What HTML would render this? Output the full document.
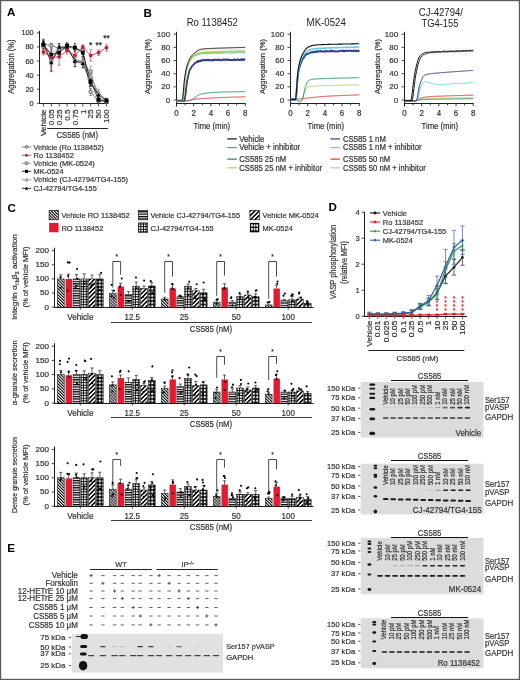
<!DOCTYPE html>
<html><head><meta charset="utf-8"><style>
html,body{margin:0;padding:0;background:#fff;}
svg{display:block;font-family:"Liberation Sans",sans-serif;will-change:transform;}
</style></head><body>
<svg width="520" height="680" viewBox="0 0 520 680">
<defs>
<pattern id="p0" patternUnits="userSpaceOnUse" width="2.1" height="2.1" patternTransform="rotate(-45)"><rect width="2.1" height="2.1" fill="#fff"/><rect width="1.05" height="2.1" fill="#000"/></pattern>
<pattern id="p2" patternUnits="userSpaceOnUse" width="2.4" height="2.4"><rect width="2.4" height="2.4" fill="#fff"/><rect width="2.4" height="1.25" fill="#000"/></pattern>
<pattern id="p3" patternUnits="userSpaceOnUse" width="2.6" height="2.6"><rect width="2.6" height="2.6" fill="#fff"/><rect x="0" width="0.9" height="2.6" fill="#000"/><rect y="0" width="2.6" height="0.9" fill="#000"/></pattern>
<pattern id="p4" patternUnits="userSpaceOnUse" width="3.1" height="3.1" patternTransform="rotate(45)"><rect width="3.1" height="3.1" fill="#fff"/><rect width="1.55" height="3.1" fill="#000"/></pattern>
<pattern id="p5" patternUnits="userSpaceOnUse" width="3.5" height="3.5"><rect width="3.5" height="3.5" fill="#000"/><rect x="0.7" y="0.7" width="2.1" height="2.1" fill="#fff"/></pattern>
</defs>
<rect x="0.6" y="0.6" width="518.8" height="678.8" fill="white" stroke="#5a5a5a" stroke-width="1.2"/>
<text x="7" y="16.3" font-size="11.6" font-weight="bold" fill="#000">A</text>
<line x1="39.5" y1="30.8" x2="39.5" y2="104" stroke="#231f20" stroke-width="1"/>
<line x1="39" y1="103.5" x2="108.5" y2="103.5" stroke="#231f20" stroke-width="1"/>
<line x1="36.9" y1="103.3" x2="39.5" y2="103.3" stroke="#231f20" stroke-width="0.8"/>
<text x="33.6" y="105.8" font-size="7.74" text-anchor="end" fill="#333" stroke="#333" stroke-width="0.2" textLength="4.06" lengthAdjust="spacingAndGlyphs">0</text>
<line x1="36.9" y1="89.22" x2="39.5" y2="89.22" stroke="#231f20" stroke-width="0.8"/>
<text x="33.6" y="91.72" font-size="7.74" text-anchor="end" fill="#333" stroke="#333" stroke-width="0.2" textLength="8.12" lengthAdjust="spacingAndGlyphs">20</text>
<line x1="36.9" y1="75.14" x2="39.5" y2="75.14" stroke="#231f20" stroke-width="0.8"/>
<text x="33.6" y="77.64" font-size="7.74" text-anchor="end" fill="#333" stroke="#333" stroke-width="0.2" textLength="8.12" lengthAdjust="spacingAndGlyphs">40</text>
<line x1="36.9" y1="61.06" x2="39.5" y2="61.06" stroke="#231f20" stroke-width="0.8"/>
<text x="33.6" y="63.56" font-size="7.74" text-anchor="end" fill="#333" stroke="#333" stroke-width="0.2" textLength="8.12" lengthAdjust="spacingAndGlyphs">60</text>
<line x1="36.9" y1="46.98" x2="39.5" y2="46.98" stroke="#231f20" stroke-width="0.8"/>
<text x="33.6" y="49.48" font-size="7.74" text-anchor="end" fill="#333" stroke="#333" stroke-width="0.2" textLength="8.12" lengthAdjust="spacingAndGlyphs">80</text>
<line x1="36.9" y1="32.9" x2="39.5" y2="32.9" stroke="#231f20" stroke-width="0.8"/>
<text x="33.6" y="35.4" font-size="7.74" text-anchor="end" fill="#333" stroke="#333" stroke-width="0.2" textLength="12.18" lengthAdjust="spacingAndGlyphs">100</text>
<text transform="translate(14.1 66.7) rotate(-90)" font-size="8.48" text-anchor="middle" fill="#333" stroke="#333" stroke-width="0.2" textLength="54.2" lengthAdjust="spacingAndGlyphs">Aggregation (%)</text>
<line x1="43.4" y1="103.6" x2="43.4" y2="106.5" stroke="#231f20" stroke-width="0.8"/>
<text transform="translate(46.1 109.4) rotate(-90)" font-size="8.06" text-anchor="end" fill="#333" stroke="#333" stroke-width="0.2" textLength="26.67" lengthAdjust="spacingAndGlyphs">Vehicle</text>
<line x1="51.28" y1="103.6" x2="51.28" y2="106.5" stroke="#231f20" stroke-width="0.8"/>
<text transform="translate(53.98 109.4) rotate(-90)" font-size="8.06" text-anchor="end" fill="#333" stroke="#333" stroke-width="0.2" textLength="15.83" lengthAdjust="spacingAndGlyphs">0.05</text>
<line x1="59.16" y1="103.6" x2="59.16" y2="106.5" stroke="#231f20" stroke-width="0.8"/>
<text transform="translate(61.86 109.4) rotate(-90)" font-size="8.06" text-anchor="end" fill="#333" stroke="#333" stroke-width="0.2" textLength="15.83" lengthAdjust="spacingAndGlyphs">0.25</text>
<line x1="67.04" y1="103.6" x2="67.04" y2="106.5" stroke="#231f20" stroke-width="0.8"/>
<text transform="translate(69.74 109.4) rotate(-90)" font-size="8.06" text-anchor="end" fill="#333" stroke="#333" stroke-width="0.2" textLength="11.3" lengthAdjust="spacingAndGlyphs">0.5</text>
<line x1="74.92" y1="103.6" x2="74.92" y2="106.5" stroke="#231f20" stroke-width="0.8"/>
<text transform="translate(77.62 109.4) rotate(-90)" font-size="8.06" text-anchor="end" fill="#333" stroke="#333" stroke-width="0.2" textLength="15.83" lengthAdjust="spacingAndGlyphs">0.75</text>
<line x1="82.8" y1="103.6" x2="82.8" y2="106.5" stroke="#231f20" stroke-width="0.8"/>
<text transform="translate(85.5 109.4) rotate(-90)" font-size="8.06" text-anchor="end" fill="#333" stroke="#333" stroke-width="0.2" textLength="4.52" lengthAdjust="spacingAndGlyphs">1</text>
<line x1="90.68" y1="103.6" x2="90.68" y2="106.5" stroke="#231f20" stroke-width="0.8"/>
<text transform="translate(93.38 109.4) rotate(-90)" font-size="8.06" text-anchor="end" fill="#333" stroke="#333" stroke-width="0.2" textLength="9.05" lengthAdjust="spacingAndGlyphs">25</text>
<line x1="98.56" y1="103.6" x2="98.56" y2="106.5" stroke="#231f20" stroke-width="0.8"/>
<text transform="translate(101.26 109.4) rotate(-90)" font-size="8.06" text-anchor="end" fill="#333" stroke="#333" stroke-width="0.2" textLength="9.05" lengthAdjust="spacingAndGlyphs">50</text>
<line x1="106.44" y1="103.6" x2="106.44" y2="106.5" stroke="#231f20" stroke-width="0.8"/>
<text transform="translate(109.14 109.4) rotate(-90)" font-size="8.06" text-anchor="end" fill="#333" stroke="#333" stroke-width="0.2" textLength="13.57" lengthAdjust="spacingAndGlyphs">100</text>
<line x1="47.3" y1="128.5" x2="107.8" y2="128.5" stroke="#231f20" stroke-width="1"/>
<text x="77.3" y="137.6" font-size="8.69" text-anchor="middle" fill="#333" stroke="#333" stroke-width="0.2" textLength="41.5" lengthAdjust="spacingAndGlyphs">CS585 (nM)</text>
<polyline points="43.4,44.16 51.28,45.57 59.16,48.39 67.04,46.98 74.92,48.39 82.8,50.5 90.68,92.04 98.56,101.19 106.44,101.19" fill="none" stroke="#58595b" stroke-width="0.8"/>
<line x1="43.4" y1="47.68" x2="43.4" y2="40.64" stroke="#58595b" stroke-width="0.6"/>
<line x1="42.1" y1="40.64" x2="44.7" y2="40.64" stroke="#58595b" stroke-width="0.6"/>
<line x1="42.1" y1="47.68" x2="44.7" y2="47.68" stroke="#58595b" stroke-width="0.6"/>
<line x1="51.28" y1="47.68" x2="51.28" y2="43.46" stroke="#58595b" stroke-width="0.6"/>
<line x1="49.98" y1="43.46" x2="52.58" y2="43.46" stroke="#58595b" stroke-width="0.6"/>
<line x1="49.98" y1="47.68" x2="52.58" y2="47.68" stroke="#58595b" stroke-width="0.6"/>
<line x1="59.16" y1="51.2" x2="59.16" y2="45.57" stroke="#58595b" stroke-width="0.6"/>
<line x1="57.86" y1="45.57" x2="60.46" y2="45.57" stroke="#58595b" stroke-width="0.6"/>
<line x1="57.86" y1="51.2" x2="60.46" y2="51.2" stroke="#58595b" stroke-width="0.6"/>
<line x1="67.04" y1="49.09" x2="67.04" y2="44.87" stroke="#58595b" stroke-width="0.6"/>
<line x1="65.74" y1="44.87" x2="68.34" y2="44.87" stroke="#58595b" stroke-width="0.6"/>
<line x1="65.74" y1="49.09" x2="68.34" y2="49.09" stroke="#58595b" stroke-width="0.6"/>
<line x1="74.92" y1="51.2" x2="74.92" y2="45.57" stroke="#58595b" stroke-width="0.6"/>
<line x1="73.62" y1="45.57" x2="76.22" y2="45.57" stroke="#58595b" stroke-width="0.6"/>
<line x1="73.62" y1="51.2" x2="76.22" y2="51.2" stroke="#58595b" stroke-width="0.6"/>
<line x1="82.8" y1="54.02" x2="82.8" y2="46.98" stroke="#58595b" stroke-width="0.6"/>
<line x1="81.5" y1="46.98" x2="84.1" y2="46.98" stroke="#58595b" stroke-width="0.6"/>
<line x1="81.5" y1="54.02" x2="84.1" y2="54.02" stroke="#58595b" stroke-width="0.6"/>
<line x1="90.68" y1="95.56" x2="90.68" y2="88.52" stroke="#58595b" stroke-width="0.6"/>
<line x1="89.38" y1="88.52" x2="91.98" y2="88.52" stroke="#58595b" stroke-width="0.6"/>
<line x1="89.38" y1="95.56" x2="91.98" y2="95.56" stroke="#58595b" stroke-width="0.6"/>
<line x1="98.56" y1="102.6" x2="98.56" y2="99.78" stroke="#58595b" stroke-width="0.6"/>
<line x1="97.26" y1="99.78" x2="99.86" y2="99.78" stroke="#58595b" stroke-width="0.6"/>
<line x1="97.26" y1="102.6" x2="99.86" y2="102.6" stroke="#58595b" stroke-width="0.6"/>
<line x1="106.44" y1="102.6" x2="106.44" y2="99.78" stroke="#58595b" stroke-width="0.6"/>
<line x1="105.14" y1="99.78" x2="107.74" y2="99.78" stroke="#58595b" stroke-width="0.6"/>
<line x1="105.14" y1="102.6" x2="107.74" y2="102.6" stroke="#58595b" stroke-width="0.6"/>
<polyline points="43.4,45.57 51.28,61.06 59.16,50.5 67.04,47.68 74.92,61.06 82.8,62.47 90.68,71.62 98.56,99.78 106.44,101.19" fill="none" stroke="#808285" stroke-width="0.8"/>
<line x1="43.4" y1="49.8" x2="43.4" y2="41.35" stroke="#808285" stroke-width="0.6"/>
<line x1="42.1" y1="41.35" x2="44.7" y2="41.35" stroke="#808285" stroke-width="0.6"/>
<line x1="42.1" y1="49.8" x2="44.7" y2="49.8" stroke="#808285" stroke-width="0.6"/>
<line x1="51.28" y1="66.69" x2="51.28" y2="55.43" stroke="#808285" stroke-width="0.6"/>
<line x1="49.98" y1="55.43" x2="52.58" y2="55.43" stroke="#808285" stroke-width="0.6"/>
<line x1="49.98" y1="66.69" x2="52.58" y2="66.69" stroke="#808285" stroke-width="0.6"/>
<line x1="59.16" y1="54.72" x2="59.16" y2="46.28" stroke="#808285" stroke-width="0.6"/>
<line x1="57.86" y1="46.28" x2="60.46" y2="46.28" stroke="#808285" stroke-width="0.6"/>
<line x1="57.86" y1="54.72" x2="60.46" y2="54.72" stroke="#808285" stroke-width="0.6"/>
<line x1="67.04" y1="50.5" x2="67.04" y2="44.87" stroke="#808285" stroke-width="0.6"/>
<line x1="65.74" y1="44.87" x2="68.34" y2="44.87" stroke="#808285" stroke-width="0.6"/>
<line x1="65.74" y1="50.5" x2="68.34" y2="50.5" stroke="#808285" stroke-width="0.6"/>
<line x1="74.92" y1="66.69" x2="74.92" y2="55.43" stroke="#808285" stroke-width="0.6"/>
<line x1="73.62" y1="55.43" x2="76.22" y2="55.43" stroke="#808285" stroke-width="0.6"/>
<line x1="73.62" y1="66.69" x2="76.22" y2="66.69" stroke="#808285" stroke-width="0.6"/>
<line x1="82.8" y1="68.1" x2="82.8" y2="56.84" stroke="#808285" stroke-width="0.6"/>
<line x1="81.5" y1="56.84" x2="84.1" y2="56.84" stroke="#808285" stroke-width="0.6"/>
<line x1="81.5" y1="68.1" x2="84.1" y2="68.1" stroke="#808285" stroke-width="0.6"/>
<line x1="90.68" y1="77.25" x2="90.68" y2="65.99" stroke="#808285" stroke-width="0.6"/>
<line x1="89.38" y1="65.99" x2="91.98" y2="65.99" stroke="#808285" stroke-width="0.6"/>
<line x1="89.38" y1="77.25" x2="91.98" y2="77.25" stroke="#808285" stroke-width="0.6"/>
<line x1="98.56" y1="101.89" x2="98.56" y2="97.67" stroke="#808285" stroke-width="0.6"/>
<line x1="97.26" y1="97.67" x2="99.86" y2="97.67" stroke="#808285" stroke-width="0.6"/>
<line x1="97.26" y1="101.89" x2="99.86" y2="101.89" stroke="#808285" stroke-width="0.6"/>
<line x1="106.44" y1="102.6" x2="106.44" y2="99.78" stroke="#808285" stroke-width="0.6"/>
<line x1="105.14" y1="99.78" x2="107.74" y2="99.78" stroke="#808285" stroke-width="0.6"/>
<line x1="105.14" y1="102.6" x2="107.74" y2="102.6" stroke="#808285" stroke-width="0.6"/>
<polyline points="43.4,43.46 51.28,55.43 59.16,46.98 67.04,48.39 74.92,59.65 82.8,61.06 90.68,76.55 98.56,92.74 106.44,99.78" fill="none" stroke="#808285" stroke-width="0.8"/>
<line x1="43.4" y1="46.28" x2="43.4" y2="40.64" stroke="#808285" stroke-width="0.6"/>
<line x1="42.1" y1="40.64" x2="44.7" y2="40.64" stroke="#808285" stroke-width="0.6"/>
<line x1="42.1" y1="46.28" x2="44.7" y2="46.28" stroke="#808285" stroke-width="0.6"/>
<line x1="51.28" y1="59.65" x2="51.28" y2="51.2" stroke="#808285" stroke-width="0.6"/>
<line x1="49.98" y1="51.2" x2="52.58" y2="51.2" stroke="#808285" stroke-width="0.6"/>
<line x1="49.98" y1="59.65" x2="52.58" y2="59.65" stroke="#808285" stroke-width="0.6"/>
<line x1="59.16" y1="49.8" x2="59.16" y2="44.16" stroke="#808285" stroke-width="0.6"/>
<line x1="57.86" y1="44.16" x2="60.46" y2="44.16" stroke="#808285" stroke-width="0.6"/>
<line x1="57.86" y1="49.8" x2="60.46" y2="49.8" stroke="#808285" stroke-width="0.6"/>
<line x1="67.04" y1="51.2" x2="67.04" y2="45.57" stroke="#808285" stroke-width="0.6"/>
<line x1="65.74" y1="45.57" x2="68.34" y2="45.57" stroke="#808285" stroke-width="0.6"/>
<line x1="65.74" y1="51.2" x2="68.34" y2="51.2" stroke="#808285" stroke-width="0.6"/>
<line x1="74.92" y1="63.88" x2="74.92" y2="55.43" stroke="#808285" stroke-width="0.6"/>
<line x1="73.62" y1="55.43" x2="76.22" y2="55.43" stroke="#808285" stroke-width="0.6"/>
<line x1="73.62" y1="63.88" x2="76.22" y2="63.88" stroke="#808285" stroke-width="0.6"/>
<line x1="82.8" y1="65.28" x2="82.8" y2="56.84" stroke="#808285" stroke-width="0.6"/>
<line x1="81.5" y1="56.84" x2="84.1" y2="56.84" stroke="#808285" stroke-width="0.6"/>
<line x1="81.5" y1="65.28" x2="84.1" y2="65.28" stroke="#808285" stroke-width="0.6"/>
<line x1="90.68" y1="82.18" x2="90.68" y2="70.92" stroke="#808285" stroke-width="0.6"/>
<line x1="89.38" y1="70.92" x2="91.98" y2="70.92" stroke="#808285" stroke-width="0.6"/>
<line x1="89.38" y1="82.18" x2="91.98" y2="82.18" stroke="#808285" stroke-width="0.6"/>
<line x1="98.56" y1="96.26" x2="98.56" y2="89.22" stroke="#808285" stroke-width="0.6"/>
<line x1="97.26" y1="89.22" x2="99.86" y2="89.22" stroke="#808285" stroke-width="0.6"/>
<line x1="97.26" y1="96.26" x2="99.86" y2="96.26" stroke="#808285" stroke-width="0.6"/>
<line x1="106.44" y1="101.19" x2="106.44" y2="98.37" stroke="#808285" stroke-width="0.6"/>
<line x1="105.14" y1="98.37" x2="107.74" y2="98.37" stroke="#808285" stroke-width="0.6"/>
<line x1="105.14" y1="101.19" x2="107.74" y2="101.19" stroke="#808285" stroke-width="0.6"/>
<polyline points="43.4,44.87 51.28,54.72 59.16,52.61 67.04,45.57 74.92,47.68 82.8,52.61 90.68,81.48 98.56,99.78 106.44,100.48" fill="none" stroke="#000" stroke-width="0.8"/>
<line x1="43.4" y1="48.39" x2="43.4" y2="41.35" stroke="#000" stroke-width="0.6"/>
<line x1="42.1" y1="41.35" x2="44.7" y2="41.35" stroke="#000" stroke-width="0.6"/>
<line x1="42.1" y1="48.39" x2="44.7" y2="48.39" stroke="#000" stroke-width="0.6"/>
<line x1="51.28" y1="60.36" x2="51.28" y2="49.09" stroke="#000" stroke-width="0.6"/>
<line x1="49.98" y1="49.09" x2="52.58" y2="49.09" stroke="#000" stroke-width="0.6"/>
<line x1="49.98" y1="60.36" x2="52.58" y2="60.36" stroke="#000" stroke-width="0.6"/>
<line x1="59.16" y1="56.84" x2="59.16" y2="48.39" stroke="#000" stroke-width="0.6"/>
<line x1="57.86" y1="48.39" x2="60.46" y2="48.39" stroke="#000" stroke-width="0.6"/>
<line x1="57.86" y1="56.84" x2="60.46" y2="56.84" stroke="#000" stroke-width="0.6"/>
<line x1="67.04" y1="48.39" x2="67.04" y2="42.76" stroke="#000" stroke-width="0.6"/>
<line x1="65.74" y1="42.76" x2="68.34" y2="42.76" stroke="#000" stroke-width="0.6"/>
<line x1="65.74" y1="48.39" x2="68.34" y2="48.39" stroke="#000" stroke-width="0.6"/>
<line x1="74.92" y1="51.91" x2="74.92" y2="43.46" stroke="#000" stroke-width="0.6"/>
<line x1="73.62" y1="43.46" x2="76.22" y2="43.46" stroke="#000" stroke-width="0.6"/>
<line x1="73.62" y1="51.91" x2="76.22" y2="51.91" stroke="#000" stroke-width="0.6"/>
<line x1="82.8" y1="56.84" x2="82.8" y2="48.39" stroke="#000" stroke-width="0.6"/>
<line x1="81.5" y1="48.39" x2="84.1" y2="48.39" stroke="#000" stroke-width="0.6"/>
<line x1="81.5" y1="56.84" x2="84.1" y2="56.84" stroke="#000" stroke-width="0.6"/>
<line x1="90.68" y1="85.7" x2="90.68" y2="77.25" stroke="#000" stroke-width="0.6"/>
<line x1="89.38" y1="77.25" x2="91.98" y2="77.25" stroke="#000" stroke-width="0.6"/>
<line x1="89.38" y1="85.7" x2="91.98" y2="85.7" stroke="#000" stroke-width="0.6"/>
<line x1="98.56" y1="101.19" x2="98.56" y2="98.37" stroke="#000" stroke-width="0.6"/>
<line x1="97.26" y1="98.37" x2="99.86" y2="98.37" stroke="#000" stroke-width="0.6"/>
<line x1="97.26" y1="101.19" x2="99.86" y2="101.19" stroke="#000" stroke-width="0.6"/>
<line x1="106.44" y1="101.89" x2="106.44" y2="99.08" stroke="#000" stroke-width="0.6"/>
<line x1="105.14" y1="99.08" x2="107.74" y2="99.08" stroke="#000" stroke-width="0.6"/>
<line x1="105.14" y1="101.89" x2="107.74" y2="101.89" stroke="#000" stroke-width="0.6"/>
<polyline points="43.4,42.76 51.28,62.47 59.16,46.98 67.04,46.98 74.92,61.06 82.8,63.17 90.68,82.18 98.56,94.85 106.44,100.48" fill="none" stroke="#000" stroke-width="0.8"/>
<line x1="43.4" y1="46.28" x2="43.4" y2="39.24" stroke="#000" stroke-width="0.6"/>
<line x1="42.1" y1="39.24" x2="44.7" y2="39.24" stroke="#000" stroke-width="0.6"/>
<line x1="42.1" y1="46.28" x2="44.7" y2="46.28" stroke="#000" stroke-width="0.6"/>
<line x1="51.28" y1="70.92" x2="51.28" y2="54.02" stroke="#000" stroke-width="0.6"/>
<line x1="49.98" y1="54.02" x2="52.58" y2="54.02" stroke="#000" stroke-width="0.6"/>
<line x1="49.98" y1="70.92" x2="52.58" y2="70.92" stroke="#000" stroke-width="0.6"/>
<line x1="59.16" y1="50.5" x2="59.16" y2="43.46" stroke="#000" stroke-width="0.6"/>
<line x1="57.86" y1="43.46" x2="60.46" y2="43.46" stroke="#000" stroke-width="0.6"/>
<line x1="57.86" y1="50.5" x2="60.46" y2="50.5" stroke="#000" stroke-width="0.6"/>
<line x1="67.04" y1="49.8" x2="67.04" y2="44.16" stroke="#000" stroke-width="0.6"/>
<line x1="65.74" y1="44.16" x2="68.34" y2="44.16" stroke="#000" stroke-width="0.6"/>
<line x1="65.74" y1="49.8" x2="68.34" y2="49.8" stroke="#000" stroke-width="0.6"/>
<line x1="74.92" y1="66.69" x2="74.92" y2="55.43" stroke="#000" stroke-width="0.6"/>
<line x1="73.62" y1="55.43" x2="76.22" y2="55.43" stroke="#000" stroke-width="0.6"/>
<line x1="73.62" y1="66.69" x2="76.22" y2="66.69" stroke="#000" stroke-width="0.6"/>
<line x1="82.8" y1="67.4" x2="82.8" y2="58.95" stroke="#000" stroke-width="0.6"/>
<line x1="81.5" y1="58.95" x2="84.1" y2="58.95" stroke="#000" stroke-width="0.6"/>
<line x1="81.5" y1="67.4" x2="84.1" y2="67.4" stroke="#000" stroke-width="0.6"/>
<line x1="90.68" y1="86.4" x2="90.68" y2="77.96" stroke="#000" stroke-width="0.6"/>
<line x1="89.38" y1="77.96" x2="91.98" y2="77.96" stroke="#000" stroke-width="0.6"/>
<line x1="89.38" y1="86.4" x2="91.98" y2="86.4" stroke="#000" stroke-width="0.6"/>
<line x1="98.56" y1="97.67" x2="98.56" y2="92.04" stroke="#000" stroke-width="0.6"/>
<line x1="97.26" y1="92.04" x2="99.86" y2="92.04" stroke="#000" stroke-width="0.6"/>
<line x1="97.26" y1="97.67" x2="99.86" y2="97.67" stroke="#000" stroke-width="0.6"/>
<line x1="106.44" y1="101.89" x2="106.44" y2="99.08" stroke="#000" stroke-width="0.6"/>
<line x1="105.14" y1="99.08" x2="107.74" y2="99.08" stroke="#000" stroke-width="0.6"/>
<line x1="105.14" y1="101.89" x2="107.74" y2="101.89" stroke="#000" stroke-width="0.6"/>
<polyline points="43.4,51.91 51.28,57.54 59.16,56.84 67.04,50.5 74.92,55.43 82.8,46.98 90.68,55.43 98.56,52.61 106.44,47.68" fill="none" stroke="#c4213a" stroke-width="0.8"/>
<line x1="43.4" y1="54.72" x2="43.4" y2="49.09" stroke="#c4213a" stroke-width="0.6"/>
<line x1="42.1" y1="49.09" x2="44.7" y2="49.09" stroke="#c4213a" stroke-width="0.6"/>
<line x1="42.1" y1="54.72" x2="44.7" y2="54.72" stroke="#c4213a" stroke-width="0.6"/>
<line x1="51.28" y1="71.62" x2="51.28" y2="43.46" stroke="#c4213a" stroke-width="0.6"/>
<line x1="49.98" y1="43.46" x2="52.58" y2="43.46" stroke="#c4213a" stroke-width="0.6"/>
<line x1="49.98" y1="71.62" x2="52.58" y2="71.62" stroke="#c4213a" stroke-width="0.6"/>
<line x1="59.16" y1="65.28" x2="59.16" y2="48.39" stroke="#c4213a" stroke-width="0.6"/>
<line x1="57.86" y1="48.39" x2="60.46" y2="48.39" stroke="#c4213a" stroke-width="0.6"/>
<line x1="57.86" y1="65.28" x2="60.46" y2="65.28" stroke="#c4213a" stroke-width="0.6"/>
<line x1="67.04" y1="54.02" x2="67.04" y2="46.98" stroke="#c4213a" stroke-width="0.6"/>
<line x1="65.74" y1="46.98" x2="68.34" y2="46.98" stroke="#c4213a" stroke-width="0.6"/>
<line x1="65.74" y1="54.02" x2="68.34" y2="54.02" stroke="#c4213a" stroke-width="0.6"/>
<line x1="74.92" y1="61.06" x2="74.92" y2="49.8" stroke="#c4213a" stroke-width="0.6"/>
<line x1="73.62" y1="49.8" x2="76.22" y2="49.8" stroke="#c4213a" stroke-width="0.6"/>
<line x1="73.62" y1="61.06" x2="76.22" y2="61.06" stroke="#c4213a" stroke-width="0.6"/>
<line x1="82.8" y1="49.09" x2="82.8" y2="44.87" stroke="#c4213a" stroke-width="0.6"/>
<line x1="81.5" y1="44.87" x2="84.1" y2="44.87" stroke="#c4213a" stroke-width="0.6"/>
<line x1="81.5" y1="49.09" x2="84.1" y2="49.09" stroke="#c4213a" stroke-width="0.6"/>
<line x1="90.68" y1="61.06" x2="90.68" y2="49.8" stroke="#c4213a" stroke-width="0.6"/>
<line x1="89.38" y1="49.8" x2="91.98" y2="49.8" stroke="#c4213a" stroke-width="0.6"/>
<line x1="89.38" y1="61.06" x2="91.98" y2="61.06" stroke="#c4213a" stroke-width="0.6"/>
<line x1="98.56" y1="55.43" x2="98.56" y2="49.8" stroke="#c4213a" stroke-width="0.6"/>
<line x1="97.26" y1="49.8" x2="99.86" y2="49.8" stroke="#c4213a" stroke-width="0.6"/>
<line x1="97.26" y1="55.43" x2="99.86" y2="55.43" stroke="#c4213a" stroke-width="0.6"/>
<line x1="106.44" y1="51.2" x2="106.44" y2="44.16" stroke="#c4213a" stroke-width="0.6"/>
<line x1="105.14" y1="44.16" x2="107.74" y2="44.16" stroke="#c4213a" stroke-width="0.6"/>
<line x1="105.14" y1="51.2" x2="107.74" y2="51.2" stroke="#c4213a" stroke-width="0.6"/>
<circle cx="43.4" cy="44.16" r="1.71" fill="#d0d0d0" stroke="#58595b" stroke-width="0.9"/>
<circle cx="51.28" cy="45.57" r="1.71" fill="#d0d0d0" stroke="#58595b" stroke-width="0.9"/>
<circle cx="59.16" cy="48.39" r="1.71" fill="#d0d0d0" stroke="#58595b" stroke-width="0.9"/>
<circle cx="67.04" cy="46.98" r="1.71" fill="#d0d0d0" stroke="#58595b" stroke-width="0.9"/>
<circle cx="74.92" cy="48.39" r="1.71" fill="#d0d0d0" stroke="#58595b" stroke-width="0.9"/>
<circle cx="82.8" cy="50.5" r="1.71" fill="#d0d0d0" stroke="#58595b" stroke-width="0.9"/>
<circle cx="90.68" cy="92.04" r="1.71" fill="#d0d0d0" stroke="#58595b" stroke-width="0.9"/>
<circle cx="98.56" cy="101.19" r="1.71" fill="#d0d0d0" stroke="#58595b" stroke-width="0.9"/>
<circle cx="106.44" cy="101.19" r="1.71" fill="#d0d0d0" stroke="#58595b" stroke-width="0.9"/>
<rect x="41.78" y="43.96" width="3.23" height="3.23" fill="#bbb" stroke="#808285" stroke-width="0.9"/>
<rect x="49.66" y="59.45" width="3.23" height="3.23" fill="#bbb" stroke="#808285" stroke-width="0.9"/>
<rect x="57.54" y="48.88" width="3.23" height="3.23" fill="#bbb" stroke="#808285" stroke-width="0.9"/>
<rect x="65.42" y="46.07" width="3.23" height="3.23" fill="#bbb" stroke="#808285" stroke-width="0.9"/>
<rect x="73.31" y="59.45" width="3.23" height="3.23" fill="#bbb" stroke="#808285" stroke-width="0.9"/>
<rect x="81.19" y="60.85" width="3.23" height="3.23" fill="#bbb" stroke="#808285" stroke-width="0.9"/>
<rect x="89.07" y="70.01" width="3.23" height="3.23" fill="#bbb" stroke="#808285" stroke-width="0.9"/>
<rect x="96.95" y="98.17" width="3.23" height="3.23" fill="#bbb" stroke="#808285" stroke-width="0.9"/>
<rect x="104.83" y="99.57" width="3.23" height="3.23" fill="#bbb" stroke="#808285" stroke-width="0.9"/>
<path d="M43.4 41.37L45.3 44.98L41.5 44.98Z" fill="#ccc" stroke="#808285" stroke-width="0.8"/>
<path d="M51.28 53.34L53.18 56.95L49.38 56.95Z" fill="#ccc" stroke="#808285" stroke-width="0.8"/>
<path d="M59.16 44.89L61.06 48.5L57.26 48.5Z" fill="#ccc" stroke="#808285" stroke-width="0.8"/>
<path d="M67.04 46.3L68.94 49.91L65.14 49.91Z" fill="#ccc" stroke="#808285" stroke-width="0.8"/>
<path d="M74.92 57.56L76.82 61.17L73.02 61.17Z" fill="#ccc" stroke="#808285" stroke-width="0.8"/>
<path d="M82.8 58.97L84.7 62.58L80.9 62.58Z" fill="#ccc" stroke="#808285" stroke-width="0.8"/>
<path d="M90.68 74.46L92.58 78.07L88.78 78.07Z" fill="#ccc" stroke="#808285" stroke-width="0.8"/>
<path d="M98.56 90.65L100.46 94.26L96.66 94.26Z" fill="#ccc" stroke="#808285" stroke-width="0.8"/>
<path d="M106.44 97.69L108.34 101.3L104.54 101.3Z" fill="#ccc" stroke="#808285" stroke-width="0.8"/>
<rect x="41.5" y="42.97" width="3.8" height="3.8" fill="#000"/>
<rect x="49.38" y="52.82" width="3.8" height="3.8" fill="#000"/>
<rect x="57.26" y="50.71" width="3.8" height="3.8" fill="#000"/>
<rect x="65.14" y="43.67" width="3.8" height="3.8" fill="#000"/>
<rect x="73.02" y="45.78" width="3.8" height="3.8" fill="#000"/>
<rect x="80.9" y="50.71" width="3.8" height="3.8" fill="#000"/>
<rect x="88.78" y="79.58" width="3.8" height="3.8" fill="#000"/>
<rect x="96.66" y="97.88" width="3.8" height="3.8" fill="#000"/>
<rect x="104.54" y="98.58" width="3.8" height="3.8" fill="#000"/>
<path d="M43.4 40.48L45.49 44.47L41.31 44.47Z" fill="#000"/>
<path d="M51.28 60.19L53.37 64.18L49.19 64.18Z" fill="#000"/>
<path d="M59.16 44.7L61.25 48.69L57.07 48.69Z" fill="#000"/>
<path d="M67.04 44.7L69.13 48.69L64.95 48.69Z" fill="#000"/>
<path d="M74.92 58.78L77.01 62.77L72.83 62.77Z" fill="#000"/>
<path d="M82.8 60.89L84.89 64.88L80.71 64.88Z" fill="#000"/>
<path d="M90.68 79.9L92.77 83.89L88.59 83.89Z" fill="#000"/>
<path d="M98.56 92.57L100.65 96.56L96.47 96.56Z" fill="#000"/>
<path d="M106.44 98.2L108.53 102.19L104.35 102.19Z" fill="#000"/>
<circle cx="43.4" cy="51.91" r="1.9" fill="#c4213a"/>
<circle cx="51.28" cy="57.54" r="1.9" fill="#c4213a"/>
<circle cx="59.16" cy="56.84" r="1.9" fill="#c4213a"/>
<circle cx="67.04" cy="50.5" r="1.9" fill="#c4213a"/>
<circle cx="74.92" cy="55.43" r="1.9" fill="#c4213a"/>
<circle cx="82.8" cy="46.98" r="1.9" fill="#c4213a"/>
<circle cx="90.68" cy="55.43" r="1.9" fill="#c4213a"/>
<circle cx="98.56" cy="52.61" r="1.9" fill="#c4213a"/>
<circle cx="106.44" cy="47.68" r="1.9" fill="#c4213a"/>
<text x="90.6" y="47.8" font-size="9.01" text-anchor="middle" fill="#222" stroke="#222" stroke-width="0.2" textLength="3.31" lengthAdjust="spacingAndGlyphs">*</text>
<text x="98.7" y="47.8" font-size="9.01" text-anchor="middle" fill="#222" stroke="#222" stroke-width="0.2" textLength="6.62" lengthAdjust="spacingAndGlyphs">**</text>
<text x="106.5" y="41.4" font-size="9.01" text-anchor="middle" fill="#222" stroke="#222" stroke-width="0.2" textLength="6.62" lengthAdjust="spacingAndGlyphs">**</text>
<line x1="21.9" y1="146.9" x2="31.2" y2="146.9" stroke="#58595b" stroke-width="0.8"/>
<circle cx="26.5" cy="146.9" r="1.35" fill="#d0d0d0" stroke="#58595b" stroke-width="0.9"/>
<text x="33.5" y="149.5" font-size="7.84" fill="#333" stroke="#333" stroke-width="0.2" textLength="70.3" lengthAdjust="spacingAndGlyphs">Vehicle (Ro 1138452)</text>
<line x1="21.9" y1="155.3" x2="31.2" y2="155.3" stroke="#c4213a" stroke-width="0.8"/>
<circle cx="26.5" cy="155.3" r="1.5" fill="#c4213a"/>
<text x="33.5" y="157.9" font-size="7.84" fill="#333" stroke="#333" stroke-width="0.2" textLength="40.32" lengthAdjust="spacingAndGlyphs">Ro 1138452</text>
<line x1="21.9" y1="163.2" x2="31.2" y2="163.2" stroke="#808285" stroke-width="0.8"/>
<rect x="25.23" y="161.92" width="2.55" height="2.55" fill="#bbb" stroke="#808285" stroke-width="0.9"/>
<text x="33.5" y="165.8" font-size="7.84" fill="#333" stroke="#333" stroke-width="0.2" textLength="61.28" lengthAdjust="spacingAndGlyphs">Vehicle (MK-0524)</text>
<line x1="21.9" y1="171.3" x2="31.2" y2="171.3" stroke="#000" stroke-width="0.8"/>
<rect x="25" y="169.8" width="3" height="3" fill="#000"/>
<text x="33.5" y="173.9" font-size="7.84" fill="#333" stroke="#333" stroke-width="0.2" textLength="30.03" lengthAdjust="spacingAndGlyphs">MK-0524</text>
<line x1="21.9" y1="179.8" x2="31.2" y2="179.8" stroke="#808285" stroke-width="0.8"/>
<path d="M26.5 178.15L28 181L25 181Z" fill="#ccc" stroke="#808285" stroke-width="0.8"/>
<text x="33.5" y="182.4" font-size="7.84" fill="#333" stroke="#333" stroke-width="0.2" textLength="94.5" lengthAdjust="spacingAndGlyphs">Vehicle (CJ-42794/TG4-155)</text>
<line x1="21.9" y1="188.3" x2="31.2" y2="188.3" stroke="#000" stroke-width="0.8"/>
<path d="M26.5 186.5L28.15 189.65L24.85 189.65Z" fill="#000"/>
<text x="33.5" y="190.9" font-size="7.84" fill="#333" stroke="#333" stroke-width="0.2" textLength="63.34" lengthAdjust="spacingAndGlyphs">CJ-42794/TG4-155</text>
<text x="143.6" y="16.6" font-size="11.6" font-weight="bold" fill="#000">B</text>
<text x="212.3" y="26.4" font-size="10.49" text-anchor="middle" fill="#222" textLength="51.2" lengthAdjust="spacingAndGlyphs">Ro 1138452</text>
<line x1="176.5" y1="31.8" x2="176.5" y2="106.4" stroke="#231f20" stroke-width="1"/>
<line x1="176" y1="103.5" x2="245.72" y2="103.5" stroke="#231f20" stroke-width="1"/>
<line x1="173.5" y1="100" x2="176.5" y2="100" stroke="#231f20" stroke-width="0.8"/>
<text x="170.1" y="102.6" font-size="8.06" text-anchor="end" fill="#333" stroke="#333" stroke-width="0.2" textLength="4.44" lengthAdjust="spacingAndGlyphs">0</text>
<line x1="173.5" y1="86.84" x2="176.5" y2="86.84" stroke="#231f20" stroke-width="0.8"/>
<text x="170.1" y="89.44" font-size="8.06" text-anchor="end" fill="#333" stroke="#333" stroke-width="0.2" textLength="8.88" lengthAdjust="spacingAndGlyphs">20</text>
<line x1="173.5" y1="73.68" x2="176.5" y2="73.68" stroke="#231f20" stroke-width="0.8"/>
<text x="170.1" y="76.28" font-size="8.06" text-anchor="end" fill="#333" stroke="#333" stroke-width="0.2" textLength="8.88" lengthAdjust="spacingAndGlyphs">40</text>
<line x1="173.5" y1="60.52" x2="176.5" y2="60.52" stroke="#231f20" stroke-width="0.8"/>
<text x="170.1" y="63.12" font-size="8.06" text-anchor="end" fill="#333" stroke="#333" stroke-width="0.2" textLength="8.88" lengthAdjust="spacingAndGlyphs">60</text>
<line x1="173.5" y1="47.36" x2="176.5" y2="47.36" stroke="#231f20" stroke-width="0.8"/>
<text x="170.1" y="49.96" font-size="8.06" text-anchor="end" fill="#333" stroke="#333" stroke-width="0.2" textLength="8.88" lengthAdjust="spacingAndGlyphs">80</text>
<line x1="173.5" y1="34.2" x2="176.5" y2="34.2" stroke="#231f20" stroke-width="0.8"/>
<text x="170.1" y="36.8" font-size="8.06" text-anchor="end" fill="#333" stroke="#333" stroke-width="0.2" textLength="13.31" lengthAdjust="spacingAndGlyphs">100</text>
<line x1="176.5" y1="103.5" x2="176.5" y2="106.2" stroke="#231f20" stroke-width="0.9"/>
<text x="176.5" y="116.3" font-size="8.37" text-anchor="middle" fill="#333" stroke="#333" stroke-width="0.2" textLength="4.39" lengthAdjust="spacingAndGlyphs">0</text>
<line x1="185.09" y1="103.5" x2="185.09" y2="105.4" stroke="#231f20" stroke-width="0.9"/>
<line x1="193.68" y1="103.5" x2="193.68" y2="106.2" stroke="#231f20" stroke-width="0.9"/>
<text x="193.68" y="116.3" font-size="8.37" text-anchor="middle" fill="#333" stroke="#333" stroke-width="0.2" textLength="4.39" lengthAdjust="spacingAndGlyphs">2</text>
<line x1="202.27" y1="103.5" x2="202.27" y2="105.4" stroke="#231f20" stroke-width="0.9"/>
<line x1="210.86" y1="103.5" x2="210.86" y2="106.2" stroke="#231f20" stroke-width="0.9"/>
<text x="210.86" y="116.3" font-size="8.37" text-anchor="middle" fill="#333" stroke="#333" stroke-width="0.2" textLength="4.39" lengthAdjust="spacingAndGlyphs">4</text>
<line x1="219.45" y1="103.5" x2="219.45" y2="105.4" stroke="#231f20" stroke-width="0.9"/>
<line x1="228.04" y1="103.5" x2="228.04" y2="106.2" stroke="#231f20" stroke-width="0.9"/>
<text x="228.04" y="116.3" font-size="8.37" text-anchor="middle" fill="#333" stroke="#333" stroke-width="0.2" textLength="4.39" lengthAdjust="spacingAndGlyphs">6</text>
<line x1="236.63" y1="103.5" x2="236.63" y2="105.4" stroke="#231f20" stroke-width="0.9"/>
<line x1="245.22" y1="103.5" x2="245.22" y2="106.2" stroke="#231f20" stroke-width="0.9"/>
<text x="245.22" y="116.3" font-size="8.37" text-anchor="middle" fill="#333" stroke="#333" stroke-width="0.2" textLength="4.39" lengthAdjust="spacingAndGlyphs">8</text>
<text x="211.8" y="128.7" font-size="8.69" text-anchor="middle" fill="#333" stroke="#333" stroke-width="0.2" textLength="36.6" lengthAdjust="spacingAndGlyphs">Time (min)</text>
<text transform="translate(149.6 66.5) rotate(-90)" font-size="8.06" text-anchor="middle" fill="#333" stroke="#333" stroke-width="0.2" textLength="55" lengthAdjust="spacingAndGlyphs">Aggregation (%)</text>
<text x="326.2" y="26.4" font-size="10.49" text-anchor="middle" fill="#222" textLength="39.2" lengthAdjust="spacingAndGlyphs">MK-0524</text>
<line x1="290.5" y1="31.8" x2="290.5" y2="106.4" stroke="#231f20" stroke-width="1"/>
<line x1="290" y1="103.5" x2="359.72" y2="103.5" stroke="#231f20" stroke-width="1"/>
<line x1="287.5" y1="100" x2="290.5" y2="100" stroke="#231f20" stroke-width="0.8"/>
<text x="284.1" y="102.6" font-size="8.06" text-anchor="end" fill="#333" stroke="#333" stroke-width="0.2" textLength="4.44" lengthAdjust="spacingAndGlyphs">0</text>
<line x1="287.5" y1="86.84" x2="290.5" y2="86.84" stroke="#231f20" stroke-width="0.8"/>
<text x="284.1" y="89.44" font-size="8.06" text-anchor="end" fill="#333" stroke="#333" stroke-width="0.2" textLength="8.88" lengthAdjust="spacingAndGlyphs">20</text>
<line x1="287.5" y1="73.68" x2="290.5" y2="73.68" stroke="#231f20" stroke-width="0.8"/>
<text x="284.1" y="76.28" font-size="8.06" text-anchor="end" fill="#333" stroke="#333" stroke-width="0.2" textLength="8.88" lengthAdjust="spacingAndGlyphs">40</text>
<line x1="287.5" y1="60.52" x2="290.5" y2="60.52" stroke="#231f20" stroke-width="0.8"/>
<text x="284.1" y="63.12" font-size="8.06" text-anchor="end" fill="#333" stroke="#333" stroke-width="0.2" textLength="8.88" lengthAdjust="spacingAndGlyphs">60</text>
<line x1="287.5" y1="47.36" x2="290.5" y2="47.36" stroke="#231f20" stroke-width="0.8"/>
<text x="284.1" y="49.96" font-size="8.06" text-anchor="end" fill="#333" stroke="#333" stroke-width="0.2" textLength="8.88" lengthAdjust="spacingAndGlyphs">80</text>
<line x1="287.5" y1="34.2" x2="290.5" y2="34.2" stroke="#231f20" stroke-width="0.8"/>
<text x="284.1" y="36.8" font-size="8.06" text-anchor="end" fill="#333" stroke="#333" stroke-width="0.2" textLength="13.31" lengthAdjust="spacingAndGlyphs">100</text>
<line x1="290.5" y1="103.5" x2="290.5" y2="106.2" stroke="#231f20" stroke-width="0.9"/>
<text x="290.5" y="116.3" font-size="8.37" text-anchor="middle" fill="#333" stroke="#333" stroke-width="0.2" textLength="4.39" lengthAdjust="spacingAndGlyphs">0</text>
<line x1="299.09" y1="103.5" x2="299.09" y2="105.4" stroke="#231f20" stroke-width="0.9"/>
<line x1="307.68" y1="103.5" x2="307.68" y2="106.2" stroke="#231f20" stroke-width="0.9"/>
<text x="307.68" y="116.3" font-size="8.37" text-anchor="middle" fill="#333" stroke="#333" stroke-width="0.2" textLength="4.39" lengthAdjust="spacingAndGlyphs">2</text>
<line x1="316.27" y1="103.5" x2="316.27" y2="105.4" stroke="#231f20" stroke-width="0.9"/>
<line x1="324.86" y1="103.5" x2="324.86" y2="106.2" stroke="#231f20" stroke-width="0.9"/>
<text x="324.86" y="116.3" font-size="8.37" text-anchor="middle" fill="#333" stroke="#333" stroke-width="0.2" textLength="4.39" lengthAdjust="spacingAndGlyphs">4</text>
<line x1="333.45" y1="103.5" x2="333.45" y2="105.4" stroke="#231f20" stroke-width="0.9"/>
<line x1="342.04" y1="103.5" x2="342.04" y2="106.2" stroke="#231f20" stroke-width="0.9"/>
<text x="342.04" y="116.3" font-size="8.37" text-anchor="middle" fill="#333" stroke="#333" stroke-width="0.2" textLength="4.39" lengthAdjust="spacingAndGlyphs">6</text>
<line x1="350.63" y1="103.5" x2="350.63" y2="105.4" stroke="#231f20" stroke-width="0.9"/>
<line x1="359.22" y1="103.5" x2="359.22" y2="106.2" stroke="#231f20" stroke-width="0.9"/>
<text x="359.22" y="116.3" font-size="8.37" text-anchor="middle" fill="#333" stroke="#333" stroke-width="0.2" textLength="4.39" lengthAdjust="spacingAndGlyphs">8</text>
<text x="325.8" y="128.7" font-size="8.69" text-anchor="middle" fill="#333" stroke="#333" stroke-width="0.2" textLength="36.6" lengthAdjust="spacingAndGlyphs">Time (min)</text>
<text transform="translate(265.3 66.5) rotate(-90)" font-size="8.06" text-anchor="middle" fill="#333" stroke="#333" stroke-width="0.2" textLength="55" lengthAdjust="spacingAndGlyphs">Aggregation (%)</text>
<text x="440.9" y="16.2" font-size="10.49" text-anchor="middle" fill="#222" textLength="44.2" lengthAdjust="spacingAndGlyphs">CJ-42794/</text>
<text x="440" y="26.5" font-size="10.49" text-anchor="middle" fill="#222" textLength="37" lengthAdjust="spacingAndGlyphs">TG4-155</text>
<line x1="404.5" y1="31.8" x2="404.5" y2="106.4" stroke="#231f20" stroke-width="1"/>
<line x1="404" y1="103.5" x2="473.72" y2="103.5" stroke="#231f20" stroke-width="1"/>
<line x1="401.5" y1="100" x2="404.5" y2="100" stroke="#231f20" stroke-width="0.8"/>
<text x="398.1" y="102.6" font-size="8.06" text-anchor="end" fill="#333" stroke="#333" stroke-width="0.2" textLength="4.44" lengthAdjust="spacingAndGlyphs">0</text>
<line x1="401.5" y1="86.84" x2="404.5" y2="86.84" stroke="#231f20" stroke-width="0.8"/>
<text x="398.1" y="89.44" font-size="8.06" text-anchor="end" fill="#333" stroke="#333" stroke-width="0.2" textLength="8.88" lengthAdjust="spacingAndGlyphs">20</text>
<line x1="401.5" y1="73.68" x2="404.5" y2="73.68" stroke="#231f20" stroke-width="0.8"/>
<text x="398.1" y="76.28" font-size="8.06" text-anchor="end" fill="#333" stroke="#333" stroke-width="0.2" textLength="8.88" lengthAdjust="spacingAndGlyphs">40</text>
<line x1="401.5" y1="60.52" x2="404.5" y2="60.52" stroke="#231f20" stroke-width="0.8"/>
<text x="398.1" y="63.12" font-size="8.06" text-anchor="end" fill="#333" stroke="#333" stroke-width="0.2" textLength="8.88" lengthAdjust="spacingAndGlyphs">60</text>
<line x1="401.5" y1="47.36" x2="404.5" y2="47.36" stroke="#231f20" stroke-width="0.8"/>
<text x="398.1" y="49.96" font-size="8.06" text-anchor="end" fill="#333" stroke="#333" stroke-width="0.2" textLength="8.88" lengthAdjust="spacingAndGlyphs">80</text>
<line x1="401.5" y1="34.2" x2="404.5" y2="34.2" stroke="#231f20" stroke-width="0.8"/>
<text x="398.1" y="36.8" font-size="8.06" text-anchor="end" fill="#333" stroke="#333" stroke-width="0.2" textLength="13.31" lengthAdjust="spacingAndGlyphs">100</text>
<line x1="404.5" y1="103.5" x2="404.5" y2="106.2" stroke="#231f20" stroke-width="0.9"/>
<text x="404.5" y="116.3" font-size="8.37" text-anchor="middle" fill="#333" stroke="#333" stroke-width="0.2" textLength="4.39" lengthAdjust="spacingAndGlyphs">0</text>
<line x1="413.09" y1="103.5" x2="413.09" y2="105.4" stroke="#231f20" stroke-width="0.9"/>
<line x1="421.68" y1="103.5" x2="421.68" y2="106.2" stroke="#231f20" stroke-width="0.9"/>
<text x="421.68" y="116.3" font-size="8.37" text-anchor="middle" fill="#333" stroke="#333" stroke-width="0.2" textLength="4.39" lengthAdjust="spacingAndGlyphs">2</text>
<line x1="430.27" y1="103.5" x2="430.27" y2="105.4" stroke="#231f20" stroke-width="0.9"/>
<line x1="438.86" y1="103.5" x2="438.86" y2="106.2" stroke="#231f20" stroke-width="0.9"/>
<text x="438.86" y="116.3" font-size="8.37" text-anchor="middle" fill="#333" stroke="#333" stroke-width="0.2" textLength="4.39" lengthAdjust="spacingAndGlyphs">4</text>
<line x1="447.45" y1="103.5" x2="447.45" y2="105.4" stroke="#231f20" stroke-width="0.9"/>
<line x1="456.04" y1="103.5" x2="456.04" y2="106.2" stroke="#231f20" stroke-width="0.9"/>
<text x="456.04" y="116.3" font-size="8.37" text-anchor="middle" fill="#333" stroke="#333" stroke-width="0.2" textLength="4.39" lengthAdjust="spacingAndGlyphs">6</text>
<line x1="464.63" y1="103.5" x2="464.63" y2="105.4" stroke="#231f20" stroke-width="0.9"/>
<line x1="473.22" y1="103.5" x2="473.22" y2="106.2" stroke="#231f20" stroke-width="0.9"/>
<text x="473.22" y="116.3" font-size="8.37" text-anchor="middle" fill="#333" stroke="#333" stroke-width="0.2" textLength="4.39" lengthAdjust="spacingAndGlyphs">8</text>
<text x="439.8" y="128.7" font-size="8.69" text-anchor="middle" fill="#333" stroke="#333" stroke-width="0.2" textLength="36.6" lengthAdjust="spacingAndGlyphs">Time (min)</text>
<text transform="translate(380.2 66.5) rotate(-90)" font-size="8.06" text-anchor="middle" fill="#333" stroke="#333" stroke-width="0.2" textLength="55" lengthAdjust="spacingAndGlyphs">Aggregation (%)</text>
<polyline points="176.5,100.66 176.93,100.66 177.36,100.67 177.79,100.68 178.22,100.69 178.65,100.7 179.08,100.71 179.51,100.71 179.94,100.72 180.37,100.73 180.79,100.74 181.22,100.75 181.65,100.76 182.08,100.76 182.51,100.77 182.94,100.78 183.37,100.78 183.8,100.78 184.23,100.79 184.66,100.79 185.09,100.79 185.52,100.79 185.95,100.78 186.38,100.78 186.81,100.77 187.24,100.76 187.67,100.74 188.1,100.72 188.53,100.71 188.96,100.68 189.38,100.66 189.81,100.6 190.24,100.48 190.67,100.31 191.1,100.11 191.53,99.89 191.96,99.67 192.39,99.41 192.82,99.09 193.25,98.73 193.68,98.35 194.11,97.98 194.54,97.62 194.97,97.31 195.4,97.01 195.83,96.71 196.26,96.41 196.69,96.12 197.12,95.83 197.55,95.56 197.97,95.31 198.4,95.08 198.83,94.87 199.26,94.7 199.69,94.55 200.12,94.41 200.55,94.29 200.98,94.16 201.41,94.05 201.84,93.94 202.27,93.84 202.7,93.74 203.13,93.65 203.56,93.57 203.99,93.49 204.42,93.41 204.85,93.34 205.28,93.27 205.71,93.21 206.14,93.16 206.56,93.1 206.99,93.05 207.42,93 207.85,92.95 208.28,92.9 208.71,92.86 209.14,92.81 209.57,92.77 210,92.73 210.43,92.69 210.86,92.65 211.29,92.61 211.72,92.58 212.15,92.55 212.58,92.52 213.01,92.49 213.44,92.46 213.87,92.43 214.3,92.41 214.73,92.39 215.15,92.37 215.58,92.35 216.01,92.33 216.44,92.31 216.87,92.29 217.3,92.28 217.73,92.26 218.16,92.24 218.59,92.23 219.02,92.21 219.45,92.2 219.88,92.18 220.31,92.17 220.74,92.15 221.17,92.14 221.6,92.12 222.03,92.11 222.46,92.1 222.89,92.09 223.32,92.07 223.74,92.06 224.17,92.05 224.6,92.04 225.03,92.03 225.46,92.01 225.89,92 226.32,91.99 226.75,91.98 227.18,91.97 227.61,91.96 228.04,91.95 228.47,91.94 228.9,91.93 229.33,91.92 229.76,91.91 230.19,91.9 230.62,91.89 231.05,91.88 231.48,91.88 231.91,91.87 232.33,91.86 232.76,91.85 233.19,91.84 233.62,91.83 234.05,91.82 234.48,91.81 234.91,91.81 235.34,91.8 235.77,91.79 236.2,91.78 236.63,91.77 237.06,91.76 237.49,91.75 237.92,91.74 238.35,91.74 238.78,91.73 239.21,91.72 239.64,91.71 240.07,91.7 240.5,91.69 240.92,91.68 241.35,91.67 241.78,91.66 242.21,91.65 242.64,91.64 243.07,91.63 243.5,91.62 243.93,91.61 244.36,91.6 244.79,91.59 245.22,91.58" fill="none" stroke="#23845a" stroke-width="0.9" stroke-linejoin="round"/>
<polyline points="176.5,100.99 176.93,100.99 177.36,100.99 177.79,100.99 178.22,100.99 178.65,100.99 179.08,100.99 179.51,100.99 179.94,100.99 180.37,100.99 180.79,100.99 181.22,100.99 181.65,100.99 182.08,100.99 182.51,100.99 182.94,100.99 183.37,100.99 183.8,100.99 184.23,100.99 184.66,100.99 185.09,100.99 185.52,100.99 185.95,100.99 186.38,100.98 186.81,100.94 187.24,100.89 187.67,100.81 188.1,100.73 188.53,100.63 188.96,100.52 189.38,100.4 189.81,100.28 190.24,100.16 190.67,100.03 191.1,99.91 191.53,99.79 191.96,99.67 192.39,99.57 192.82,99.48 193.25,99.4 193.68,99.34 194.11,99.29 194.54,99.24 194.97,99.19 195.4,99.15 195.83,99.1 196.26,99.06 196.69,99.01 197.12,98.97 197.55,98.93 197.97,98.89 198.4,98.85 198.83,98.81 199.26,98.78 199.69,98.74 200.12,98.7 200.55,98.67 200.98,98.64 201.41,98.6 201.84,98.57 202.27,98.54 202.7,98.51 203.13,98.48 203.56,98.45 203.99,98.42 204.42,98.39 204.85,98.37 205.28,98.34 205.71,98.31 206.14,98.29 206.56,98.26 206.99,98.24 207.42,98.21 207.85,98.19 208.28,98.17 208.71,98.14 209.14,98.12 209.57,98.09 210,98.07 210.43,98.05 210.86,98.03 211.29,98 211.72,97.98 212.15,97.96 212.58,97.94 213.01,97.92 213.44,97.89 213.87,97.87 214.3,97.85 214.73,97.83 215.15,97.81 215.58,97.79 216.01,97.77 216.44,97.75 216.87,97.74 217.3,97.72 217.73,97.7 218.16,97.68 218.59,97.66 219.02,97.64 219.45,97.63 219.88,97.61 220.31,97.59 220.74,97.57 221.17,97.56 221.6,97.54 222.03,97.52 222.46,97.51 222.89,97.49 223.32,97.47 223.74,97.46 224.17,97.44 224.6,97.43 225.03,97.41 225.46,97.4 225.89,97.38 226.32,97.36 226.75,97.35 227.18,97.33 227.61,97.32 228.04,97.3 228.47,97.29 228.9,97.28 229.33,97.26 229.76,97.25 230.19,97.23 230.62,97.22 231.05,97.2 231.48,97.19 231.91,97.17 232.33,97.16 232.76,97.14 233.19,97.13 233.62,97.12 234.05,97.1 234.48,97.09 234.91,97.07 235.34,97.06 235.77,97.04 236.2,97.03 236.63,97.02 237.06,97 237.49,96.99 237.92,96.97 238.35,96.96 238.78,96.94 239.21,96.93 239.64,96.91 240.07,96.9 240.5,96.88 240.92,96.87 241.35,96.85 241.78,96.84 242.21,96.82 242.64,96.81 243.07,96.79 243.5,96.77 243.93,96.76 244.36,96.74 244.79,96.73 245.22,96.71" fill="none" stroke="#e0363c" stroke-width="1" stroke-linejoin="round"/>
<polyline points="176.5,100.99 176.93,100.99 177.36,100.99 177.79,100.99 178.22,100.99 178.65,100.99 179.08,100.99 179.51,100.99 179.94,100.99 180.37,100.99 180.79,100.99 181.22,100.99 181.65,100.99 182.08,100.99 182.51,100.99 182.94,100.99 183.37,100.99 183.8,100.99 184.23,100.86 184.66,99.5 185.09,96.99 185.52,93.68 185.95,89.95 186.38,86.19 186.81,82.75 187.24,80.03 187.67,78 188.1,76.08 188.53,74.28 188.96,72.62 189.38,71.15 189.81,69.9 190.24,68.89 190.67,68.03 191.1,67.25 191.53,66.55 191.96,65.94 192.39,65.41 192.82,64.96 193.25,64.57 193.68,64.21 194.11,63.87 194.54,63.55 194.97,63.25 195.4,62.98 195.83,62.72 196.26,62.49 196.69,62.29 197.12,62.11 197.55,61.96 197.97,61.84 198.4,61.73 198.83,61.62 199.26,61.52 199.69,61.43 200.12,61.33 200.55,61.25 200.98,61.16 201.41,61.09 201.84,61.01 202.27,60.94 202.7,60.88 203.13,60.82 203.56,60.76 203.99,60.71 204.42,60.67 204.85,60.63 205.28,60.59 205.71,60.56 206.14,60.54 206.56,60.52 206.99,60.5 207.42,60.49 207.85,60.47 208.28,60.46 208.71,60.45 209.14,60.43 209.57,60.42 210,60.4 210.43,60.39 210.86,60.38 211.29,60.37 211.72,60.36 212.15,60.34 212.58,60.33 213.01,60.32 213.44,60.31 213.87,60.3 214.3,60.29 214.73,60.28 215.15,60.27 215.58,60.26 216.01,60.25 216.44,60.24 216.87,60.23 217.3,60.23 217.73,60.22 218.16,60.21 218.59,60.2 219.02,60.19 219.45,60.19 219.88,60.18 220.31,60.17 220.74,60.17 221.17,60.16 221.6,60.15 222.03,60.15 222.46,60.14 222.89,60.13 223.32,60.13 223.74,60.12 224.17,60.12 224.6,60.11 225.03,60.11 225.46,60.1 225.89,60.09 226.32,60.09 226.75,60.08 227.18,60.08 227.61,60.07 228.04,60.07 228.47,60.07 228.9,60.06 229.33,60.06 229.76,60.05 230.19,60.05 230.62,60.04 231.05,60.04 231.48,60.03 231.91,60.03 232.33,60.02 232.76,60.02 233.19,60.02 233.62,60.01 234.05,60.01 234.48,60 234.91,60 235.34,59.99 235.77,59.99 236.2,59.98 236.63,59.98 237.06,59.97 237.49,59.97 237.92,59.96 238.35,59.96 238.78,59.95 239.21,59.95 239.64,59.94 240.07,59.94 240.5,59.93 240.92,59.93 241.35,59.92 241.78,59.91 242.21,59.91 242.64,59.9 243.07,59.9 243.5,59.89 243.93,59.88 244.36,59.88 244.79,59.87 245.22,59.86" fill="none" stroke="#6a8f8a" stroke-width="0.8" stroke-linejoin="round"/>
<polyline points="176.5,100.87 176.93,101.07 177.36,100.48 177.79,101.16 178.22,100.62 178.65,100.82 179.08,101.18 179.51,100.65 179.94,101.21 180.37,100.74 180.79,101.17 181.22,101.14 181.65,100.75 182.08,100.27 182.51,101.1 182.94,100.99 183.37,100.51 183.8,100.13 184.23,100.57 184.66,99.91 185.09,96.91 185.52,94.71 185.95,89.92 186.38,86.7 186.81,83.35 187.24,80.71 187.67,78.41 188.1,75.82 188.53,74.71 188.96,72.53 189.38,70.96 189.81,70.02 190.24,68.84 190.67,68.62 191.1,67.93 191.53,67.15 191.96,66.04 192.39,65.85 192.82,65.52 193.25,64.76 193.68,64.49 194.11,64.26 194.54,63.29 194.97,63.04 195.4,63.24 195.83,62.55 196.26,62.34 196.69,61.7 197.12,61.67 197.55,62 197.97,61 198.4,61.84 198.83,61.32 199.26,60.76 199.69,61.33 200.12,60.8 200.55,61.21 200.98,60.37 201.41,60.17 201.84,60.34 202.27,59.94 202.7,60.58 203.13,60.1 203.56,60.2 203.99,60.19 204.42,60.32 204.85,59.84 205.28,59.69 205.71,60.23 206.14,59.99 206.56,60.68 206.99,59.91 207.42,59.96 207.85,59.53 208.28,59.72 208.71,60.34 209.14,60.21 209.57,59.86 210,60.61 210.43,60.08 210.86,60.42 211.29,60.47 211.72,60.53 212.15,59.68 212.58,60.43 213.01,60.28 213.44,60.1 213.87,59.52 214.3,60.45 214.73,60 215.15,59.88 215.58,59.48 216.01,59.54 216.44,59.48 216.87,60.17 217.3,60 217.73,60.06 218.16,59.43 218.59,59.34 219.02,60.28 219.45,60.25 219.88,60.17 220.31,60.16 220.74,59.86 221.17,59.73 221.6,60.11 222.03,60.4 222.46,59.91 222.89,59.96 223.32,59.72 223.74,59.25 224.17,59.56 224.6,59.76 225.03,59.63 225.46,59.56 225.89,60.29 226.32,59.28 226.75,59.42 227.18,59.3 227.61,59.38 228.04,59.86 228.47,59.84 228.9,60.19 229.33,59.56 229.76,60.23 230.19,60.22 230.62,60.04 231.05,60.09 231.48,59.88 231.91,60.21 232.33,60.27 232.76,60.09 233.19,60.14 233.62,59.83 234.05,60.22 234.48,59.21 234.91,59.52 235.34,60.06 235.77,59.93 236.2,59.82 236.63,59.79 237.06,60.07 237.49,59.21 237.92,59.03 238.35,59.65 238.78,59.63 239.21,60.09 239.64,60.07 240.07,59.78 240.5,59.87 240.92,59.19 241.35,59.98 241.78,60.14 242.21,59.04 242.64,59.53 243.07,59.98 243.5,59.5 243.93,60.11 244.36,59.51 244.79,58.97 245.22,59.1" fill="none" stroke="#2f3a8f" stroke-width="1.7" stroke-linejoin="round"/>
<polyline points="176.5,100.66 176.93,100.66 177.36,100.66 177.79,100.66 178.22,100.66 178.65,100.66 179.08,100.66 179.51,100.66 179.94,100.66 180.37,100.66 180.79,100.66 181.22,100.66 181.65,100.66 182.08,100.66 182.51,100.66 182.94,100.16 183.37,97.48 183.8,93.24 184.23,88.28 184.66,83.45 185.09,79.6 185.52,76.55 185.95,73.65 186.38,71.1 186.81,69.07 187.24,67.47 187.67,66.05 188.1,64.8 188.53,63.69 188.96,62.7 189.38,61.84 189.81,61.04 190.24,60.3 190.67,59.62 191.1,59 191.53,58.45 191.96,57.97 192.39,57.56 192.82,57.21 193.25,56.88 193.68,56.58 194.11,56.31 194.54,56.06 194.97,55.83 195.4,55.62 195.83,55.43 196.26,55.26 196.69,55.09 197.12,54.93 197.55,54.77 197.97,54.61 198.4,54.46 198.83,54.32 199.26,54.19 199.69,54.06 200.12,53.95 200.55,53.85 200.98,53.77 201.41,53.7 201.84,53.64 202.27,53.61 202.7,53.59 203.13,53.57 203.56,53.54 203.99,53.52 204.42,53.5 204.85,53.49 205.28,53.47 205.71,53.45 206.14,53.44 206.56,53.42 206.99,53.41 207.42,53.39 207.85,53.38 208.28,53.37 208.71,53.36 209.14,53.35 209.57,53.34 210,53.33 210.43,53.32 210.86,53.31 211.29,53.3 211.72,53.29 212.15,53.29 212.58,53.28 213.01,53.27 213.44,53.26 213.87,53.26 214.3,53.25 214.73,53.24 215.15,53.23 215.58,53.23 216.01,53.22 216.44,53.21 216.87,53.2 217.3,53.2 217.73,53.19 218.16,53.18 218.59,53.17 219.02,53.16 219.45,53.15 219.88,53.14 220.31,53.13 220.74,53.12 221.17,53.11 221.6,53.1 222.03,53.09 222.46,53.08 222.89,53.07 223.32,53.06 223.74,53.05 224.17,53.04 224.6,53.04 225.03,53.03 225.46,53.02 225.89,53.01 226.32,53 226.75,52.99 227.18,52.98 227.61,52.97 228.04,52.96 228.47,52.95 228.9,52.95 229.33,52.94 229.76,52.93 230.19,52.92 230.62,52.91 231.05,52.9 231.48,52.89 231.91,52.89 232.33,52.88 232.76,52.87 233.19,52.86 233.62,52.85 234.05,52.84 234.48,52.84 234.91,52.83 235.34,52.82 235.77,52.81 236.2,52.8 236.63,52.79 237.06,52.79 237.49,52.78 237.92,52.77 238.35,52.76 238.78,52.75 239.21,52.74 239.64,52.74 240.07,52.73 240.5,52.72 240.92,52.71 241.35,52.7 241.78,52.69 242.21,52.68 242.64,52.68 243.07,52.67 243.5,52.66 243.93,52.65 244.36,52.64 244.79,52.63 245.22,52.62" fill="none" stroke="#5fd0e0" stroke-width="1.1" stroke-linejoin="round"/>
<polyline points="176.5,100.55 176.93,100.78 177.36,100.73 177.79,100.83 178.22,100.51 178.65,100.64 179.08,100.51 179.51,100.75 179.94,100.8 180.37,100.49 180.79,100.4 181.22,100.47 181.65,100.5 182.08,100.49 182.51,100.53 182.94,99.37 183.37,95.57 183.8,90.76 184.23,85.75 184.66,81.25 185.09,77.86 185.52,74.88 185.95,71.95 186.38,69.57 186.81,68.12 187.24,66.36 187.67,64.99 188.1,63.81 188.53,63.06 188.96,62.18 189.38,61.32 189.81,60.55 190.24,59.82 190.67,58.93 191.1,58.17 191.53,57.65 191.96,57.34 192.39,56.82 192.82,56.35 193.25,56.36 193.68,55.71 194.11,55.26 194.54,55.04 194.97,54.78 195.4,54.68 195.83,54.63 196.26,54.12 196.69,54.19 197.12,53.77 197.55,53.52 197.97,53.67 198.4,53.52 198.83,53.1 199.26,53.08 199.69,53.26 200.12,53.17 200.55,53.06 200.98,52.58 201.41,52.56 201.84,52.85 202.27,52.45 202.7,52.34 203.13,52.48 203.56,52.61 203.99,52.48 204.42,52.67 204.85,52.71 205.28,52.18 205.71,52.33 206.14,52.37 206.56,52.13 206.99,52.38 207.42,52.13 207.85,52.13 208.28,52.44 208.71,52.4 209.14,52.36 209.57,52.38 210,52.18 210.43,52.34 210.86,52.24 211.29,52.38 211.72,51.96 212.15,52.24 212.58,52.17 213.01,52.09 213.44,51.91 213.87,52.16 214.3,51.88 214.73,52.09 215.15,52.07 215.58,52.06 216.01,52.31 216.44,52.08 216.87,52.21 217.3,52.29 217.73,51.86 218.16,52.18 218.59,52.01 219.02,51.86 219.45,51.94 219.88,52.04 220.31,51.93 220.74,51.9 221.17,51.76 221.6,52.11 222.03,51.86 222.46,52.01 222.89,51.98 223.32,51.71 223.74,51.84 224.17,51.8 224.6,51.68 225.03,51.59 225.46,51.82 225.89,51.72 226.32,51.77 226.75,51.75 227.18,51.65 227.61,51.76 228.04,51.71 228.47,51.73 228.9,51.47 229.33,51.59 229.76,51.48 230.19,51.44 230.62,51.79 231.05,51.62 231.48,51.41 231.91,51.45 232.33,51.81 232.76,51.81 233.19,51.63 233.62,51.81 234.05,51.71 234.48,51.79 234.91,51.47 235.34,51.4 235.77,51.33 236.2,51.71 236.63,51.4 237.06,51.42 237.49,51.68 237.92,51.28 238.35,51.23 238.78,51.61 239.21,51.22 239.64,51.5 240.07,51.44 240.5,51.17 240.92,51.24 241.35,51.58 241.78,51.43 242.21,51.37 242.64,51.46 243.07,51.52 243.5,51.45 243.93,51.22 244.36,51.58 244.79,51.29 245.22,51.34" fill="none" stroke="#a6cf5a" stroke-width="1.7" stroke-linejoin="round"/>
<polyline points="176.5,100.66 176.93,100.66 177.36,100.66 177.79,100.66 178.22,100.66 178.65,100.66 179.08,100.66 179.51,100.66 179.94,100.66 180.37,100.66 180.79,100.66 181.22,100.66 181.65,100.66 182.08,100.66 182.51,100.42 182.94,98.01 183.37,93.79 183.8,88.69 184.23,83.65 184.66,79.6 185.09,76.37 185.52,73.28 185.95,70.56 186.38,68.42 186.81,66.73 187.24,65.24 187.67,63.91 188.1,62.72 188.53,61.67 188.96,60.72 189.38,59.86 189.81,59.07 190.24,58.34 190.67,57.68 191.1,57.08 191.53,56.52 191.96,56.01 192.39,55.54 192.82,55.08 193.25,54.65 193.68,54.24 194.11,53.86 194.54,53.51 194.97,53.18 195.4,52.89 195.83,52.62 196.26,52.38 196.69,52.15 197.12,51.92 197.55,51.7 197.97,51.5 198.4,51.31 198.83,51.14 199.26,50.99 199.69,50.85 200.12,50.74 200.55,50.65 200.98,50.58 201.41,50.51 201.84,50.44 202.27,50.38 202.7,50.32 203.13,50.26 203.56,50.21 203.99,50.17 204.42,50.13 204.85,50.09 205.28,50.06 205.71,50.03 206.14,50.01 206.56,49.99 206.99,49.98 207.42,49.96 207.85,49.95 208.28,49.93 208.71,49.92 209.14,49.91 209.57,49.89 210,49.88 210.43,49.87 210.86,49.86 211.29,49.84 211.72,49.83 212.15,49.82 212.58,49.81 213.01,49.8 213.44,49.79 213.87,49.78 214.3,49.77 214.73,49.76 215.15,49.75 215.58,49.74 216.01,49.73 216.44,49.72 216.87,49.71 217.3,49.7 217.73,49.7 218.16,49.69 218.59,49.68 219.02,49.67 219.45,49.66 219.88,49.66 220.31,49.65 220.74,49.64 221.17,49.64 221.6,49.63 222.03,49.62 222.46,49.62 222.89,49.61 223.32,49.61 223.74,49.6 224.17,49.59 224.6,49.59 225.03,49.58 225.46,49.58 225.89,49.57 226.32,49.57 226.75,49.56 227.18,49.56 227.61,49.55 228.04,49.55 228.47,49.54 228.9,49.54 229.33,49.53 229.76,49.53 230.19,49.52 230.62,49.52 231.05,49.51 231.48,49.51 231.91,49.5 232.33,49.5 232.76,49.49 233.19,49.49 233.62,49.49 234.05,49.48 234.48,49.48 234.91,49.47 235.34,49.47 235.77,49.46 236.2,49.46 236.63,49.45 237.06,49.45 237.49,49.44 237.92,49.44 238.35,49.43 238.78,49.43 239.21,49.42 239.64,49.42 240.07,49.41 240.5,49.4 240.92,49.4 241.35,49.39 241.78,49.39 242.21,49.38 242.64,49.37 243.07,49.37 243.5,49.36 243.93,49.36 244.36,49.35 244.79,49.34 245.22,49.33" fill="none" stroke="#e5e08a" stroke-width="0.8" stroke-linejoin="round"/>
<polyline points="176.5,100.66 176.93,100.66 177.36,100.66 177.79,100.66 178.22,100.66 178.65,100.66 179.08,100.66 179.51,100.66 179.94,100.66 180.37,100.66 180.79,100.66 181.22,100.66 181.65,100.66 182.08,100.66 182.51,99.72 182.94,96.42 183.37,91.68 183.8,86.47 184.23,81.77 184.66,78.39 185.09,75.47 185.52,72.78 185.95,70.4 186.38,68.42 186.81,66.74 187.24,65.21 187.67,63.83 188.1,62.58 188.53,61.44 188.96,60.42 189.38,59.5 189.81,58.66 190.24,57.87 190.67,57.15 191.1,56.49 191.53,55.89 191.96,55.36 192.39,54.87 192.82,54.42 193.25,54 193.68,53.61 194.11,53.25 194.54,52.9 194.97,52.58 195.4,52.27 195.83,51.97 196.26,51.67 196.69,51.37 197.12,51.07 197.55,50.78 197.97,50.5 198.4,50.23 198.83,49.99 199.26,49.77 199.69,49.59 200.12,49.44 200.55,49.33 200.98,49.25 201.41,49.18 201.84,49.11 202.27,49.05 202.7,48.99 203.13,48.94 203.56,48.89 203.99,48.84 204.42,48.81 204.85,48.77 205.28,48.74 205.71,48.7 206.14,48.68 206.56,48.65 206.99,48.62 207.42,48.6 207.85,48.58 208.28,48.56 208.71,48.53 209.14,48.52 209.57,48.5 210,48.48 210.43,48.46 210.86,48.45 211.29,48.43 211.72,48.41 212.15,48.4 212.58,48.38 213.01,48.37 213.44,48.36 213.87,48.34 214.3,48.33 214.73,48.31 215.15,48.3 215.58,48.28 216.01,48.27 216.44,48.25 216.87,48.23 217.3,48.22 217.73,48.2 218.16,48.19 218.59,48.17 219.02,48.16 219.45,48.15 219.88,48.13 220.31,48.12 220.74,48.1 221.17,48.09 221.6,48.07 222.03,48.06 222.46,48.05 222.89,48.03 223.32,48.02 223.74,48 224.17,47.99 224.6,47.98 225.03,47.96 225.46,47.95 225.89,47.94 226.32,47.92 226.75,47.91 227.18,47.9 227.61,47.88 228.04,47.87 228.47,47.86 228.9,47.85 229.33,47.83 229.76,47.82 230.19,47.81 230.62,47.79 231.05,47.78 231.48,47.77 231.91,47.76 232.33,47.74 232.76,47.73 233.19,47.72 233.62,47.71 234.05,47.69 234.48,47.68 234.91,47.67 235.34,47.66 235.77,47.64 236.2,47.63 236.63,47.62 237.06,47.6 237.49,47.59 237.92,47.58 238.35,47.57 238.78,47.55 239.21,47.54 239.64,47.53 240.07,47.52 240.5,47.5 240.92,47.49 241.35,47.48 241.78,47.46 242.21,47.45 242.64,47.44 243.07,47.43 243.5,47.41 243.93,47.4 244.36,47.39 244.79,47.37 245.22,47.36" fill="none" stroke="#111" stroke-width="1" stroke-linejoin="round"/>
<polyline points="290.5,99.47 290.93,99.45 291.36,99.43 291.79,99.41 292.22,99.39 292.65,99.37 293.08,99.35 293.51,99.33 293.94,99.31 294.37,99.28 294.8,99.26 295.22,99.24 295.65,99.22 296.08,99.2 296.51,99.18 296.94,99.15 297.37,99.13 297.8,99.1 298.23,99.07 298.66,99.04 299.09,99.01 299.52,98.98 299.95,98.94 300.38,98.9 300.81,98.86 301.24,98.81 301.67,98.76 302.1,98.71 302.53,98.66 302.96,98.61 303.38,98.55 303.81,98.5 304.24,98.44 304.67,98.39 305.1,98.33 305.53,98.28 305.96,98.22 306.39,98.17 306.82,98.12 307.25,98.07 307.68,98.03 308.11,97.98 308.54,97.93 308.97,97.89 309.4,97.84 309.83,97.8 310.26,97.75 310.69,97.7 311.12,97.66 311.55,97.61 311.97,97.56 312.4,97.52 312.83,97.47 313.26,97.43 313.69,97.38 314.12,97.33 314.55,97.29 314.98,97.24 315.41,97.2 315.84,97.16 316.27,97.11 316.7,97.07 317.13,97.03 317.56,96.98 317.99,96.94 318.42,96.9 318.85,96.86 319.28,96.82 319.71,96.78 320.14,96.74 320.56,96.71 320.99,96.67 321.42,96.63 321.85,96.6 322.28,96.56 322.71,96.53 323.14,96.5 323.57,96.47 324,96.44 324.43,96.41 324.86,96.38 325.29,96.35 325.72,96.33 326.15,96.3 326.58,96.28 327.01,96.25 327.44,96.23 327.87,96.2 328.3,96.18 328.73,96.15 329.15,96.13 329.58,96.11 330.01,96.08 330.44,96.06 330.87,96.04 331.3,96.02 331.73,96 332.16,95.97 332.59,95.95 333.02,95.93 333.45,95.91 333.88,95.89 334.31,95.87 334.74,95.85 335.17,95.83 335.6,95.81 336.03,95.79 336.46,95.77 336.89,95.76 337.32,95.74 337.74,95.72 338.17,95.7 338.6,95.68 339.03,95.66 339.46,95.65 339.89,95.63 340.32,95.61 340.75,95.59 341.18,95.58 341.61,95.56 342.04,95.54 342.47,95.53 342.9,95.51 343.33,95.49 343.76,95.48 344.19,95.46 344.62,95.44 345.05,95.43 345.48,95.41 345.91,95.39 346.33,95.38 346.76,95.36 347.19,95.35 347.62,95.33 348.05,95.31 348.48,95.3 348.91,95.28 349.34,95.26 349.77,95.25 350.2,95.23 350.63,95.22 351.06,95.2 351.49,95.18 351.92,95.17 352.35,95.15 352.78,95.13 353.21,95.12 353.64,95.1 354.07,95.08 354.5,95.07 354.92,95.05 355.35,95.03 355.78,95.01 356.21,95 356.64,94.98 357.07,94.96 357.5,94.94 357.93,94.92 358.36,94.91 358.79,94.89 359.22,94.87" fill="none" stroke="#e0363c" stroke-width="1" stroke-linejoin="round"/>
<polyline points="290.5,99.47 290.93,99.49 291.36,99.5 291.79,99.51 292.22,99.52 292.65,99.53 293.08,99.53 293.51,99.54 293.94,99.55 294.37,99.57 294.8,99.58 295.22,99.6 295.65,99.62 296.08,99.64 296.51,99.67 296.94,99.82 297.37,100.16 297.8,100.58 298.23,101 298.66,101.32 299.09,101.45 299.52,101.42 299.95,101.34 300.38,101.22 300.81,101.07 301.24,100.88 301.67,100.66 302.1,100.16 302.53,99.2 302.96,97.93 303.38,96.46 303.81,94.93 304.24,93.47 304.67,92.22 305.1,91.29 305.53,90.48 305.96,89.69 306.39,88.96 306.82,88.3 307.25,87.76 307.68,87.36 308.11,87.14 308.54,86.99 308.97,86.85 309.4,86.73 309.83,86.62 310.26,86.53 310.69,86.45 311.12,86.38 311.55,86.32 311.97,86.26 312.4,86.22 312.83,86.18 313.26,86.15 313.69,86.12 314.12,86.09 314.55,86.06 314.98,86.03 315.41,86.01 315.84,85.98 316.27,85.96 316.7,85.94 317.13,85.92 317.56,85.9 317.99,85.88 318.42,85.86 318.85,85.85 319.28,85.83 319.71,85.82 320.14,85.8 320.56,85.79 320.99,85.77 321.42,85.76 321.85,85.75 322.28,85.73 322.71,85.72 323.14,85.71 323.57,85.7 324,85.68 324.43,85.67 324.86,85.66 325.29,85.64 325.72,85.63 326.15,85.62 326.58,85.6 327.01,85.59 327.44,85.58 327.87,85.56 328.3,85.55 328.73,85.54 329.15,85.53 329.58,85.52 330.01,85.5 330.44,85.49 330.87,85.48 331.3,85.47 331.73,85.46 332.16,85.45 332.59,85.44 333.02,85.43 333.45,85.42 333.88,85.41 334.31,85.4 334.74,85.38 335.17,85.37 335.6,85.36 336.03,85.35 336.46,85.34 336.89,85.33 337.32,85.33 337.74,85.32 338.17,85.31 338.6,85.3 339.03,85.29 339.46,85.28 339.89,85.27 340.32,85.26 340.75,85.25 341.18,85.24 341.61,85.23 342.04,85.22 342.47,85.21 342.9,85.21 343.33,85.2 343.76,85.19 344.19,85.18 344.62,85.17 345.05,85.16 345.48,85.15 345.91,85.14 346.33,85.14 346.76,85.13 347.19,85.12 347.62,85.11 348.05,85.1 348.48,85.09 348.91,85.08 349.34,85.08 349.77,85.07 350.2,85.06 350.63,85.05 351.06,85.04 351.49,85.03 351.92,85.02 352.35,85.01 352.78,85.01 353.21,85 353.64,84.99 354.07,84.98 354.5,84.97 354.92,84.96 355.35,84.95 355.78,84.94 356.21,84.93 356.64,84.92 357.07,84.91 357.5,84.9 357.93,84.9 358.36,84.89 358.79,84.88 359.22,84.87" fill="none" stroke="#a6cf5a" stroke-width="0.9" stroke-linejoin="round"/>
<polyline points="290.5,99.47 290.93,99.49 291.36,99.5 291.79,99.51 292.22,99.52 292.65,99.52 293.08,99.53 293.51,99.54 293.94,99.55 294.37,99.57 294.8,99.58 295.22,99.6 295.65,99.62 296.08,99.64 296.51,99.67 296.94,99.84 297.37,100.21 297.8,100.68 298.23,101.15 298.66,101.5 299.09,101.64 299.52,101.61 299.95,101.51 300.38,101.36 300.81,101.15 301.24,100.89 301.67,100.6 302.1,100.24 302.53,99.31 302.96,97.72 303.38,95.7 303.81,93.48 304.24,91.29 304.67,89.36 305.1,87.9 305.53,86.64 305.96,85.41 306.39,84.25 306.82,83.2 307.25,82.31 307.68,81.62 308.11,81.17 308.54,80.83 308.97,80.52 309.4,80.24 309.83,79.99 310.26,79.77 310.69,79.59 311.12,79.45 311.55,79.34 311.97,79.27 312.4,79.23 312.83,79.19 313.26,79.15 313.69,79.11 314.12,79.07 314.55,79.04 314.98,79.01 315.41,78.98 315.84,78.96 316.27,78.93 316.7,78.91 317.13,78.89 317.56,78.87 317.99,78.85 318.42,78.83 318.85,78.81 319.28,78.8 319.71,78.78 320.14,78.77 320.56,78.76 320.99,78.74 321.42,78.73 321.85,78.72 322.28,78.7 322.71,78.69 323.14,78.68 323.57,78.66 324,78.65 324.43,78.63 324.86,78.61 325.29,78.6 325.72,78.58 326.15,78.57 326.58,78.55 327.01,78.54 327.44,78.52 327.87,78.5 328.3,78.49 328.73,78.47 329.15,78.46 329.58,78.45 330.01,78.43 330.44,78.42 330.87,78.4 331.3,78.39 331.73,78.38 332.16,78.36 332.59,78.35 333.02,78.33 333.45,78.32 333.88,78.31 334.31,78.3 334.74,78.28 335.17,78.27 335.6,78.26 336.03,78.25 336.46,78.23 336.89,78.22 337.32,78.21 337.74,78.2 338.17,78.18 338.6,78.17 339.03,78.16 339.46,78.15 339.89,78.14 340.32,78.13 340.75,78.11 341.18,78.1 341.61,78.09 342.04,78.08 342.47,78.07 342.9,78.06 343.33,78.05 343.76,78.04 344.19,78.02 344.62,78.01 345.05,78 345.48,77.99 345.91,77.98 346.33,77.97 346.76,77.96 347.19,77.95 347.62,77.94 348.05,77.93 348.48,77.91 348.91,77.9 349.34,77.89 349.77,77.88 350.2,77.87 350.63,77.86 351.06,77.85 351.49,77.84 351.92,77.83 352.35,77.81 352.78,77.8 353.21,77.79 353.64,77.78 354.07,77.77 354.5,77.76 354.92,77.75 355.35,77.74 355.78,77.72 356.21,77.71 356.64,77.7 357.07,77.69 357.5,77.68 357.93,77.66 358.36,77.65 358.79,77.64 359.22,77.63" fill="none" stroke="#23845a" stroke-width="0.9" stroke-linejoin="round"/>
<polyline points="290.5,99.92 290.93,99.63 291.36,99.36 291.79,99.46 292.22,99.87 292.65,99.03 293.08,99.21 293.51,99.04 293.94,99.84 294.37,99.69 294.8,99.9 295.22,99.22 295.65,99.69 296.08,98.02 296.51,93.24 296.94,86.86 297.37,80.9 297.8,76.54 298.23,73.74 298.66,70.67 299.09,68.95 299.52,67.09 299.95,66.16 300.38,64.88 300.81,63.09 301.24,62.22 301.67,61.54 302.1,59.84 302.53,59.29 302.96,58.41 303.38,58.39 303.81,57.03 304.24,57.14 304.67,55.83 305.1,55.67 305.53,55.28 305.96,54.65 306.39,53.94 306.82,54.25 307.25,54.15 307.68,53.57 308.11,53.63 308.54,53.56 308.97,53.33 309.4,53.27 309.83,52.98 310.26,52.74 310.69,52.62 311.12,52.08 311.55,52.41 311.97,52.13 312.4,52.35 312.83,52.13 313.26,52.38 313.69,52.11 314.12,52.28 314.55,51.58 314.98,51.7 315.41,52 315.84,51.7 316.27,51.24 316.7,51.97 317.13,51.28 317.56,51.61 317.99,51.53 318.42,51.19 318.85,51.58 319.28,51.46 319.71,51.28 320.14,50.99 320.56,51.57 320.99,51.1 321.42,51.2 321.85,51.26 322.28,51.46 322.71,51.5 323.14,51.76 323.57,51.67 324,51.72 324.43,51.09 324.86,51.52 325.29,51.6 325.72,51.66 326.15,50.95 326.58,50.92 327.01,51.09 327.44,51.44 327.87,51.47 328.3,51.41 328.73,51.25 329.15,51.52 329.58,51.24 330.01,51.4 330.44,50.75 330.87,50.73 331.3,51.12 331.73,51.39 332.16,50.72 332.59,51.31 333.02,51.26 333.45,51.58 333.88,51.23 334.31,51.13 334.74,51.1 335.17,51.37 335.6,51.09 336.03,51.54 336.46,51.29 336.89,51.45 337.32,51.16 337.74,51.48 338.17,51.49 338.6,51.23 339.03,51.29 339.46,50.96 339.89,51 340.32,50.79 340.75,50.87 341.18,50.82 341.61,50.66 342.04,51.11 342.47,51.16 342.9,50.55 343.33,51.31 343.76,50.78 344.19,50.85 344.62,51.39 345.05,50.66 345.48,50.6 345.91,50.84 346.33,50.74 346.76,50.66 347.19,51.28 347.62,50.92 348.05,50.93 348.48,50.62 348.91,50.64 349.34,50.62 349.77,50.84 350.2,50.55 350.63,50.73 351.06,50.72 351.49,51.14 351.92,51.32 352.35,51.22 352.78,51 353.21,51.23 353.64,50.56 354.07,50.8 354.5,50.74 354.92,50.73 355.35,50.67 355.78,50.84 356.21,51.29 356.64,50.55 357.07,50.59 357.5,50.81 357.93,50.77 358.36,50.65 358.79,51.19 359.22,50.56" fill="none" stroke="#2f3a8f" stroke-width="1.8" stroke-linejoin="round"/>
<polyline points="290.5,99.47 290.93,99.47 291.36,99.47 291.79,99.47 292.22,99.47 292.65,99.47 293.08,99.47 293.51,99.47 293.94,99.47 294.37,99.47 294.8,99.47 295.22,99.47 295.65,99.39 296.08,96.94 296.51,91.96 296.94,85.72 297.37,79.45 297.8,74.41 298.23,71.34 298.66,68.8 299.09,66.59 299.52,64.71 299.95,63.15 300.38,61.81 300.81,60.59 301.24,59.49 301.67,58.49 302.1,57.59 302.53,56.78 302.96,56.05 303.38,55.38 303.81,54.74 304.24,54.13 304.67,53.55 305.1,53.02 305.53,52.54 305.96,52.11 306.39,51.73 306.82,51.42 307.25,51.16 307.68,50.91 308.11,50.68 308.54,50.47 308.97,50.26 309.4,50.07 309.83,49.89 310.26,49.73 310.69,49.58 311.12,49.44 311.55,49.31 311.97,49.21 312.4,49.11 312.83,49.03 313.26,48.97 313.69,48.9 314.12,48.85 314.55,48.79 314.98,48.74 315.41,48.7 315.84,48.65 316.27,48.61 316.7,48.57 317.13,48.54 317.56,48.5 317.99,48.47 318.42,48.44 318.85,48.41 319.28,48.39 319.71,48.36 320.14,48.34 320.56,48.31 320.99,48.29 321.42,48.27 321.85,48.25 322.28,48.22 322.71,48.2 323.14,48.18 323.57,48.16 324,48.14 324.43,48.12 324.86,48.1 325.29,48.08 325.72,48.06 326.15,48.04 326.58,48.02 327.01,48.01 327.44,47.99 327.87,47.97 328.3,47.95 328.73,47.94 329.15,47.92 329.58,47.9 330.01,47.89 330.44,47.87 330.87,47.86 331.3,47.84 331.73,47.82 332.16,47.81 332.59,47.79 333.02,47.78 333.45,47.77 333.88,47.75 334.31,47.74 334.74,47.72 335.17,47.71 335.6,47.7 336.03,47.68 336.46,47.67 336.89,47.66 337.32,47.65 337.74,47.63 338.17,47.62 338.6,47.61 339.03,47.6 339.46,47.58 339.89,47.57 340.32,47.56 340.75,47.55 341.18,47.54 341.61,47.52 342.04,47.51 342.47,47.5 342.9,47.49 343.33,47.48 343.76,47.47 344.19,47.46 344.62,47.44 345.05,47.43 345.48,47.42 345.91,47.41 346.33,47.4 346.76,47.39 347.19,47.38 347.62,47.37 348.05,47.35 348.48,47.34 348.91,47.33 349.34,47.32 349.77,47.31 350.2,47.3 350.63,47.29 351.06,47.27 351.49,47.26 351.92,47.25 352.35,47.24 352.78,47.23 353.21,47.22 353.64,47.2 354.07,47.19 354.5,47.18 354.92,47.17 355.35,47.15 355.78,47.14 356.21,47.13 356.64,47.11 357.07,47.1 357.5,47.09 357.93,47.07 358.36,47.06 358.79,47.05 359.22,47.03" fill="none" stroke="#5fd0e0" stroke-width="1.6" stroke-linejoin="round"/>
<polyline points="290.5,99.47 290.93,99.47 291.36,99.47 291.79,99.47 292.22,99.47 292.65,99.47 293.08,99.47 293.51,99.47 293.94,99.47 294.37,99.47 294.8,99.47 295.22,99.47 295.65,99.16 296.08,96.06 296.51,90.61 296.94,84.05 297.37,77.59 297.8,72.45 298.23,69.36 298.66,66.83 299.09,64.66 299.52,62.78 299.95,61.18 300.38,59.75 300.81,58.44 301.24,57.25 301.67,56.15 302.1,55.16 302.53,54.25 302.96,53.44 303.38,52.68 303.81,51.95 304.24,51.26 304.67,50.6 305.1,49.99 305.53,49.44 305.96,48.94 306.39,48.5 306.82,48.14 307.25,47.84 307.68,47.57 308.11,47.3 308.54,47.05 308.97,46.81 309.4,46.59 309.83,46.39 310.26,46.2 310.69,46.02 311.12,45.86 311.55,45.73 311.97,45.6 312.4,45.5 312.83,45.41 313.26,45.35 313.69,45.28 314.12,45.22 314.55,45.17 314.98,45.12 315.41,45.07 315.84,45.02 316.27,44.98 316.7,44.94 317.13,44.9 317.56,44.87 317.99,44.84 318.42,44.81 318.85,44.79 319.28,44.76 319.71,44.74 320.14,44.72 320.56,44.7 320.99,44.68 321.42,44.66 321.85,44.64 322.28,44.63 322.71,44.61 323.14,44.59 323.57,44.58 324,44.56 324.43,44.54 324.86,44.53 325.29,44.51 325.72,44.5 326.15,44.48 326.58,44.47 327.01,44.45 327.44,44.44 327.87,44.42 328.3,44.41 328.73,44.4 329.15,44.38 329.58,44.37 330.01,44.36 330.44,44.35 330.87,44.34 331.3,44.32 331.73,44.31 332.16,44.3 332.59,44.29 333.02,44.28 333.45,44.27 333.88,44.26 334.31,44.25 334.74,44.24 335.17,44.23 335.6,44.22 336.03,44.21 336.46,44.2 336.89,44.19 337.32,44.18 337.74,44.17 338.17,44.16 338.6,44.15 339.03,44.14 339.46,44.14 339.89,44.13 340.32,44.12 340.75,44.11 341.18,44.1 341.61,44.09 342.04,44.09 342.47,44.08 342.9,44.07 343.33,44.06 343.76,44.05 344.19,44.05 344.62,44.04 345.05,44.03 345.48,44.02 345.91,44.01 346.33,44.01 346.76,44 347.19,43.99 347.62,43.98 348.05,43.97 348.48,43.97 348.91,43.96 349.34,43.95 349.77,43.94 350.2,43.93 350.63,43.93 351.06,43.92 351.49,43.91 351.92,43.9 352.35,43.89 352.78,43.88 353.21,43.88 353.64,43.87 354.07,43.86 354.5,43.85 354.92,43.84 355.35,43.83 355.78,43.82 356.21,43.81 356.64,43.8 357.07,43.79 357.5,43.78 357.93,43.77 358.36,43.76 358.79,43.75 359.22,43.74" fill="none" stroke="#111" stroke-width="1.1" stroke-linejoin="round"/>
<polyline points="404.5,100.99 404.93,100.99 405.36,100.99 405.79,100.99 406.22,100.99 406.65,100.99 407.08,100.99 407.51,100.99 407.94,100.99 408.37,100.99 408.8,100.99 409.22,100.99 409.65,100.99 410.08,100.99 410.51,100.99 410.94,100.99 411.37,100.99 411.8,100.99 412.23,100.99 412.66,100.99 413.09,100.99 413.52,100.99 413.95,100.99 414.38,100.99 414.81,100.99 415.24,100.97 415.67,100.94 416.1,100.88 416.53,100.8 416.96,100.71 417.38,100.61 417.81,100.5 418.24,100.38 418.67,100.26 419.1,100.15 419.53,100.04 419.96,99.93 420.39,99.84 420.82,99.77 421.25,99.71 421.68,99.67 422.11,99.65 422.54,99.62 422.97,99.6 423.4,99.58 423.83,99.56 424.26,99.54 424.69,99.52 425.12,99.5 425.55,99.48 425.97,99.46 426.4,99.45 426.83,99.43 427.26,99.41 427.69,99.4 428.12,99.39 428.55,99.37 428.98,99.36 429.41,99.35 429.84,99.33 430.27,99.32 430.7,99.31 431.13,99.3 431.56,99.29 431.99,99.28 432.42,99.27 432.85,99.26 433.28,99.25 433.71,99.24 434.14,99.24 434.56,99.23 434.99,99.22 435.42,99.21 435.85,99.2 436.28,99.19 436.71,99.19 437.14,99.18 437.57,99.17 438,99.16 438.43,99.15 438.86,99.14 439.29,99.14 439.72,99.13 440.15,99.12 440.58,99.11 441.01,99.1 441.44,99.1 441.87,99.09 442.3,99.08 442.73,99.07 443.15,99.07 443.58,99.06 444.01,99.05 444.44,99.05 444.87,99.04 445.3,99.03 445.73,99.03 446.16,99.02 446.59,99.01 447.02,99.01 447.45,99 447.88,98.99 448.31,98.99 448.74,98.98 449.17,98.98 449.6,98.97 450.03,98.96 450.46,98.96 450.89,98.95 451.32,98.95 451.74,98.94 452.17,98.94 452.6,98.93 453.03,98.92 453.46,98.92 453.89,98.91 454.32,98.91 454.75,98.9 455.18,98.9 455.61,98.89 456.04,98.89 456.47,98.88 456.9,98.88 457.33,98.87 457.76,98.87 458.19,98.86 458.62,98.86 459.05,98.85 459.48,98.85 459.91,98.84 460.33,98.84 460.76,98.83 461.19,98.83 461.62,98.82 462.05,98.82 462.48,98.81 462.91,98.81 463.34,98.8 463.77,98.8 464.2,98.79 464.63,98.79 465.06,98.78 465.49,98.78 465.92,98.77 466.35,98.77 466.78,98.76 467.21,98.76 467.64,98.75 468.07,98.75 468.5,98.74 468.92,98.74 469.35,98.73 469.78,98.73 470.21,98.72 470.64,98.72 471.07,98.71 471.5,98.71 471.93,98.7 472.36,98.7 472.79,98.69 473.22,98.68" fill="none" stroke="#23845a" stroke-width="1" stroke-linejoin="round"/>
<polyline points="404.5,100.99 404.93,100.99 405.36,100.99 405.79,100.99 406.22,100.99 406.65,100.99 407.08,100.99 407.51,100.99 407.94,100.99 408.37,100.99 408.8,100.99 409.22,100.99 409.65,100.99 410.08,100.99 410.51,100.99 410.94,100.99 411.37,100.99 411.8,100.99 412.23,100.99 412.66,100.99 413.09,100.99 413.52,100.99 413.95,100.99 414.38,100.99 414.81,100.99 415.24,100.97 415.67,100.91 416.1,100.82 416.53,100.71 416.96,100.57 417.38,100.42 417.81,100.25 418.24,100.08 418.67,99.91 419.1,99.73 419.53,99.57 419.96,99.41 420.39,99.28 420.82,99.16 421.25,99.07 421.68,99.01 422.11,98.97 422.54,98.93 422.97,98.9 423.4,98.86 423.83,98.83 424.26,98.79 424.69,98.76 425.12,98.73 425.55,98.7 425.97,98.67 426.4,98.65 426.83,98.62 427.26,98.6 427.69,98.57 428.12,98.55 428.55,98.53 428.98,98.5 429.41,98.48 429.84,98.46 430.27,98.45 430.7,98.43 431.13,98.41 431.56,98.39 431.99,98.38 432.42,98.36 432.85,98.34 433.28,98.33 433.71,98.31 434.14,98.3 434.56,98.29 434.99,98.27 435.42,98.26 435.85,98.25 436.28,98.23 436.71,98.22 437.14,98.21 437.57,98.19 438,98.18 438.43,98.17 438.86,98.16 439.29,98.15 439.72,98.13 440.15,98.12 440.58,98.11 441.01,98.1 441.44,98.09 441.87,98.08 442.3,98.06 442.73,98.05 443.15,98.04 443.58,98.03 444.01,98.02 444.44,98.01 444.87,98 445.3,97.99 445.73,97.98 446.16,97.97 446.59,97.96 447.02,97.95 447.45,97.95 447.88,97.94 448.31,97.93 448.74,97.92 449.17,97.91 449.6,97.9 450.03,97.89 450.46,97.88 450.89,97.88 451.32,97.87 451.74,97.86 452.17,97.85 452.6,97.85 453.03,97.84 453.46,97.83 453.89,97.82 454.32,97.81 454.75,97.81 455.18,97.8 455.61,97.79 456.04,97.79 456.47,97.78 456.9,97.77 457.33,97.76 457.76,97.76 458.19,97.75 458.62,97.74 459.05,97.74 459.48,97.73 459.91,97.72 460.33,97.72 460.76,97.71 461.19,97.7 461.62,97.7 462.05,97.69 462.48,97.68 462.91,97.68 463.34,97.67 463.77,97.66 464.2,97.65 464.63,97.65 465.06,97.64 465.49,97.63 465.92,97.63 466.35,97.62 466.78,97.61 467.21,97.61 467.64,97.6 468.07,97.59 468.5,97.58 468.92,97.58 469.35,97.57 469.78,97.56 470.21,97.55 470.64,97.55 471.07,97.54 471.5,97.53 471.93,97.52 472.36,97.52 472.79,97.51 473.22,97.5" fill="none" stroke="#a6cf5a" stroke-width="0.9" stroke-linejoin="round"/>
<polyline points="404.5,100.66 404.93,100.66 405.36,100.66 405.79,100.66 406.22,100.66 406.65,100.66 407.08,100.66 407.51,100.66 407.94,100.66 408.37,100.66 408.8,100.66 409.22,100.66 409.65,100.66 410.08,100.66 410.51,100.66 410.94,100.66 411.37,100.66 411.8,100.66 412.23,100.66 412.66,100.66 413.09,100.66 413.52,100.66 413.95,100.66 414.38,100.66 414.81,100.64 415.24,100.58 415.67,100.49 416.1,100.37 416.53,100.22 416.96,100.05 417.38,99.87 417.81,99.67 418.24,99.47 418.67,99.26 419.1,99.05 419.53,98.84 419.96,98.65 420.39,98.46 420.82,98.29 421.25,98.15 421.68,98.03 422.11,97.92 422.54,97.81 422.97,97.71 423.4,97.6 423.83,97.5 424.26,97.41 424.69,97.31 425.12,97.22 425.55,97.14 425.97,97.06 426.4,96.98 426.83,96.91 427.26,96.85 427.69,96.79 428.12,96.75 428.55,96.71 428.98,96.68 429.41,96.65 429.84,96.62 430.27,96.59 430.7,96.56 431.13,96.53 431.56,96.51 431.99,96.48 432.42,96.46 432.85,96.44 433.28,96.42 433.71,96.4 434.14,96.38 434.56,96.36 434.99,96.34 435.42,96.32 435.85,96.31 436.28,96.29 436.71,96.28 437.14,96.26 437.57,96.25 438,96.23 438.43,96.22 438.86,96.2 439.29,96.19 439.72,96.17 440.15,96.16 440.58,96.14 441.01,96.13 441.44,96.11 441.87,96.1 442.3,96.08 442.73,96.07 443.15,96.05 443.58,96.04 444.01,96.02 444.44,96 444.87,95.99 445.3,95.97 445.73,95.95 446.16,95.94 446.59,95.92 447.02,95.91 447.45,95.89 447.88,95.88 448.31,95.86 448.74,95.85 449.17,95.83 449.6,95.82 450.03,95.8 450.46,95.79 450.89,95.77 451.32,95.76 451.74,95.74 452.17,95.73 452.6,95.72 453.03,95.7 453.46,95.69 453.89,95.67 454.32,95.66 454.75,95.65 455.18,95.63 455.61,95.62 456.04,95.6 456.47,95.59 456.9,95.58 457.33,95.56 457.76,95.55 458.19,95.54 458.62,95.52 459.05,95.51 459.48,95.5 459.91,95.48 460.33,95.47 460.76,95.46 461.19,95.44 461.62,95.43 462.05,95.42 462.48,95.4 462.91,95.39 463.34,95.38 463.77,95.36 464.2,95.35 464.63,95.34 465.06,95.32 465.49,95.31 465.92,95.3 466.35,95.28 466.78,95.27 467.21,95.26 467.64,95.24 468.07,95.23 468.5,95.22 468.92,95.2 469.35,95.19 469.78,95.18 470.21,95.16 470.64,95.15 471.07,95.13 471.5,95.12 471.93,95.11 472.36,95.09 472.79,95.08 473.22,95.07" fill="none" stroke="#e0363c" stroke-width="1" stroke-linejoin="round"/>
<polyline points="404.5,100.99 404.93,100.99 405.36,100.99 405.79,100.99 406.22,100.99 406.65,100.99 407.08,100.99 407.51,100.99 407.94,100.99 408.37,100.99 408.8,100.99 409.22,100.99 409.65,100.99 410.08,100.99 410.51,100.99 410.94,100.99 411.37,100.99 411.8,100.99 412.23,100.99 412.66,100.99 413.09,100.99 413.52,100.99 413.95,100.99 414.38,100.99 414.81,100.99 415.24,100.99 415.67,100.99 416.1,100.99 416.53,100.99 416.96,100.99 417.38,100.71 417.81,99.71 418.24,98.12 418.67,96.14 419.1,93.93 419.53,91.69 419.96,89.59 420.39,87.8 420.82,86.52 421.25,85.77 421.68,85.1 422.11,84.46 422.54,83.86 422.97,83.31 423.4,82.82 423.83,82.4 424.26,82.05 424.69,81.79 425.12,81.63 425.55,81.58 425.97,81.6 426.4,81.65 426.83,81.74 427.26,81.86 427.69,81.99 428.12,82.15 428.55,82.32 428.98,82.49 429.41,82.67 429.84,82.85 430.27,83.02 430.7,83.18 431.13,83.33 431.56,83.45 431.99,83.55 432.42,83.64 432.85,83.72 433.28,83.81 433.71,83.89 434.14,83.98 434.56,84.06 434.99,84.14 435.42,84.21 435.85,84.28 436.28,84.34 436.71,84.4 437.14,84.45 437.57,84.48 438,84.51 438.43,84.53 438.86,84.54 439.29,84.54 439.72,84.53 440.15,84.52 440.58,84.52 441.01,84.5 441.44,84.49 441.87,84.48 442.3,84.46 442.73,84.44 443.15,84.42 443.58,84.4 444.01,84.37 444.44,84.35 444.87,84.32 445.3,84.3 445.73,84.27 446.16,84.24 446.59,84.21 447.02,84.18 447.45,84.16 447.88,84.13 448.31,84.1 448.74,84.07 449.17,84.04 449.6,84.01 450.03,83.98 450.46,83.96 450.89,83.93 451.32,83.9 451.74,83.88 452.17,83.86 452.6,83.83 453.03,83.81 453.46,83.78 453.89,83.76 454.32,83.73 454.75,83.71 455.18,83.68 455.61,83.66 456.04,83.63 456.47,83.61 456.9,83.58 457.33,83.56 457.76,83.53 458.19,83.5 458.62,83.48 459.05,83.45 459.48,83.42 459.91,83.4 460.33,83.37 460.76,83.34 461.19,83.32 461.62,83.29 462.05,83.26 462.48,83.24 462.91,83.21 463.34,83.18 463.77,83.16 464.2,83.13 464.63,83.1 465.06,83.07 465.49,83.05 465.92,83.02 466.35,82.99 466.78,82.97 467.21,82.94 467.64,82.91 468.07,82.88 468.5,82.86 468.92,82.83 469.35,82.8 469.78,82.78 470.21,82.75 470.64,82.72 471.07,82.7 471.5,82.67 471.93,82.64 472.36,82.62 472.79,82.59 473.22,82.56" fill="none" stroke="#5fd0e0" stroke-width="0.9" stroke-linejoin="round"/>
<polyline points="404.5,100.99 404.93,100.99 405.36,100.99 405.79,100.99 406.22,100.99 406.65,100.99 407.08,100.99 407.51,100.99 407.94,100.99 408.37,100.99 408.8,100.99 409.22,100.99 409.65,100.99 410.08,100.99 410.51,100.99 410.94,100.99 411.37,100.99 411.8,100.99 412.23,100.99 412.66,100.99 413.09,100.99 413.52,100.99 413.95,100.99 414.38,100.99 414.81,100.99 415.24,100.99 415.67,100.99 416.1,100.97 416.53,100.37 416.96,99.05 417.38,97.19 417.81,94.96 418.24,92.52 418.67,90.05 419.1,87.73 419.53,85.73 419.96,84.21 420.39,82.99 420.82,81.79 421.25,80.62 421.68,79.52 422.11,78.5 422.54,77.6 422.97,76.82 423.4,76.21 423.83,75.77 424.26,75.51 424.69,75.28 425.12,75.08 425.55,74.9 425.97,74.74 426.4,74.6 426.83,74.47 427.26,74.36 427.69,74.26 428.12,74.17 428.55,74.08 428.98,74.01 429.41,73.94 429.84,73.87 430.27,73.8 430.7,73.74 431.13,73.68 431.56,73.62 431.99,73.57 432.42,73.51 432.85,73.46 433.28,73.41 433.71,73.37 434.14,73.32 434.56,73.28 434.99,73.23 435.42,73.19 435.85,73.15 436.28,73.11 436.71,73.08 437.14,73.04 437.57,73 438,72.97 438.43,72.93 438.86,72.9 439.29,72.87 439.72,72.83 440.15,72.8 440.58,72.77 441.01,72.74 441.44,72.7 441.87,72.67 442.3,72.64 442.73,72.6 443.15,72.57 443.58,72.53 444.01,72.5 444.44,72.46 444.87,72.42 445.3,72.39 445.73,72.35 446.16,72.32 446.59,72.28 447.02,72.25 447.45,72.21 447.88,72.18 448.31,72.14 448.74,72.11 449.17,72.08 449.6,72.04 450.03,72.01 450.46,71.98 450.89,71.95 451.32,71.91 451.74,71.88 452.17,71.85 452.6,71.82 453.03,71.79 453.46,71.76 453.89,71.73 454.32,71.69 454.75,71.66 455.18,71.63 455.61,71.6 456.04,71.57 456.47,71.54 456.9,71.51 457.33,71.48 457.76,71.45 458.19,71.42 458.62,71.39 459.05,71.36 459.48,71.33 459.91,71.31 460.33,71.28 460.76,71.25 461.19,71.22 461.62,71.19 462.05,71.16 462.48,71.13 462.91,71.1 463.34,71.07 463.77,71.04 464.2,71.01 464.63,70.99 465.06,70.96 465.49,70.93 465.92,70.9 466.35,70.87 466.78,70.84 467.21,70.81 467.64,70.78 468.07,70.75 468.5,70.72 468.92,70.69 469.35,70.66 469.78,70.63 470.21,70.6 470.64,70.57 471.07,70.54 471.5,70.51 471.93,70.48 472.36,70.45 472.79,70.42 473.22,70.39" fill="none" stroke="#2f3a8f" stroke-width="1" stroke-linejoin="round"/>
<polyline points="404.5,100.69 404.93,100.81 405.36,100.68 405.79,100.38 406.22,100.72 406.65,100.37 407.08,100.21 407.51,100.53 407.94,100.6 408.37,100.54 408.8,100.41 409.22,100.35 409.65,100.45 410.08,100.43 410.51,100.8 410.94,100.47 411.37,98.8 411.8,95.77 412.23,92.6 412.66,88.59 413.09,85.07 413.52,81.47 413.95,78.44 414.38,75.74 414.81,73.32 415.24,71.01 415.67,69.06 416.1,66.87 416.53,65.06 416.96,63.46 417.38,62.29 417.81,60.44 418.24,59.65 418.67,58 419.1,57.04 419.53,56.84 419.96,55.94 420.39,55.23 420.82,54.7 421.25,54.65 421.68,54.41 422.11,54.14 422.54,53.38 422.97,53.62 423.4,53.18 423.83,53.31 424.26,52.93 424.69,52.53 425.12,52.96 425.55,52.41 425.97,52.52 426.4,52.19 426.83,52.23 427.26,52.47 427.69,51.96 428.12,52.17 428.55,52.42 428.98,52.39 429.41,52.02 429.84,52.01 430.27,52.08 430.7,52.15 431.13,51.98 431.56,51.97 431.99,51.6 432.42,52.12 432.85,51.6 433.28,51.52 433.71,51.97 434.14,51.42 434.56,51.54 434.99,51.39 435.42,51.77 435.85,51.7 436.28,51.67 436.71,51.25 437.14,51.5 437.57,51.64 438,51.58 438.43,51.66 438.86,51.79 439.29,51.74 439.72,51.24 440.15,51.59 440.58,51.15 441.01,51.58 441.44,51.56 441.87,51.38 442.3,51.58 442.73,51.44 443.15,51.04 443.58,51.07 444.01,51.1 444.44,51.2 444.87,51 445.3,50.97 445.73,51.21 446.16,51.08 446.59,51.5 447.02,51.04 447.45,51.21 447.88,50.99 448.31,51.05 448.74,51.27 449.17,51.41 449.6,50.82 450.03,51.33 450.46,51.08 450.89,51.15 451.32,51.17 451.74,50.86 452.17,50.69 452.6,51.15 453.03,50.87 453.46,51.09 453.89,50.91 454.32,51 454.75,51.14 455.18,51.13 455.61,51.08 456.04,50.61 456.47,50.86 456.9,51.03 457.33,50.57 457.76,50.49 458.19,50.84 458.62,51.03 459.05,50.98 459.48,51.03 459.91,50.85 460.33,51.01 460.76,50.89 461.19,50.87 461.62,50.65 462.05,50.43 462.48,50.5 462.91,50.71 463.34,50.7 463.77,50.61 464.2,50.69 464.63,50.71 465.06,50.87 465.49,50.72 465.92,50.25 466.35,50.79 466.78,50.53 467.21,50.43 467.64,50.27 468.07,50.68 468.5,50.63 468.92,50.63 469.35,50.51 469.78,50.47 470.21,50.12 470.64,50.18 471.07,50.15 471.5,50.69 471.93,50.67 472.36,50.21 472.79,50.08 473.22,50.34" fill="none" stroke="#111" stroke-width="1" stroke-linejoin="round"/>
<polyline points="404.5,100.47 404.93,100.86 405.36,100.6 405.79,100.25 406.22,100.31 406.65,100.29 407.08,100.22 407.51,100.69 407.94,100.78 408.37,100.75 408.8,100.51 409.22,100.41 409.65,100.24 410.08,100.38 410.51,100.43 410.94,100.35 411.37,100.55 411.8,100.49 412.23,100.54 412.66,98.44 413.09,96.09 413.52,92.18 413.95,88.51 414.38,84.85 414.81,81.41 415.24,78.45 415.67,75.78 416.1,73.36 416.53,71.46 416.96,69.32 417.38,67.04 417.81,65.24 418.24,63.88 418.67,62.69 419.1,61.2 419.53,60.45 419.96,59.23 420.39,58.23 420.82,57.16 421.25,56.81 421.68,56.2 422.11,56.06 422.54,55.84 422.97,55.5 423.4,54.72 423.83,54.62 424.26,54.64 424.69,54.61 425.12,54.11 425.55,53.83 425.97,53.84 426.4,53.81 426.83,53.4 427.26,53.1 427.69,53.44 428.12,53.45 428.55,53.15 428.98,53 429.41,52.75 429.84,52.99 430.27,52.53 430.7,52.51 431.13,52.62 431.56,52.78 431.99,52.24 432.42,52.64 432.85,52.27 433.28,52.63 433.71,52.6 434.14,52.22 434.56,52.5 434.99,52.04 435.42,52.32 435.85,52.5 436.28,52.46 436.71,52.31 437.14,52.12 437.57,51.92 438,52.43 438.43,52.25 438.86,52.35 439.29,51.83 439.72,52.36 440.15,52.41 440.58,52.39 441.01,52.15 441.44,51.8 441.87,51.8 442.3,51.88 442.73,51.69 443.15,51.72 443.58,52.1 444.01,52.17 444.44,51.66 444.87,51.77 445.3,52.22 445.73,51.79 446.16,51.96 446.59,51.94 447.02,51.96 447.45,52.05 447.88,52.14 448.31,51.94 448.74,51.88 449.17,51.46 449.6,52 450.03,51.43 450.46,51.91 450.89,51.8 451.32,51.47 451.74,51.46 452.17,51.7 452.6,51.94 453.03,51.64 453.46,51.7 453.89,51.32 454.32,51.79 454.75,51.66 455.18,51.29 455.61,51.85 456.04,51.59 456.47,51.31 456.9,51.32 457.33,51.79 457.76,51.78 458.19,51.74 458.62,51.17 459.05,51.59 459.48,51.25 459.91,51.14 460.33,51.49 460.76,51.53 461.19,51.06 461.62,51.27 462.05,51.49 462.48,51.18 462.91,51.43 463.34,51.44 463.77,51.61 464.2,51.1 464.63,50.98 465.06,51.15 465.49,50.94 465.92,51.53 466.35,51.38 466.78,51.2 467.21,50.87 467.64,50.86 468.07,51.22 468.5,51.3 468.92,51.17 469.35,51.11 469.78,50.81 470.21,51.29 470.64,50.87 471.07,50.89 471.5,50.82 471.93,50.84 472.36,50.94 472.79,51.11 473.22,51.1" fill="none" stroke="#111" stroke-width="1" stroke-linejoin="round"/>
<line x1="227.3" y1="138.9" x2="236.8" y2="138.9" stroke="#111" stroke-width="1.2"/>
<text x="239.2" y="141.6" font-size="8.16" fill="#333" stroke="#333" stroke-width="0.2" textLength="25.25" lengthAdjust="spacingAndGlyphs">Vehicle</text>
<line x1="227.3" y1="147.6" x2="236.8" y2="147.6" stroke="#6a8f8a" stroke-width="1.2"/>
<text x="239.2" y="150.3" font-size="8.16" fill="#333" stroke="#333" stroke-width="0.2" textLength="60.99" lengthAdjust="spacingAndGlyphs">Vehicle + inhibitor</text>
<line x1="227.3" y1="159.1" x2="236.8" y2="159.1" stroke="#23845a" stroke-width="1.2"/>
<text x="239.2" y="161.8" font-size="8.16" fill="#333" stroke="#333" stroke-width="0.2" textLength="47.08" lengthAdjust="spacingAndGlyphs">CS585 25 nM</text>
<line x1="227.3" y1="167.8" x2="236.8" y2="167.8" stroke="#a6cf5a" stroke-width="1.2"/>
<text x="239.2" y="170.5" font-size="8.16" fill="#333" stroke="#333" stroke-width="0.2" textLength="82.82" lengthAdjust="spacingAndGlyphs">CS585 25 nM + inhibitor</text>
<line x1="330.4" y1="138.9" x2="339.9" y2="138.9" stroke="#2f3a8f" stroke-width="1.2"/>
<text x="343" y="141.6" font-size="8.16" fill="#333" stroke="#333" stroke-width="0.2" textLength="42.8" lengthAdjust="spacingAndGlyphs">CS585 1 nM</text>
<line x1="330.4" y1="147.6" x2="339.9" y2="147.6" stroke="#5fd0e0" stroke-width="1.2"/>
<text x="343" y="150.3" font-size="8.16" fill="#333" stroke="#333" stroke-width="0.2" textLength="78.54" lengthAdjust="spacingAndGlyphs">CS585 1 nM + inhibitor</text>
<line x1="330.4" y1="159.1" x2="339.9" y2="159.1" stroke="#e0363c" stroke-width="1.2"/>
<text x="343" y="161.8" font-size="8.16" fill="#333" stroke="#333" stroke-width="0.2" textLength="47.08" lengthAdjust="spacingAndGlyphs">CS585 50 nM</text>
<line x1="330.4" y1="167.8" x2="339.9" y2="167.8" stroke="#f3a9b8" stroke-width="1.2"/>
<text x="343" y="170.5" font-size="8.16" fill="#333" stroke="#333" stroke-width="0.2" textLength="82.82" lengthAdjust="spacingAndGlyphs">CS585 50 nM + inhibitor</text>
<text x="7.6" y="212.2" font-size="11.6" font-weight="bold" fill="#000">C</text>
<rect x="49.1" y="210.4" width="9.4" height="9.4" fill="url(#p0)" stroke="#000" stroke-width="0.6"/>
<text x="61.4" y="218" font-size="7.84" fill="#333" stroke="#333" stroke-width="0.2" textLength="68.29" lengthAdjust="spacingAndGlyphs">Vehicle RO 1138452</text>
<rect x="49.1" y="222.9" width="9.4" height="9.4" fill="#e6192e"/>
<text x="61.4" y="230.5" font-size="7.84" fill="#333" stroke="#333" stroke-width="0.2" textLength="41.96" lengthAdjust="spacingAndGlyphs">RO 1138452</text>
<rect x="138.3" y="210.4" width="9.4" height="9.4" fill="url(#p2)" stroke="#000" stroke-width="0.6"/>
<text x="150.4" y="218" font-size="7.84" fill="#333" stroke="#333" stroke-width="0.2" textLength="89.67" lengthAdjust="spacingAndGlyphs">Vehicle CJ-42794/TG4-155</text>
<rect x="138.3" y="222.9" width="9.4" height="9.4" fill="url(#p3)" stroke="#000" stroke-width="0.6"/>
<text x="150.4" y="230.5" font-size="7.84" fill="#333" stroke="#333" stroke-width="0.2" textLength="63.34" lengthAdjust="spacingAndGlyphs">CJ-42794/TG4-155</text>
<rect x="249.9" y="210.4" width="9.4" height="9.4" fill="url(#p4)" stroke="#000" stroke-width="0.6"/>
<text x="262.6" y="218" font-size="7.84" fill="#333" stroke="#333" stroke-width="0.2" textLength="56.35" lengthAdjust="spacingAndGlyphs">Vehicle MK-0524</text>
<rect x="249.9" y="222.9" width="9.4" height="9.4" fill="#000"/>
<rect x="251.1" y="224.3" width="1.7" height="2.4" fill="#fff"/>
<rect x="253.7" y="224.3" width="1.7" height="2.4" fill="#fff"/>
<rect x="256.3" y="224.3" width="1.7" height="2.4" fill="#fff"/>
<rect x="251.1" y="228" width="1.7" height="2.4" fill="#fff"/>
<rect x="253.7" y="228" width="1.7" height="2.4" fill="#fff"/>
<rect x="256.3" y="228" width="1.7" height="2.4" fill="#fff"/>
<text x="262.6" y="230.5" font-size="7.84" fill="#333" stroke="#333" stroke-width="0.2" textLength="30.03" lengthAdjust="spacingAndGlyphs">MK-0524</text>
<line x1="54.5" y1="247.7" x2="54.5" y2="308" stroke="#231f20" stroke-width="1"/>
<line x1="54" y1="307.5" x2="313.5" y2="307.5" stroke="#231f20" stroke-width="1"/>
<line x1="51.7" y1="307.2" x2="54.5" y2="307.2" stroke="#231f20" stroke-width="0.8"/>
<text x="48.9" y="309.6" font-size="7.31" text-anchor="end" fill="#333" stroke="#333" stroke-width="0.2" textLength="4.49" lengthAdjust="spacingAndGlyphs">0</text>
<line x1="51.7" y1="293.07" x2="54.5" y2="293.07" stroke="#231f20" stroke-width="0.8"/>
<text x="48.9" y="295.47" font-size="7.31" text-anchor="end" fill="#333" stroke="#333" stroke-width="0.2" textLength="8.98" lengthAdjust="spacingAndGlyphs">50</text>
<line x1="51.7" y1="278.95" x2="54.5" y2="278.95" stroke="#231f20" stroke-width="0.8"/>
<text x="48.9" y="281.35" font-size="7.31" text-anchor="end" fill="#333" stroke="#333" stroke-width="0.2" textLength="13.47" lengthAdjust="spacingAndGlyphs">100</text>
<line x1="51.7" y1="264.82" x2="54.5" y2="264.82" stroke="#231f20" stroke-width="0.8"/>
<text x="48.9" y="267.22" font-size="7.31" text-anchor="end" fill="#333" stroke="#333" stroke-width="0.2" textLength="13.47" lengthAdjust="spacingAndGlyphs">150</text>
<line x1="51.7" y1="250.7" x2="54.5" y2="250.7" stroke="#231f20" stroke-width="0.8"/>
<text x="48.9" y="253.1" font-size="7.31" text-anchor="end" fill="#333" stroke="#333" stroke-width="0.2" textLength="13.47" lengthAdjust="spacingAndGlyphs">200</text>
<text transform="translate(17.2 277) rotate(-90)" font-size="7.63" text-anchor="middle" fill="#333" stroke="#333" stroke-width="0.2" textLength="86" lengthAdjust="spacingAndGlyphs">Integrin α<tspan font-size="5" dy="1.6">IIb</tspan><tspan dy="-1.6">β</tspan><tspan font-size="5" dy="1.6">3</tspan><tspan dy="-1.6"> activation</tspan></text>
<text transform="translate(28.4 277) rotate(-90)" font-size="7.63" text-anchor="middle" fill="#333" stroke="#333" stroke-width="0.2" textLength="61" lengthAdjust="spacingAndGlyphs">(% of vehicle MFI)</text>
<line x1="80.3" y1="307.2" x2="80.3" y2="309.7" stroke="#231f20" stroke-width="0.8"/>
<text x="80.3" y="320.4" font-size="8.48" text-anchor="middle" fill="#333" stroke="#333" stroke-width="0.2" textLength="26.24" lengthAdjust="spacingAndGlyphs">Vehicle</text>
<rect x="57.4" y="278.95" width="6.8" height="28.25" fill="url(#p0)" stroke="#000" stroke-width="0.5"/>
<line x1="60.8" y1="278.95" x2="60.8" y2="274.74" stroke="#000" stroke-width="0.6"/>
<line x1="59.2" y1="274.74" x2="62.4" y2="274.74" stroke="#000" stroke-width="0.6"/>
<circle cx="60.52" cy="277.17" r="1.05" fill="#000"/>
<circle cx="60.56" cy="288.1" r="1.05" fill="#000"/>
<rect x="65.6" y="278.95" width="6.4" height="28.25" fill="#e6192e"/>
<line x1="68.6" y1="278.95" x2="68.6" y2="274.09" stroke="#000" stroke-width="0.6"/>
<line x1="67" y1="274.09" x2="70.2" y2="274.09" stroke="#000" stroke-width="0.6"/>
<circle cx="68.15" cy="275.9" r="1.05" fill="#000"/>
<circle cx="69.6" cy="262.61" r="1.05" fill="#000"/>
<circle cx="67.99" cy="262.38" r="1.05" fill="#000"/>
<circle cx="67.55" cy="290.46" r="1.05" fill="#000"/>
<rect x="73" y="278.95" width="6.8" height="28.25" fill="url(#p2)" stroke="#000" stroke-width="0.5"/>
<line x1="76.4" y1="278.95" x2="76.4" y2="274.43" stroke="#000" stroke-width="0.6"/>
<line x1="74.8" y1="274.43" x2="78" y2="274.43" stroke="#000" stroke-width="0.6"/>
<circle cx="75.45" cy="287.69" r="1.05" fill="#000"/>
<circle cx="77.42" cy="278.75" r="1.05" fill="#000"/>
<circle cx="76.5" cy="285.77" r="1.05" fill="#000"/>
<circle cx="77.07" cy="269.03" r="1.05" fill="#000"/>
<rect x="80.8" y="278.95" width="6.8" height="28.25" fill="url(#p3)" stroke="#000" stroke-width="0.5"/>
<line x1="84.2" y1="278.95" x2="84.2" y2="273.8" stroke="#000" stroke-width="0.6"/>
<line x1="82.6" y1="273.8" x2="85.8" y2="273.8" stroke="#000" stroke-width="0.6"/>
<circle cx="84.37" cy="283.95" r="1.05" fill="#000"/>
<circle cx="84.82" cy="281.48" r="1.05" fill="#000"/>
<circle cx="83.54" cy="286.89" r="1.05" fill="#000"/>
<rect x="88.6" y="278.95" width="6.8" height="28.25" fill="url(#p4)" stroke="#000" stroke-width="0.5"/>
<line x1="92" y1="278.95" x2="92" y2="275.01" stroke="#000" stroke-width="0.6"/>
<line x1="90.4" y1="275.01" x2="93.6" y2="275.01" stroke="#000" stroke-width="0.6"/>
<circle cx="93.06" cy="284.33" r="1.05" fill="#000"/>
<circle cx="90.87" cy="287.23" r="1.05" fill="#000"/>
<circle cx="91.34" cy="285.25" r="1.05" fill="#000"/>
<rect x="96.4" y="278.95" width="6.8" height="28.25" fill="url(#p5)" stroke="#000" stroke-width="0.5"/>
<line x1="99.8" y1="278.95" x2="99.8" y2="274.37" stroke="#000" stroke-width="0.6"/>
<line x1="98.2" y1="274.37" x2="101.4" y2="274.37" stroke="#000" stroke-width="0.6"/>
<circle cx="101.08" cy="272.77" r="1.05" fill="#000"/>
<circle cx="99.73" cy="289.9" r="1.05" fill="#000"/>
<line x1="132.3" y1="307.2" x2="132.3" y2="309.7" stroke="#231f20" stroke-width="0.8"/>
<text x="132.3" y="320.4" font-size="8.48" text-anchor="middle" fill="#333" stroke="#333" stroke-width="0.2" textLength="15.57" lengthAdjust="spacingAndGlyphs">12.5</text>
<rect x="109.4" y="293.64" width="6.8" height="13.56" fill="url(#p0)" stroke="#000" stroke-width="0.5"/>
<line x1="112.8" y1="293.64" x2="112.8" y2="290.16" stroke="#000" stroke-width="0.6"/>
<line x1="111.2" y1="290.16" x2="114.4" y2="290.16" stroke="#000" stroke-width="0.6"/>
<circle cx="111.6" cy="284.83" r="1.05" fill="#000"/>
<circle cx="111.81" cy="295.91" r="1.05" fill="#000"/>
<circle cx="114.03" cy="297.77" r="1.05" fill="#000"/>
<circle cx="113.92" cy="290.74" r="1.05" fill="#000"/>
<rect x="117.6" y="286.58" width="6.4" height="20.62" fill="#e6192e"/>
<line x1="120.6" y1="286.58" x2="120.6" y2="283.26" stroke="#000" stroke-width="0.6"/>
<line x1="119" y1="283.26" x2="122.2" y2="283.26" stroke="#000" stroke-width="0.6"/>
<circle cx="119.98" cy="286.4" r="1.05" fill="#000"/>
<circle cx="121.76" cy="278.44" r="1.05" fill="#000"/>
<circle cx="120.85" cy="294.71" r="1.05" fill="#000"/>
<rect x="125" y="294.49" width="6.8" height="12.71" fill="url(#p2)" stroke="#000" stroke-width="0.5"/>
<line x1="128.4" y1="294.49" x2="128.4" y2="291.56" stroke="#000" stroke-width="0.6"/>
<line x1="126.8" y1="291.56" x2="130" y2="291.56" stroke="#000" stroke-width="0.6"/>
<circle cx="127.98" cy="300.98" r="1.05" fill="#000"/>
<circle cx="129.7" cy="300.87" r="1.05" fill="#000"/>
<circle cx="129" cy="300.97" r="1.05" fill="#000"/>
<rect x="132.8" y="286.58" width="6.8" height="20.62" fill="url(#p3)" stroke="#000" stroke-width="0.5"/>
<line x1="136.2" y1="286.58" x2="136.2" y2="282.04" stroke="#000" stroke-width="0.6"/>
<line x1="134.6" y1="282.04" x2="137.8" y2="282.04" stroke="#000" stroke-width="0.6"/>
<circle cx="135.96" cy="277.45" r="1.05" fill="#000"/>
<circle cx="136.51" cy="288.27" r="1.05" fill="#000"/>
<rect x="140.6" y="288.56" width="6.8" height="18.64" fill="url(#p4)" stroke="#000" stroke-width="0.5"/>
<line x1="144" y1="288.56" x2="144" y2="286.14" stroke="#000" stroke-width="0.6"/>
<line x1="142.4" y1="286.14" x2="145.6" y2="286.14" stroke="#000" stroke-width="0.6"/>
<circle cx="144.12" cy="280.52" r="1.05" fill="#000"/>
<circle cx="142.96" cy="296.94" r="1.05" fill="#000"/>
<rect x="148.4" y="286.01" width="6.8" height="21.19" fill="url(#p5)" stroke="#000" stroke-width="0.5"/>
<line x1="151.8" y1="286.01" x2="151.8" y2="282.58" stroke="#000" stroke-width="0.6"/>
<line x1="150.2" y1="282.58" x2="153.4" y2="282.58" stroke="#000" stroke-width="0.6"/>
<circle cx="150.74" cy="281.16" r="1.05" fill="#000"/>
<circle cx="152.31" cy="292.91" r="1.05" fill="#000"/>
<circle cx="151.24" cy="286.83" r="1.05" fill="#000"/>
<line x1="184.2" y1="307.2" x2="184.2" y2="309.7" stroke="#231f20" stroke-width="0.8"/>
<text x="184.2" y="320.4" font-size="8.48" text-anchor="middle" fill="#333" stroke="#333" stroke-width="0.2" textLength="8.9" lengthAdjust="spacingAndGlyphs">25</text>
<rect x="161.3" y="299.01" width="6.8" height="8.19" fill="url(#p0)" stroke="#000" stroke-width="0.5"/>
<line x1="164.7" y1="299.01" x2="164.7" y2="297.18" stroke="#000" stroke-width="0.6"/>
<line x1="163.1" y1="297.18" x2="166.3" y2="297.18" stroke="#000" stroke-width="0.6"/>
<circle cx="164.87" cy="300.04" r="1.05" fill="#000"/>
<circle cx="164.48" cy="299.45" r="1.05" fill="#000"/>
<rect x="169.5" y="288.56" width="6.4" height="18.64" fill="#e6192e"/>
<line x1="172.5" y1="288.56" x2="172.5" y2="284.36" stroke="#000" stroke-width="0.6"/>
<line x1="170.9" y1="284.36" x2="174.1" y2="284.36" stroke="#000" stroke-width="0.6"/>
<circle cx="172.22" cy="283.9" r="1.05" fill="#000"/>
<circle cx="173.65" cy="289.27" r="1.05" fill="#000"/>
<circle cx="171.61" cy="288.62" r="1.05" fill="#000"/>
<rect x="176.9" y="296.75" width="6.8" height="10.45" fill="url(#p2)" stroke="#000" stroke-width="0.5"/>
<line x1="180.3" y1="296.75" x2="180.3" y2="295.24" stroke="#000" stroke-width="0.6"/>
<line x1="178.7" y1="295.24" x2="181.9" y2="295.24" stroke="#000" stroke-width="0.6"/>
<circle cx="181.3" cy="296.75" r="1.05" fill="#000"/>
<circle cx="179.42" cy="295.92" r="1.05" fill="#000"/>
<rect x="184.7" y="286.58" width="6.8" height="20.62" fill="url(#p3)" stroke="#000" stroke-width="0.5"/>
<line x1="188.1" y1="286.58" x2="188.1" y2="284.07" stroke="#000" stroke-width="0.6"/>
<line x1="186.5" y1="284.07" x2="189.7" y2="284.07" stroke="#000" stroke-width="0.6"/>
<circle cx="189.17" cy="281.76" r="1.05" fill="#000"/>
<circle cx="188.42" cy="295.11" r="1.05" fill="#000"/>
<circle cx="188.11" cy="288.29" r="1.05" fill="#000"/>
<rect x="192.5" y="290.81" width="6.8" height="16.38" fill="url(#p4)" stroke="#000" stroke-width="0.5"/>
<line x1="195.9" y1="290.81" x2="195.9" y2="288.52" stroke="#000" stroke-width="0.6"/>
<line x1="194.3" y1="288.52" x2="197.5" y2="288.52" stroke="#000" stroke-width="0.6"/>
<circle cx="195.05" cy="296.3" r="1.05" fill="#000"/>
<circle cx="195.6" cy="298.23" r="1.05" fill="#000"/>
<circle cx="196.66" cy="284.23" r="1.05" fill="#000"/>
<rect x="200.3" y="292.79" width="6.8" height="14.41" fill="url(#p5)" stroke="#000" stroke-width="0.5"/>
<line x1="203.7" y1="292.79" x2="203.7" y2="289.24" stroke="#000" stroke-width="0.6"/>
<line x1="202.1" y1="289.24" x2="205.3" y2="289.24" stroke="#000" stroke-width="0.6"/>
<circle cx="204.85" cy="298.33" r="1.05" fill="#000"/>
<circle cx="203.66" cy="282.53" r="1.05" fill="#000"/>
<circle cx="204.81" cy="299.69" r="1.05" fill="#000"/>
<line x1="236.2" y1="307.2" x2="236.2" y2="309.7" stroke="#231f20" stroke-width="0.8"/>
<text x="236.2" y="320.4" font-size="8.48" text-anchor="middle" fill="#333" stroke="#333" stroke-width="0.2" textLength="8.9" lengthAdjust="spacingAndGlyphs">50</text>
<rect x="213.3" y="302.12" width="6.8" height="5.08" fill="url(#p0)" stroke="#000" stroke-width="0.5"/>
<line x1="216.7" y1="302.12" x2="216.7" y2="300.11" stroke="#000" stroke-width="0.6"/>
<line x1="215.1" y1="300.11" x2="218.3" y2="300.11" stroke="#000" stroke-width="0.6"/>
<circle cx="217.63" cy="299.27" r="1.05" fill="#000"/>
<circle cx="217" cy="299.46" r="1.05" fill="#000"/>
<circle cx="216.63" cy="303.81" r="1.05" fill="#000"/>
<rect x="221.5" y="287.43" width="6.4" height="19.77" fill="#e6192e"/>
<line x1="224.5" y1="287.43" x2="224.5" y2="283.77" stroke="#000" stroke-width="0.6"/>
<line x1="222.9" y1="283.77" x2="226.1" y2="283.77" stroke="#000" stroke-width="0.6"/>
<circle cx="224.55" cy="288.36" r="1.05" fill="#000"/>
<circle cx="223.52" cy="288.74" r="1.05" fill="#000"/>
<rect x="228.9" y="302.12" width="6.8" height="5.08" fill="url(#p2)" stroke="#000" stroke-width="0.5"/>
<line x1="232.3" y1="302.12" x2="232.3" y2="300.43" stroke="#000" stroke-width="0.6"/>
<line x1="230.7" y1="300.43" x2="233.9" y2="300.43" stroke="#000" stroke-width="0.6"/>
<circle cx="232.46" cy="305.4" r="1.05" fill="#000"/>
<circle cx="231.1" cy="298.07" r="1.05" fill="#000"/>
<circle cx="231.31" cy="297.24" r="1.05" fill="#000"/>
<rect x="236.7" y="296.75" width="6.8" height="10.45" fill="url(#p3)" stroke="#000" stroke-width="0.5"/>
<line x1="240.1" y1="296.75" x2="240.1" y2="294.14" stroke="#000" stroke-width="0.6"/>
<line x1="238.5" y1="294.14" x2="241.7" y2="294.14" stroke="#000" stroke-width="0.6"/>
<circle cx="239.6" cy="293.09" r="1.05" fill="#000"/>
<circle cx="239.81" cy="299.11" r="1.05" fill="#000"/>
<circle cx="240.11" cy="297.33" r="1.05" fill="#000"/>
<rect x="244.5" y="295.05" width="6.8" height="12.15" fill="url(#p4)" stroke="#000" stroke-width="0.5"/>
<line x1="247.9" y1="295.05" x2="247.9" y2="293.19" stroke="#000" stroke-width="0.6"/>
<line x1="246.3" y1="293.19" x2="249.5" y2="293.19" stroke="#000" stroke-width="0.6"/>
<circle cx="247.87" cy="291.67" r="1.05" fill="#000"/>
<circle cx="248.59" cy="298.03" r="1.05" fill="#000"/>
<rect x="252.3" y="296.75" width="6.8" height="10.45" fill="url(#p5)" stroke="#000" stroke-width="0.5"/>
<line x1="255.7" y1="296.75" x2="255.7" y2="293.73" stroke="#000" stroke-width="0.6"/>
<line x1="254.1" y1="293.73" x2="257.3" y2="293.73" stroke="#000" stroke-width="0.6"/>
<circle cx="256.51" cy="290.27" r="1.05" fill="#000"/>
<circle cx="254.57" cy="296.84" r="1.05" fill="#000"/>
<circle cx="255.35" cy="297.46" r="1.05" fill="#000"/>
<circle cx="255.71" cy="290.78" r="1.05" fill="#000"/>
<line x1="288.2" y1="307.2" x2="288.2" y2="309.7" stroke="#231f20" stroke-width="0.8"/>
<text x="288.2" y="320.4" font-size="8.48" text-anchor="middle" fill="#333" stroke="#333" stroke-width="0.2" textLength="13.35" lengthAdjust="spacingAndGlyphs">100</text>
<rect x="265.3" y="304.94" width="6.8" height="2.26" fill="url(#p0)" stroke="#000" stroke-width="0.5"/>
<line x1="268.7" y1="304.94" x2="268.7" y2="302.32" stroke="#000" stroke-width="0.6"/>
<line x1="267.1" y1="302.32" x2="270.3" y2="302.32" stroke="#000" stroke-width="0.6"/>
<circle cx="267.61" cy="302.48" r="1.05" fill="#000"/>
<circle cx="269.42" cy="301.73" r="1.05" fill="#000"/>
<rect x="273.5" y="288.56" width="6.4" height="18.64" fill="#e6192e"/>
<line x1="276.5" y1="288.56" x2="276.5" y2="285.16" stroke="#000" stroke-width="0.6"/>
<line x1="274.9" y1="285.16" x2="278.1" y2="285.16" stroke="#000" stroke-width="0.6"/>
<circle cx="277.53" cy="281.49" r="1.05" fill="#000"/>
<circle cx="277.24" cy="283.72" r="1.05" fill="#000"/>
<rect x="280.9" y="300.7" width="6.8" height="6.5" fill="url(#p2)" stroke="#000" stroke-width="0.5"/>
<line x1="284.3" y1="300.7" x2="284.3" y2="299.51" stroke="#000" stroke-width="0.6"/>
<line x1="282.7" y1="299.51" x2="285.9" y2="299.51" stroke="#000" stroke-width="0.6"/>
<circle cx="284.9" cy="293.59" r="1.05" fill="#000"/>
<circle cx="283.5" cy="295.67" r="1.05" fill="#000"/>
<rect x="288.7" y="299.86" width="6.8" height="7.34" fill="url(#p3)" stroke="#000" stroke-width="0.5"/>
<line x1="292.1" y1="299.86" x2="292.1" y2="296.51" stroke="#000" stroke-width="0.6"/>
<line x1="290.5" y1="296.51" x2="293.7" y2="296.51" stroke="#000" stroke-width="0.6"/>
<circle cx="292.91" cy="301.04" r="1.05" fill="#000"/>
<circle cx="292.58" cy="294.83" r="1.05" fill="#000"/>
<circle cx="291.37" cy="295.73" r="1.05" fill="#000"/>
<circle cx="292.39" cy="294.36" r="1.05" fill="#000"/>
<rect x="296.5" y="299.01" width="6.8" height="8.19" fill="url(#p4)" stroke="#000" stroke-width="0.5"/>
<line x1="299.9" y1="299.01" x2="299.9" y2="297.31" stroke="#000" stroke-width="0.6"/>
<line x1="298.3" y1="297.31" x2="301.5" y2="297.31" stroke="#000" stroke-width="0.6"/>
<circle cx="299.31" cy="292.43" r="1.05" fill="#000"/>
<circle cx="298.97" cy="293.48" r="1.05" fill="#000"/>
<circle cx="300.99" cy="297.57" r="1.05" fill="#000"/>
<rect x="304.3" y="303.53" width="6.8" height="3.67" fill="url(#p5)" stroke="#000" stroke-width="0.5"/>
<line x1="307.7" y1="303.53" x2="307.7" y2="301.93" stroke="#000" stroke-width="0.6"/>
<line x1="306.1" y1="301.93" x2="309.3" y2="301.93" stroke="#000" stroke-width="0.6"/>
<circle cx="307.02" cy="301.08" r="1.05" fill="#000"/>
<circle cx="306.92" cy="303.26" r="1.05" fill="#000"/>
<circle cx="308.06" cy="302.98" r="1.05" fill="#000"/>
<path d="M112.8 287.43L112.8 261.5L120.6 261.5L120.6 274.71" stroke="#000" stroke-width="0.7" fill="none"/>
<text x="116.7" y="259" font-size="6.89" text-anchor="middle" fill="#333" stroke="#333" stroke-width="0.2" textLength="2.53" lengthAdjust="spacingAndGlyphs">*</text>
<path d="M164.7 292.79L164.7 261.5L172.5 261.5L172.5 276.69" stroke="#000" stroke-width="0.7" fill="none"/>
<text x="168.6" y="259" font-size="6.89" text-anchor="middle" fill="#333" stroke="#333" stroke-width="0.2" textLength="2.53" lengthAdjust="spacingAndGlyphs">*</text>
<path d="M216.7 295.9L216.7 261.5L224.5 261.5L224.5 275.56" stroke="#000" stroke-width="0.7" fill="none"/>
<text x="220.6" y="259" font-size="6.89" text-anchor="middle" fill="#333" stroke="#333" stroke-width="0.2" textLength="2.53" lengthAdjust="spacingAndGlyphs">*</text>
<path d="M268.7 298.72L268.7 261.5L276.5 261.5L276.5 276.69" stroke="#000" stroke-width="0.7" fill="none"/>
<text x="272.6" y="259" font-size="6.89" text-anchor="middle" fill="#333" stroke="#333" stroke-width="0.2" textLength="2.53" lengthAdjust="spacingAndGlyphs">*</text>
<line x1="111" y1="322.5" x2="312" y2="322.5" stroke="#231f20" stroke-width="0.9"/>
<text x="211" y="332.2" font-size="8.37" text-anchor="middle" fill="#333" stroke="#333" stroke-width="0.2" textLength="42.3" lengthAdjust="spacingAndGlyphs">CS585 (nM)</text>
<line x1="54.5" y1="343.2" x2="54.5" y2="403.9" stroke="#231f20" stroke-width="1"/>
<line x1="54" y1="403.5" x2="313.5" y2="403.5" stroke="#231f20" stroke-width="1"/>
<line x1="51.7" y1="403.1" x2="54.5" y2="403.1" stroke="#231f20" stroke-width="0.8"/>
<text x="48.9" y="405.5" font-size="7.31" text-anchor="end" fill="#333" stroke="#333" stroke-width="0.2" textLength="4.49" lengthAdjust="spacingAndGlyphs">0</text>
<line x1="51.7" y1="388.88" x2="54.5" y2="388.88" stroke="#231f20" stroke-width="0.8"/>
<text x="48.9" y="391.27" font-size="7.31" text-anchor="end" fill="#333" stroke="#333" stroke-width="0.2" textLength="8.98" lengthAdjust="spacingAndGlyphs">50</text>
<line x1="51.7" y1="374.65" x2="54.5" y2="374.65" stroke="#231f20" stroke-width="0.8"/>
<text x="48.9" y="377.05" font-size="7.31" text-anchor="end" fill="#333" stroke="#333" stroke-width="0.2" textLength="13.47" lengthAdjust="spacingAndGlyphs">100</text>
<line x1="51.7" y1="360.43" x2="54.5" y2="360.43" stroke="#231f20" stroke-width="0.8"/>
<text x="48.9" y="362.82" font-size="7.31" text-anchor="end" fill="#333" stroke="#333" stroke-width="0.2" textLength="13.47" lengthAdjust="spacingAndGlyphs">150</text>
<line x1="51.7" y1="346.2" x2="54.5" y2="346.2" stroke="#231f20" stroke-width="0.8"/>
<text x="48.9" y="348.6" font-size="7.31" text-anchor="end" fill="#333" stroke="#333" stroke-width="0.2" textLength="13.47" lengthAdjust="spacingAndGlyphs">200</text>
<text transform="translate(17.2 372.7) rotate(-90)" font-size="7.63" text-anchor="middle" fill="#333" stroke="#333" stroke-width="0.2" textLength="65" lengthAdjust="spacingAndGlyphs">α-granule secretion</text>
<text transform="translate(28.4 372.7) rotate(-90)" font-size="7.63" text-anchor="middle" fill="#333" stroke="#333" stroke-width="0.2" textLength="61" lengthAdjust="spacingAndGlyphs">(% of vehicle MFI)</text>
<line x1="80.3" y1="403.1" x2="80.3" y2="405.6" stroke="#231f20" stroke-width="0.8"/>
<text x="80.3" y="416.3" font-size="8.48" text-anchor="middle" fill="#333" stroke="#333" stroke-width="0.2" textLength="26.24" lengthAdjust="spacingAndGlyphs">Vehicle</text>
<rect x="57.4" y="374.65" width="6.8" height="28.45" fill="url(#p0)" stroke="#000" stroke-width="0.5"/>
<line x1="60.8" y1="374.65" x2="60.8" y2="370.6" stroke="#000" stroke-width="0.6"/>
<line x1="59.2" y1="370.6" x2="62.4" y2="370.6" stroke="#000" stroke-width="0.6"/>
<circle cx="59.94" cy="360.85" r="1.05" fill="#000"/>
<circle cx="59.8" cy="364.31" r="1.05" fill="#000"/>
<circle cx="61.15" cy="372.27" r="1.05" fill="#000"/>
<rect x="65.6" y="375.22" width="6.4" height="27.88" fill="#e6192e"/>
<line x1="68.6" y1="375.22" x2="68.6" y2="371.05" stroke="#000" stroke-width="0.6"/>
<line x1="67" y1="371.05" x2="70.2" y2="371.05" stroke="#000" stroke-width="0.6"/>
<circle cx="68.81" cy="372.1" r="1.05" fill="#000"/>
<circle cx="67.57" cy="362.02" r="1.05" fill="#000"/>
<circle cx="68.94" cy="358.62" r="1.05" fill="#000"/>
<circle cx="69.37" cy="377.05" r="1.05" fill="#000"/>
<rect x="73" y="374.65" width="6.8" height="28.45" fill="url(#p2)" stroke="#000" stroke-width="0.5"/>
<line x1="76.4" y1="374.65" x2="76.4" y2="370.63" stroke="#000" stroke-width="0.6"/>
<line x1="74.8" y1="370.63" x2="78" y2="370.63" stroke="#000" stroke-width="0.6"/>
<circle cx="76.04" cy="370.81" r="1.05" fill="#000"/>
<circle cx="76.25" cy="364.95" r="1.05" fill="#000"/>
<circle cx="77.03" cy="383.34" r="1.05" fill="#000"/>
<rect x="80.8" y="374.37" width="6.8" height="28.73" fill="url(#p3)" stroke="#000" stroke-width="0.5"/>
<line x1="84.2" y1="374.37" x2="84.2" y2="370.81" stroke="#000" stroke-width="0.6"/>
<line x1="82.6" y1="370.81" x2="85.8" y2="370.81" stroke="#000" stroke-width="0.6"/>
<circle cx="85.41" cy="378.94" r="1.05" fill="#000"/>
<circle cx="85.31" cy="361.26" r="1.05" fill="#000"/>
<circle cx="84.81" cy="360.46" r="1.05" fill="#000"/>
<rect x="88.6" y="373.23" width="6.8" height="29.87" fill="url(#p4)" stroke="#000" stroke-width="0.5"/>
<line x1="92" y1="373.23" x2="92" y2="367.94" stroke="#000" stroke-width="0.6"/>
<line x1="90.4" y1="367.94" x2="93.6" y2="367.94" stroke="#000" stroke-width="0.6"/>
<circle cx="92.3" cy="383.23" r="1.05" fill="#000"/>
<circle cx="92.03" cy="374.01" r="1.05" fill="#000"/>
<circle cx="91.04" cy="358.92" r="1.05" fill="#000"/>
<rect x="96.4" y="374.65" width="6.8" height="28.45" fill="url(#p5)" stroke="#000" stroke-width="0.5"/>
<line x1="99.8" y1="374.65" x2="99.8" y2="370.72" stroke="#000" stroke-width="0.6"/>
<line x1="98.2" y1="370.72" x2="101.4" y2="370.72" stroke="#000" stroke-width="0.6"/>
<circle cx="98.51" cy="388.18" r="1.05" fill="#000"/>
<circle cx="98.78" cy="377.77" r="1.05" fill="#000"/>
<line x1="132.3" y1="403.1" x2="132.3" y2="405.6" stroke="#231f20" stroke-width="0.8"/>
<text x="132.3" y="416.3" font-size="8.48" text-anchor="middle" fill="#333" stroke="#333" stroke-width="0.2" textLength="15.57" lengthAdjust="spacingAndGlyphs">12.5</text>
<rect x="109.4" y="384.89" width="6.8" height="18.21" fill="url(#p0)" stroke="#000" stroke-width="0.5"/>
<line x1="112.8" y1="384.89" x2="112.8" y2="381.89" stroke="#000" stroke-width="0.6"/>
<line x1="111.2" y1="381.89" x2="114.4" y2="381.89" stroke="#000" stroke-width="0.6"/>
<circle cx="112.28" cy="385.38" r="1.05" fill="#000"/>
<circle cx="112.45" cy="391.56" r="1.05" fill="#000"/>
<circle cx="111.91" cy="376.22" r="1.05" fill="#000"/>
<rect x="117.6" y="378.06" width="6.4" height="25.04" fill="#e6192e"/>
<line x1="120.6" y1="378.06" x2="120.6" y2="375.03" stroke="#000" stroke-width="0.6"/>
<line x1="119" y1="375.03" x2="122.2" y2="375.03" stroke="#000" stroke-width="0.6"/>
<circle cx="120.47" cy="370.79" r="1.05" fill="#000"/>
<circle cx="119.68" cy="388.96" r="1.05" fill="#000"/>
<circle cx="120" cy="371.97" r="1.05" fill="#000"/>
<rect x="125" y="382.33" width="6.8" height="20.77" fill="url(#p2)" stroke="#000" stroke-width="0.5"/>
<line x1="128.4" y1="382.33" x2="128.4" y2="377.99" stroke="#000" stroke-width="0.6"/>
<line x1="126.8" y1="377.99" x2="130" y2="377.99" stroke="#000" stroke-width="0.6"/>
<circle cx="129.23" cy="391.73" r="1.05" fill="#000"/>
<circle cx="128.65" cy="371.33" r="1.05" fill="#000"/>
<rect x="132.8" y="379.49" width="6.8" height="23.61" fill="url(#p3)" stroke="#000" stroke-width="0.5"/>
<line x1="136.2" y1="379.49" x2="136.2" y2="375.34" stroke="#000" stroke-width="0.6"/>
<line x1="134.6" y1="375.34" x2="137.8" y2="375.34" stroke="#000" stroke-width="0.6"/>
<circle cx="137.25" cy="384.84" r="1.05" fill="#000"/>
<circle cx="136.28" cy="390.35" r="1.05" fill="#000"/>
<circle cx="135.52" cy="380.6" r="1.05" fill="#000"/>
<circle cx="136.93" cy="389.96" r="1.05" fill="#000"/>
<rect x="140.6" y="385.75" width="6.8" height="17.35" fill="url(#p4)" stroke="#000" stroke-width="0.5"/>
<line x1="144" y1="385.75" x2="144" y2="383.63" stroke="#000" stroke-width="0.6"/>
<line x1="142.4" y1="383.63" x2="145.6" y2="383.63" stroke="#000" stroke-width="0.6"/>
<circle cx="143.22" cy="391.95" r="1.05" fill="#000"/>
<circle cx="144.02" cy="382.02" r="1.05" fill="#000"/>
<circle cx="144.81" cy="381.31" r="1.05" fill="#000"/>
<rect x="148.4" y="380.62" width="6.8" height="22.48" fill="url(#p5)" stroke="#000" stroke-width="0.5"/>
<line x1="151.8" y1="380.62" x2="151.8" y2="377.53" stroke="#000" stroke-width="0.6"/>
<line x1="150.2" y1="377.53" x2="153.4" y2="377.53" stroke="#000" stroke-width="0.6"/>
<circle cx="152.13" cy="390.51" r="1.05" fill="#000"/>
<circle cx="152.38" cy="366.4" r="1.05" fill="#000"/>
<circle cx="151.9" cy="379.77" r="1.05" fill="#000"/>
<line x1="184.2" y1="403.1" x2="184.2" y2="405.6" stroke="#231f20" stroke-width="0.8"/>
<text x="184.2" y="416.3" font-size="8.48" text-anchor="middle" fill="#333" stroke="#333" stroke-width="0.2" textLength="8.9" lengthAdjust="spacingAndGlyphs">25</text>
<rect x="161.3" y="388.59" width="6.8" height="14.51" fill="url(#p0)" stroke="#000" stroke-width="0.5"/>
<line x1="164.7" y1="388.59" x2="164.7" y2="386" stroke="#000" stroke-width="0.6"/>
<line x1="163.1" y1="386" x2="166.3" y2="386" stroke="#000" stroke-width="0.6"/>
<circle cx="164.61" cy="382.57" r="1.05" fill="#000"/>
<circle cx="164.58" cy="382.64" r="1.05" fill="#000"/>
<circle cx="163.67" cy="392.31" r="1.05" fill="#000"/>
<circle cx="163.5" cy="392.19" r="1.05" fill="#000"/>
<rect x="169.5" y="379.49" width="6.4" height="23.61" fill="#e6192e"/>
<line x1="172.5" y1="379.49" x2="172.5" y2="375.89" stroke="#000" stroke-width="0.6"/>
<line x1="170.9" y1="375.89" x2="174.1" y2="375.89" stroke="#000" stroke-width="0.6"/>
<circle cx="171.89" cy="372.36" r="1.05" fill="#000"/>
<circle cx="172.33" cy="376.61" r="1.05" fill="#000"/>
<circle cx="172.56" cy="370.29" r="1.05" fill="#000"/>
<rect x="176.9" y="386.6" width="6.8" height="16.5" fill="url(#p2)" stroke="#000" stroke-width="0.5"/>
<line x1="180.3" y1="386.6" x2="180.3" y2="384.02" stroke="#000" stroke-width="0.6"/>
<line x1="178.7" y1="384.02" x2="181.9" y2="384.02" stroke="#000" stroke-width="0.6"/>
<circle cx="180.32" cy="393.69" r="1.05" fill="#000"/>
<circle cx="181.35" cy="391.96" r="1.05" fill="#000"/>
<circle cx="179.53" cy="378.16" r="1.05" fill="#000"/>
<rect x="184.7" y="378.63" width="6.8" height="24.47" fill="url(#p3)" stroke="#000" stroke-width="0.5"/>
<line x1="188.1" y1="378.63" x2="188.1" y2="375.33" stroke="#000" stroke-width="0.6"/>
<line x1="186.5" y1="375.33" x2="189.7" y2="375.33" stroke="#000" stroke-width="0.6"/>
<circle cx="187.81" cy="385.75" r="1.05" fill="#000"/>
<circle cx="187.79" cy="374.41" r="1.05" fill="#000"/>
<circle cx="189.2" cy="367.46" r="1.05" fill="#000"/>
<rect x="192.5" y="385.75" width="6.8" height="17.35" fill="url(#p4)" stroke="#000" stroke-width="0.5"/>
<line x1="195.9" y1="385.75" x2="195.9" y2="381.43" stroke="#000" stroke-width="0.6"/>
<line x1="194.3" y1="381.43" x2="197.5" y2="381.43" stroke="#000" stroke-width="0.6"/>
<circle cx="195.98" cy="384.92" r="1.05" fill="#000"/>
<circle cx="194.67" cy="394.84" r="1.05" fill="#000"/>
<circle cx="195.21" cy="374.61" r="1.05" fill="#000"/>
<circle cx="196.65" cy="376.12" r="1.05" fill="#000"/>
<rect x="200.3" y="384.89" width="6.8" height="18.21" fill="url(#p5)" stroke="#000" stroke-width="0.5"/>
<line x1="203.7" y1="384.89" x2="203.7" y2="381.82" stroke="#000" stroke-width="0.6"/>
<line x1="202.1" y1="381.82" x2="205.3" y2="381.82" stroke="#000" stroke-width="0.6"/>
<circle cx="202.85" cy="382.03" r="1.05" fill="#000"/>
<circle cx="202.69" cy="393.78" r="1.05" fill="#000"/>
<line x1="236.2" y1="403.1" x2="236.2" y2="405.6" stroke="#231f20" stroke-width="0.8"/>
<text x="236.2" y="416.3" font-size="8.48" text-anchor="middle" fill="#333" stroke="#333" stroke-width="0.2" textLength="8.9" lengthAdjust="spacingAndGlyphs">50</text>
<rect x="213.3" y="392" width="6.8" height="11.1" fill="url(#p0)" stroke="#000" stroke-width="0.5"/>
<line x1="216.7" y1="392" x2="216.7" y2="389.26" stroke="#000" stroke-width="0.6"/>
<line x1="215.1" y1="389.26" x2="218.3" y2="389.26" stroke="#000" stroke-width="0.6"/>
<circle cx="215.77" cy="393.01" r="1.05" fill="#000"/>
<circle cx="215.51" cy="397.97" r="1.05" fill="#000"/>
<circle cx="217.05" cy="387.56" r="1.05" fill="#000"/>
<rect x="221.5" y="379.49" width="6.4" height="23.61" fill="#e6192e"/>
<line x1="224.5" y1="379.49" x2="224.5" y2="375.07" stroke="#000" stroke-width="0.6"/>
<line x1="222.9" y1="375.07" x2="226.1" y2="375.07" stroke="#000" stroke-width="0.6"/>
<circle cx="224.74" cy="389.76" r="1.05" fill="#000"/>
<circle cx="225.33" cy="381.74" r="1.05" fill="#000"/>
<rect x="228.9" y="392" width="6.8" height="11.1" fill="url(#p2)" stroke="#000" stroke-width="0.5"/>
<line x1="232.3" y1="392" x2="232.3" y2="388.81" stroke="#000" stroke-width="0.6"/>
<line x1="230.7" y1="388.81" x2="233.9" y2="388.81" stroke="#000" stroke-width="0.6"/>
<circle cx="232.97" cy="384.63" r="1.05" fill="#000"/>
<circle cx="232" cy="387.27" r="1.05" fill="#000"/>
<rect x="236.7" y="388.02" width="6.8" height="15.08" fill="url(#p3)" stroke="#000" stroke-width="0.5"/>
<line x1="240.1" y1="388.02" x2="240.1" y2="385.65" stroke="#000" stroke-width="0.6"/>
<line x1="238.5" y1="385.65" x2="241.7" y2="385.65" stroke="#000" stroke-width="0.6"/>
<circle cx="238.89" cy="394.07" r="1.05" fill="#000"/>
<circle cx="240.91" cy="379.9" r="1.05" fill="#000"/>
<circle cx="240.95" cy="384.01" r="1.05" fill="#000"/>
<rect x="244.5" y="390.01" width="6.8" height="13.09" fill="url(#p4)" stroke="#000" stroke-width="0.5"/>
<line x1="247.9" y1="390.01" x2="247.9" y2="387.01" stroke="#000" stroke-width="0.6"/>
<line x1="246.3" y1="387.01" x2="249.5" y2="387.01" stroke="#000" stroke-width="0.6"/>
<circle cx="246.94" cy="388.99" r="1.05" fill="#000"/>
<circle cx="248.28" cy="383.49" r="1.05" fill="#000"/>
<circle cx="247.47" cy="392.18" r="1.05" fill="#000"/>
<rect x="252.3" y="388.02" width="6.8" height="15.08" fill="url(#p5)" stroke="#000" stroke-width="0.5"/>
<line x1="255.7" y1="388.02" x2="255.7" y2="385.62" stroke="#000" stroke-width="0.6"/>
<line x1="254.1" y1="385.62" x2="257.3" y2="385.62" stroke="#000" stroke-width="0.6"/>
<circle cx="255.13" cy="391.29" r="1.05" fill="#000"/>
<circle cx="255.36" cy="382.44" r="1.05" fill="#000"/>
<circle cx="256.91" cy="390.05" r="1.05" fill="#000"/>
<line x1="288.2" y1="403.1" x2="288.2" y2="405.6" stroke="#231f20" stroke-width="0.8"/>
<text x="288.2" y="416.3" font-size="8.48" text-anchor="middle" fill="#333" stroke="#333" stroke-width="0.2" textLength="13.35" lengthAdjust="spacingAndGlyphs">100</text>
<rect x="265.3" y="394.28" width="6.8" height="8.82" fill="url(#p0)" stroke="#000" stroke-width="0.5"/>
<line x1="268.7" y1="394.28" x2="268.7" y2="392" stroke="#000" stroke-width="0.6"/>
<line x1="267.1" y1="392" x2="270.3" y2="392" stroke="#000" stroke-width="0.6"/>
<circle cx="267.48" cy="391.25" r="1.05" fill="#000"/>
<circle cx="268.53" cy="394.04" r="1.05" fill="#000"/>
<circle cx="268.3" cy="389.14" r="1.05" fill="#000"/>
<rect x="273.5" y="378.63" width="6.4" height="24.47" fill="#e6192e"/>
<line x1="276.5" y1="378.63" x2="276.5" y2="374.09" stroke="#000" stroke-width="0.6"/>
<line x1="274.9" y1="374.09" x2="278.1" y2="374.09" stroke="#000" stroke-width="0.6"/>
<circle cx="277.35" cy="371.27" r="1.05" fill="#000"/>
<circle cx="275.95" cy="375.14" r="1.05" fill="#000"/>
<circle cx="276.56" cy="378.98" r="1.05" fill="#000"/>
<rect x="280.9" y="392" width="6.8" height="11.1" fill="url(#p2)" stroke="#000" stroke-width="0.5"/>
<line x1="284.3" y1="392" x2="284.3" y2="390.02" stroke="#000" stroke-width="0.6"/>
<line x1="282.7" y1="390.02" x2="285.9" y2="390.02" stroke="#000" stroke-width="0.6"/>
<circle cx="284.28" cy="398.35" r="1.05" fill="#000"/>
<circle cx="285.07" cy="390.72" r="1.05" fill="#000"/>
<rect x="288.7" y="392" width="6.8" height="11.1" fill="url(#p3)" stroke="#000" stroke-width="0.5"/>
<line x1="292.1" y1="392" x2="292.1" y2="390.25" stroke="#000" stroke-width="0.6"/>
<line x1="290.5" y1="390.25" x2="293.7" y2="390.25" stroke="#000" stroke-width="0.6"/>
<circle cx="293.29" cy="389.13" r="1.05" fill="#000"/>
<circle cx="292.3" cy="390.34" r="1.05" fill="#000"/>
<circle cx="292.92" cy="395.93" r="1.05" fill="#000"/>
<circle cx="291.4" cy="383.71" r="1.05" fill="#000"/>
<rect x="296.5" y="390.87" width="6.8" height="12.23" fill="url(#p4)" stroke="#000" stroke-width="0.5"/>
<line x1="299.9" y1="390.87" x2="299.9" y2="389.02" stroke="#000" stroke-width="0.6"/>
<line x1="298.3" y1="389.02" x2="301.5" y2="389.02" stroke="#000" stroke-width="0.6"/>
<circle cx="301.18" cy="389.61" r="1.05" fill="#000"/>
<circle cx="298.87" cy="388.42" r="1.05" fill="#000"/>
<rect x="304.3" y="393.43" width="6.8" height="9.67" fill="url(#p5)" stroke="#000" stroke-width="0.5"/>
<line x1="307.7" y1="393.43" x2="307.7" y2="391.52" stroke="#000" stroke-width="0.6"/>
<line x1="306.1" y1="391.52" x2="309.3" y2="391.52" stroke="#000" stroke-width="0.6"/>
<circle cx="307.43" cy="393.43" r="1.05" fill="#000"/>
<circle cx="306.62" cy="386.38" r="1.05" fill="#000"/>
<path d="M216.7 377.78L216.7 356.5L224.5 356.5L224.5 364.69" stroke="#000" stroke-width="0.7" fill="none"/>
<text x="220.6" y="354" font-size="6.89" text-anchor="middle" fill="#333" stroke="#333" stroke-width="0.2" textLength="2.53" lengthAdjust="spacingAndGlyphs">*</text>
<path d="M268.7 380.06L268.7 356.5L276.5 356.5L276.5 363.84" stroke="#000" stroke-width="0.7" fill="none"/>
<text x="272.6" y="354" font-size="6.89" text-anchor="middle" fill="#333" stroke="#333" stroke-width="0.2" textLength="2.53" lengthAdjust="spacingAndGlyphs">*</text>
<line x1="111" y1="417.5" x2="312" y2="417.5" stroke="#231f20" stroke-width="0.9"/>
<text x="211" y="427.2" font-size="8.37" text-anchor="middle" fill="#333" stroke="#333" stroke-width="0.2" textLength="42.3" lengthAdjust="spacingAndGlyphs">CS585 (nM)</text>
<line x1="54.5" y1="446.4" x2="54.5" y2="507" stroke="#231f20" stroke-width="1"/>
<line x1="54" y1="506.5" x2="313.5" y2="506.5" stroke="#231f20" stroke-width="1"/>
<line x1="51.7" y1="506.2" x2="54.5" y2="506.2" stroke="#231f20" stroke-width="0.8"/>
<text x="48.9" y="508.6" font-size="7.31" text-anchor="end" fill="#333" stroke="#333" stroke-width="0.2" textLength="4.49" lengthAdjust="spacingAndGlyphs">0</text>
<line x1="51.7" y1="492" x2="54.5" y2="492" stroke="#231f20" stroke-width="0.8"/>
<text x="48.9" y="494.4" font-size="7.31" text-anchor="end" fill="#333" stroke="#333" stroke-width="0.2" textLength="8.98" lengthAdjust="spacingAndGlyphs">50</text>
<line x1="51.7" y1="477.8" x2="54.5" y2="477.8" stroke="#231f20" stroke-width="0.8"/>
<text x="48.9" y="480.2" font-size="7.31" text-anchor="end" fill="#333" stroke="#333" stroke-width="0.2" textLength="13.47" lengthAdjust="spacingAndGlyphs">100</text>
<line x1="51.7" y1="463.6" x2="54.5" y2="463.6" stroke="#231f20" stroke-width="0.8"/>
<text x="48.9" y="466" font-size="7.31" text-anchor="end" fill="#333" stroke="#333" stroke-width="0.2" textLength="13.47" lengthAdjust="spacingAndGlyphs">150</text>
<line x1="51.7" y1="449.4" x2="54.5" y2="449.4" stroke="#231f20" stroke-width="0.8"/>
<text x="48.9" y="451.8" font-size="7.31" text-anchor="end" fill="#333" stroke="#333" stroke-width="0.2" textLength="13.47" lengthAdjust="spacingAndGlyphs">200</text>
<text transform="translate(17.2 475) rotate(-90)" font-size="7.63" text-anchor="middle" fill="#333" stroke="#333" stroke-width="0.2" textLength="76" lengthAdjust="spacingAndGlyphs">Dense granule secretion</text>
<text transform="translate(28.4 475) rotate(-90)" font-size="7.63" text-anchor="middle" fill="#333" stroke="#333" stroke-width="0.2" textLength="61" lengthAdjust="spacingAndGlyphs">(% of vehicle MFI)</text>
<line x1="80.3" y1="506.2" x2="80.3" y2="508.7" stroke="#231f20" stroke-width="0.8"/>
<text x="80.3" y="519.4" font-size="8.48" text-anchor="middle" fill="#333" stroke="#333" stroke-width="0.2" textLength="26.24" lengthAdjust="spacingAndGlyphs">Vehicle</text>
<rect x="57.4" y="477.8" width="6.8" height="28.4" fill="url(#p0)" stroke="#000" stroke-width="0.5"/>
<line x1="60.8" y1="477.8" x2="60.8" y2="472.37" stroke="#000" stroke-width="0.6"/>
<line x1="59.2" y1="472.37" x2="62.4" y2="472.37" stroke="#000" stroke-width="0.6"/>
<circle cx="60.29" cy="480.38" r="1.05" fill="#000"/>
<circle cx="60.92" cy="478.63" r="1.05" fill="#000"/>
<rect x="65.6" y="478.37" width="6.4" height="27.83" fill="#e6192e"/>
<line x1="68.6" y1="478.37" x2="68.6" y2="474.64" stroke="#000" stroke-width="0.6"/>
<line x1="67" y1="474.64" x2="70.2" y2="474.64" stroke="#000" stroke-width="0.6"/>
<circle cx="67.63" cy="463.31" r="1.05" fill="#000"/>
<circle cx="69.09" cy="474.06" r="1.05" fill="#000"/>
<circle cx="67.39" cy="473.71" r="1.05" fill="#000"/>
<rect x="73" y="477.8" width="6.8" height="28.4" fill="url(#p2)" stroke="#000" stroke-width="0.5"/>
<line x1="76.4" y1="477.8" x2="76.4" y2="473.07" stroke="#000" stroke-width="0.6"/>
<line x1="74.8" y1="473.07" x2="78" y2="473.07" stroke="#000" stroke-width="0.6"/>
<circle cx="76.27" cy="464.88" r="1.05" fill="#000"/>
<circle cx="75.94" cy="474.7" r="1.05" fill="#000"/>
<circle cx="76.89" cy="477.53" r="1.05" fill="#000"/>
<rect x="80.8" y="477.8" width="6.8" height="28.4" fill="url(#p3)" stroke="#000" stroke-width="0.5"/>
<line x1="84.2" y1="477.8" x2="84.2" y2="473.81" stroke="#000" stroke-width="0.6"/>
<line x1="82.6" y1="473.81" x2="85.8" y2="473.81" stroke="#000" stroke-width="0.6"/>
<circle cx="84.1" cy="488.06" r="1.05" fill="#000"/>
<circle cx="83.52" cy="464.35" r="1.05" fill="#000"/>
<circle cx="83.68" cy="486.02" r="1.05" fill="#000"/>
<rect x="88.6" y="477.8" width="6.8" height="28.4" fill="url(#p4)" stroke="#000" stroke-width="0.5"/>
<line x1="92" y1="477.8" x2="92" y2="472.79" stroke="#000" stroke-width="0.6"/>
<line x1="90.4" y1="472.79" x2="93.6" y2="472.79" stroke="#000" stroke-width="0.6"/>
<circle cx="93.23" cy="469.4" r="1.05" fill="#000"/>
<circle cx="92.27" cy="469.41" r="1.05" fill="#000"/>
<circle cx="91.31" cy="481.11" r="1.05" fill="#000"/>
<rect x="96.4" y="477.8" width="6.8" height="28.4" fill="url(#p5)" stroke="#000" stroke-width="0.5"/>
<line x1="99.8" y1="477.8" x2="99.8" y2="472.22" stroke="#000" stroke-width="0.6"/>
<line x1="98.2" y1="472.22" x2="101.4" y2="472.22" stroke="#000" stroke-width="0.6"/>
<circle cx="100.39" cy="461.54" r="1.05" fill="#000"/>
<circle cx="101" cy="488.82" r="1.05" fill="#000"/>
<circle cx="99.5" cy="488.82" r="1.05" fill="#000"/>
<line x1="132.3" y1="506.2" x2="132.3" y2="508.7" stroke="#231f20" stroke-width="0.8"/>
<text x="132.3" y="519.4" font-size="8.48" text-anchor="middle" fill="#333" stroke="#333" stroke-width="0.2" textLength="15.57" lengthAdjust="spacingAndGlyphs">12.5</text>
<rect x="109.4" y="489.16" width="6.8" height="17.04" fill="url(#p0)" stroke="#000" stroke-width="0.5"/>
<line x1="112.8" y1="489.16" x2="112.8" y2="484.88" stroke="#000" stroke-width="0.6"/>
<line x1="111.2" y1="484.88" x2="114.4" y2="484.88" stroke="#000" stroke-width="0.6"/>
<circle cx="112.63" cy="482.84" r="1.05" fill="#000"/>
<circle cx="113.16" cy="494.12" r="1.05" fill="#000"/>
<circle cx="112.04" cy="496" r="1.05" fill="#000"/>
<rect x="117.6" y="482.91" width="6.4" height="23.29" fill="#e6192e"/>
<line x1="120.6" y1="482.91" x2="120.6" y2="479.24" stroke="#000" stroke-width="0.6"/>
<line x1="119" y1="479.24" x2="122.2" y2="479.24" stroke="#000" stroke-width="0.6"/>
<circle cx="121.52" cy="494.48" r="1.05" fill="#000"/>
<circle cx="119.88" cy="483.18" r="1.05" fill="#000"/>
<rect x="125" y="489.16" width="6.8" height="17.04" fill="url(#p2)" stroke="#000" stroke-width="0.5"/>
<line x1="128.4" y1="489.16" x2="128.4" y2="484.89" stroke="#000" stroke-width="0.6"/>
<line x1="126.8" y1="484.89" x2="130" y2="484.89" stroke="#000" stroke-width="0.6"/>
<circle cx="127.47" cy="488.51" r="1.05" fill="#000"/>
<circle cx="128.15" cy="485.56" r="1.05" fill="#000"/>
<circle cx="129.46" cy="482.68" r="1.05" fill="#000"/>
<rect x="132.8" y="483.48" width="6.8" height="22.72" fill="url(#p3)" stroke="#000" stroke-width="0.5"/>
<line x1="136.2" y1="483.48" x2="136.2" y2="479.78" stroke="#000" stroke-width="0.6"/>
<line x1="134.6" y1="479.78" x2="137.8" y2="479.78" stroke="#000" stroke-width="0.6"/>
<circle cx="136.64" cy="473.02" r="1.05" fill="#000"/>
<circle cx="137.18" cy="478.08" r="1.05" fill="#000"/>
<circle cx="136.42" cy="478.36" r="1.05" fill="#000"/>
<circle cx="135.37" cy="489.15" r="1.05" fill="#000"/>
<rect x="140.6" y="490.01" width="6.8" height="16.19" fill="url(#p4)" stroke="#000" stroke-width="0.5"/>
<line x1="144" y1="490.01" x2="144" y2="487.79" stroke="#000" stroke-width="0.6"/>
<line x1="142.4" y1="487.79" x2="145.6" y2="487.79" stroke="#000" stroke-width="0.6"/>
<circle cx="144.33" cy="492.38" r="1.05" fill="#000"/>
<circle cx="143.79" cy="496.73" r="1.05" fill="#000"/>
<circle cx="144.55" cy="482.87" r="1.05" fill="#000"/>
<circle cx="143.35" cy="485.97" r="1.05" fill="#000"/>
<rect x="148.4" y="484.9" width="6.8" height="21.3" fill="url(#p5)" stroke="#000" stroke-width="0.5"/>
<line x1="151.8" y1="484.9" x2="151.8" y2="481.38" stroke="#000" stroke-width="0.6"/>
<line x1="150.2" y1="481.38" x2="153.4" y2="481.38" stroke="#000" stroke-width="0.6"/>
<circle cx="152.73" cy="495.42" r="1.05" fill="#000"/>
<circle cx="152.22" cy="483.03" r="1.05" fill="#000"/>
<circle cx="152.83" cy="474.21" r="1.05" fill="#000"/>
<circle cx="150.53" cy="487.75" r="1.05" fill="#000"/>
<line x1="184.2" y1="506.2" x2="184.2" y2="508.7" stroke="#231f20" stroke-width="0.8"/>
<text x="184.2" y="519.4" font-size="8.48" text-anchor="middle" fill="#333" stroke="#333" stroke-width="0.2" textLength="8.9" lengthAdjust="spacingAndGlyphs">25</text>
<rect x="161.3" y="493.42" width="6.8" height="12.78" fill="url(#p0)" stroke="#000" stroke-width="0.5"/>
<line x1="164.7" y1="493.42" x2="164.7" y2="490" stroke="#000" stroke-width="0.6"/>
<line x1="163.1" y1="490" x2="166.3" y2="490" stroke="#000" stroke-width="0.6"/>
<circle cx="164.81" cy="499.94" r="1.05" fill="#000"/>
<circle cx="165.43" cy="497.83" r="1.05" fill="#000"/>
<rect x="169.5" y="484.62" width="6.4" height="21.58" fill="#e6192e"/>
<line x1="172.5" y1="484.62" x2="172.5" y2="479.89" stroke="#000" stroke-width="0.6"/>
<line x1="170.9" y1="479.89" x2="174.1" y2="479.89" stroke="#000" stroke-width="0.6"/>
<circle cx="172.69" cy="493.21" r="1.05" fill="#000"/>
<circle cx="173.06" cy="482.17" r="1.05" fill="#000"/>
<circle cx="172.86" cy="482.89" r="1.05" fill="#000"/>
<rect x="176.9" y="492" width="6.8" height="14.2" fill="url(#p2)" stroke="#000" stroke-width="0.5"/>
<line x1="180.3" y1="492" x2="180.3" y2="488.41" stroke="#000" stroke-width="0.6"/>
<line x1="178.7" y1="488.41" x2="181.9" y2="488.41" stroke="#000" stroke-width="0.6"/>
<circle cx="181.46" cy="492.23" r="1.05" fill="#000"/>
<circle cx="180.78" cy="495.93" r="1.05" fill="#000"/>
<circle cx="180.98" cy="492.56" r="1.05" fill="#000"/>
<rect x="184.7" y="486.6" width="6.8" height="19.6" fill="url(#p3)" stroke="#000" stroke-width="0.5"/>
<line x1="188.1" y1="486.6" x2="188.1" y2="483.97" stroke="#000" stroke-width="0.6"/>
<line x1="186.5" y1="483.97" x2="189.7" y2="483.97" stroke="#000" stroke-width="0.6"/>
<circle cx="187.46" cy="481.98" r="1.05" fill="#000"/>
<circle cx="186.96" cy="487.94" r="1.05" fill="#000"/>
<circle cx="189.18" cy="495.09" r="1.05" fill="#000"/>
<rect x="192.5" y="490.01" width="6.8" height="16.19" fill="url(#p4)" stroke="#000" stroke-width="0.5"/>
<line x1="195.9" y1="490.01" x2="195.9" y2="486.64" stroke="#000" stroke-width="0.6"/>
<line x1="194.3" y1="486.64" x2="197.5" y2="486.64" stroke="#000" stroke-width="0.6"/>
<circle cx="194.88" cy="486.97" r="1.05" fill="#000"/>
<circle cx="195.64" cy="492.57" r="1.05" fill="#000"/>
<circle cx="197.13" cy="479.41" r="1.05" fill="#000"/>
<rect x="200.3" y="490.01" width="6.8" height="16.19" fill="url(#p5)" stroke="#000" stroke-width="0.5"/>
<line x1="203.7" y1="490.01" x2="203.7" y2="485.81" stroke="#000" stroke-width="0.6"/>
<line x1="202.1" y1="485.81" x2="205.3" y2="485.81" stroke="#000" stroke-width="0.6"/>
<circle cx="202.83" cy="489.36" r="1.05" fill="#000"/>
<circle cx="202.58" cy="479.9" r="1.05" fill="#000"/>
<circle cx="202.9" cy="482.55" r="1.05" fill="#000"/>
<circle cx="204.27" cy="485.71" r="1.05" fill="#000"/>
<line x1="236.2" y1="506.2" x2="236.2" y2="508.7" stroke="#231f20" stroke-width="0.8"/>
<text x="236.2" y="519.4" font-size="8.48" text-anchor="middle" fill="#333" stroke="#333" stroke-width="0.2" textLength="8.9" lengthAdjust="spacingAndGlyphs">50</text>
<rect x="213.3" y="496.26" width="6.8" height="9.94" fill="url(#p0)" stroke="#000" stroke-width="0.5"/>
<line x1="216.7" y1="496.26" x2="216.7" y2="493.22" stroke="#000" stroke-width="0.6"/>
<line x1="215.1" y1="493.22" x2="218.3" y2="493.22" stroke="#000" stroke-width="0.6"/>
<circle cx="217.06" cy="496.99" r="1.05" fill="#000"/>
<circle cx="217.52" cy="490.18" r="1.05" fill="#000"/>
<circle cx="216.17" cy="495.31" r="1.05" fill="#000"/>
<rect x="221.5" y="484.62" width="6.4" height="21.58" fill="#e6192e"/>
<line x1="224.5" y1="484.62" x2="224.5" y2="480.78" stroke="#000" stroke-width="0.6"/>
<line x1="222.9" y1="480.78" x2="226.1" y2="480.78" stroke="#000" stroke-width="0.6"/>
<circle cx="224.42" cy="476.17" r="1.05" fill="#000"/>
<circle cx="223.8" cy="476.08" r="1.05" fill="#000"/>
<circle cx="224.99" cy="478.07" r="1.05" fill="#000"/>
<rect x="228.9" y="498.53" width="6.8" height="7.67" fill="url(#p2)" stroke="#000" stroke-width="0.5"/>
<line x1="232.3" y1="498.53" x2="232.3" y2="495.16" stroke="#000" stroke-width="0.6"/>
<line x1="230.7" y1="495.16" x2="233.9" y2="495.16" stroke="#000" stroke-width="0.6"/>
<circle cx="233.09" cy="497.34" r="1.05" fill="#000"/>
<circle cx="231.93" cy="493.35" r="1.05" fill="#000"/>
<circle cx="231.83" cy="495.17" r="1.05" fill="#000"/>
<rect x="236.7" y="494.27" width="6.8" height="11.93" fill="url(#p3)" stroke="#000" stroke-width="0.5"/>
<line x1="240.1" y1="494.27" x2="240.1" y2="491.74" stroke="#000" stroke-width="0.6"/>
<line x1="238.5" y1="491.74" x2="241.7" y2="491.74" stroke="#000" stroke-width="0.6"/>
<circle cx="239.74" cy="490.24" r="1.05" fill="#000"/>
<circle cx="241.02" cy="485.81" r="1.05" fill="#000"/>
<rect x="244.5" y="494.27" width="6.8" height="11.93" fill="url(#p4)" stroke="#000" stroke-width="0.5"/>
<line x1="247.9" y1="494.27" x2="247.9" y2="492.71" stroke="#000" stroke-width="0.6"/>
<line x1="246.3" y1="492.71" x2="249.5" y2="492.71" stroke="#000" stroke-width="0.6"/>
<circle cx="246.97" cy="488.19" r="1.05" fill="#000"/>
<circle cx="248.25" cy="487.41" r="1.05" fill="#000"/>
<circle cx="246.63" cy="500.81" r="1.05" fill="#000"/>
<rect x="252.3" y="494.27" width="6.8" height="11.93" fill="url(#p5)" stroke="#000" stroke-width="0.5"/>
<line x1="255.7" y1="494.27" x2="255.7" y2="490.68" stroke="#000" stroke-width="0.6"/>
<line x1="254.1" y1="490.68" x2="257.3" y2="490.68" stroke="#000" stroke-width="0.6"/>
<circle cx="254.66" cy="496.96" r="1.05" fill="#000"/>
<circle cx="255.01" cy="498.72" r="1.05" fill="#000"/>
<circle cx="255.3" cy="488.32" r="1.05" fill="#000"/>
<line x1="288.2" y1="506.2" x2="288.2" y2="508.7" stroke="#231f20" stroke-width="0.8"/>
<text x="288.2" y="519.4" font-size="8.48" text-anchor="middle" fill="#333" stroke="#333" stroke-width="0.2" textLength="13.35" lengthAdjust="spacingAndGlyphs">100</text>
<rect x="265.3" y="498.53" width="6.8" height="7.67" fill="url(#p0)" stroke="#000" stroke-width="0.5"/>
<line x1="268.7" y1="498.53" x2="268.7" y2="497.05" stroke="#000" stroke-width="0.6"/>
<line x1="267.1" y1="497.05" x2="270.3" y2="497.05" stroke="#000" stroke-width="0.6"/>
<circle cx="267.84" cy="493.44" r="1.05" fill="#000"/>
<circle cx="268.98" cy="492.19" r="1.05" fill="#000"/>
<circle cx="269.14" cy="493.57" r="1.05" fill="#000"/>
<circle cx="269.45" cy="492.16" r="1.05" fill="#000"/>
<rect x="273.5" y="486.6" width="6.4" height="19.6" fill="#e6192e"/>
<line x1="276.5" y1="486.6" x2="276.5" y2="482.35" stroke="#000" stroke-width="0.6"/>
<line x1="274.9" y1="482.35" x2="278.1" y2="482.35" stroke="#000" stroke-width="0.6"/>
<circle cx="275.75" cy="485.31" r="1.05" fill="#000"/>
<circle cx="277.38" cy="495.01" r="1.05" fill="#000"/>
<circle cx="275.5" cy="481.19" r="1.05" fill="#000"/>
<rect x="280.9" y="498.53" width="6.8" height="7.67" fill="url(#p2)" stroke="#000" stroke-width="0.5"/>
<line x1="284.3" y1="498.53" x2="284.3" y2="497.13" stroke="#000" stroke-width="0.6"/>
<line x1="282.7" y1="497.13" x2="285.9" y2="497.13" stroke="#000" stroke-width="0.6"/>
<circle cx="283.36" cy="500.46" r="1.05" fill="#000"/>
<circle cx="283.15" cy="497.2" r="1.05" fill="#000"/>
<circle cx="283.38" cy="497.53" r="1.05" fill="#000"/>
<circle cx="284.3" cy="497.22" r="1.05" fill="#000"/>
<rect x="288.7" y="498.53" width="6.8" height="7.67" fill="url(#p3)" stroke="#000" stroke-width="0.5"/>
<line x1="292.1" y1="498.53" x2="292.1" y2="496.17" stroke="#000" stroke-width="0.6"/>
<line x1="290.5" y1="496.17" x2="293.7" y2="496.17" stroke="#000" stroke-width="0.6"/>
<circle cx="291.63" cy="501.39" r="1.05" fill="#000"/>
<circle cx="292.09" cy="494.65" r="1.05" fill="#000"/>
<rect x="296.5" y="497.68" width="6.8" height="8.52" fill="url(#p4)" stroke="#000" stroke-width="0.5"/>
<line x1="299.9" y1="497.68" x2="299.9" y2="495.87" stroke="#000" stroke-width="0.6"/>
<line x1="298.3" y1="495.87" x2="301.5" y2="495.87" stroke="#000" stroke-width="0.6"/>
<circle cx="299.69" cy="497.93" r="1.05" fill="#000"/>
<circle cx="298.8" cy="490.11" r="1.05" fill="#000"/>
<circle cx="300.25" cy="494.43" r="1.05" fill="#000"/>
<circle cx="300.19" cy="502.55" r="1.05" fill="#000"/>
<rect x="304.3" y="499.38" width="6.8" height="6.82" fill="url(#p5)" stroke="#000" stroke-width="0.5"/>
<line x1="307.7" y1="499.38" x2="307.7" y2="496.7" stroke="#000" stroke-width="0.6"/>
<line x1="306.1" y1="496.7" x2="309.3" y2="496.7" stroke="#000" stroke-width="0.6"/>
<circle cx="306.64" cy="494.32" r="1.05" fill="#000"/>
<circle cx="308.37" cy="498.15" r="1.05" fill="#000"/>
<circle cx="306.95" cy="502.16" r="1.05" fill="#000"/>
<path d="M112.8 485.18L112.8 459.5L120.6 459.5L120.6 465.87" stroke="#000" stroke-width="0.7" fill="none"/>
<text x="116.7" y="457" font-size="6.89" text-anchor="middle" fill="#333" stroke="#333" stroke-width="0.2" textLength="2.53" lengthAdjust="spacingAndGlyphs">*</text>
<path d="M216.7 492.28L216.7 459.5L224.5 459.5L224.5 467.58" stroke="#000" stroke-width="0.7" fill="none"/>
<text x="220.6" y="457" font-size="6.89" text-anchor="middle" fill="#333" stroke="#333" stroke-width="0.2" textLength="2.53" lengthAdjust="spacingAndGlyphs">*</text>
<path d="M268.7 494.56L268.7 459.5L276.5 459.5L276.5 469.56" stroke="#000" stroke-width="0.7" fill="none"/>
<text x="272.6" y="457" font-size="6.89" text-anchor="middle" fill="#333" stroke="#333" stroke-width="0.2" textLength="2.53" lengthAdjust="spacingAndGlyphs">*</text>
<line x1="111" y1="520.5" x2="312" y2="520.5" stroke="#231f20" stroke-width="0.9"/>
<text x="211" y="530.2" font-size="8.37" text-anchor="middle" fill="#333" stroke="#333" stroke-width="0.2" textLength="42.3" lengthAdjust="spacingAndGlyphs">CS585 (nM)</text>
<text x="328.6" y="211" font-size="11.6" font-weight="bold" fill="#000">D</text>
<line x1="364.5" y1="211.9" x2="364.5" y2="316.6" stroke="#231f20" stroke-width="1"/>
<line x1="364" y1="316.5" x2="467" y2="316.5" stroke="#231f20" stroke-width="1"/>
<line x1="361.5" y1="316.2" x2="364.5" y2="316.2" stroke="#231f20" stroke-width="0.8"/>
<text x="359.7" y="318.8" font-size="8.06" text-anchor="end" fill="#333" stroke="#333" stroke-width="0.2" textLength="4.23" lengthAdjust="spacingAndGlyphs">0</text>
<line x1="361.5" y1="290.2" x2="364.5" y2="290.2" stroke="#231f20" stroke-width="0.8"/>
<text x="359.7" y="292.8" font-size="8.06" text-anchor="end" fill="#333" stroke="#333" stroke-width="0.2" textLength="4.23" lengthAdjust="spacingAndGlyphs">1</text>
<line x1="361.5" y1="264.2" x2="364.5" y2="264.2" stroke="#231f20" stroke-width="0.8"/>
<text x="359.7" y="266.8" font-size="8.06" text-anchor="end" fill="#333" stroke="#333" stroke-width="0.2" textLength="4.23" lengthAdjust="spacingAndGlyphs">2</text>
<line x1="361.5" y1="238.2" x2="364.5" y2="238.2" stroke="#231f20" stroke-width="0.8"/>
<text x="359.7" y="240.8" font-size="8.06" text-anchor="end" fill="#333" stroke="#333" stroke-width="0.2" textLength="4.23" lengthAdjust="spacingAndGlyphs">3</text>
<line x1="361.5" y1="212.2" x2="364.5" y2="212.2" stroke="#231f20" stroke-width="0.8"/>
<text x="359.7" y="214.8" font-size="8.06" text-anchor="end" fill="#333" stroke="#333" stroke-width="0.2" textLength="4.23" lengthAdjust="spacingAndGlyphs">4</text>
<text transform="translate(336.4 262) rotate(-90)" font-size="8.48" text-anchor="middle" fill="#333" stroke="#333" stroke-width="0.2" textLength="74.5" lengthAdjust="spacingAndGlyphs">VASP phosphorylation</text>
<text transform="translate(347 262.5) rotate(-90)" font-size="8.48" text-anchor="middle" fill="#333" stroke="#333" stroke-width="0.2" textLength="43" lengthAdjust="spacingAndGlyphs">(relative MFI)</text>
<line x1="369.4" y1="316.2" x2="369.4" y2="318.8" stroke="#231f20" stroke-width="0.8"/>
<text transform="translate(371.9 320.6) rotate(-90)" font-size="7.3" text-anchor="end" fill="#333" stroke="#333" stroke-width="0.2" textLength="25.86" lengthAdjust="spacingAndGlyphs">Vehicle</text>
<line x1="377.86" y1="316.2" x2="377.86" y2="318.8" stroke="#231f20" stroke-width="0.8"/>
<text transform="translate(380.36 320.6) rotate(-90)" font-size="7.3" text-anchor="end" fill="#333" stroke="#333" stroke-width="0.2" textLength="16.77" lengthAdjust="spacingAndGlyphs">0.01</text>
<line x1="386.32" y1="316.2" x2="386.32" y2="318.8" stroke="#231f20" stroke-width="0.8"/>
<text transform="translate(388.82 320.6) rotate(-90)" font-size="7.3" text-anchor="end" fill="#333" stroke="#333" stroke-width="0.2" textLength="21.56" lengthAdjust="spacingAndGlyphs">0.025</text>
<line x1="394.78" y1="316.2" x2="394.78" y2="318.8" stroke="#231f20" stroke-width="0.8"/>
<text transform="translate(397.28 320.6) rotate(-90)" font-size="7.3" text-anchor="end" fill="#333" stroke="#333" stroke-width="0.2" textLength="16.77" lengthAdjust="spacingAndGlyphs">0.05</text>
<line x1="403.24" y1="316.2" x2="403.24" y2="318.8" stroke="#231f20" stroke-width="0.8"/>
<text transform="translate(405.74 320.6) rotate(-90)" font-size="7.3" text-anchor="end" fill="#333" stroke="#333" stroke-width="0.2" textLength="11.97" lengthAdjust="spacingAndGlyphs">0.1</text>
<line x1="411.7" y1="316.2" x2="411.7" y2="318.8" stroke="#231f20" stroke-width="0.8"/>
<text transform="translate(414.2 320.6) rotate(-90)" font-size="7.3" text-anchor="end" fill="#333" stroke="#333" stroke-width="0.2" textLength="16.77" lengthAdjust="spacingAndGlyphs">0.25</text>
<line x1="420.16" y1="316.2" x2="420.16" y2="318.8" stroke="#231f20" stroke-width="0.8"/>
<text transform="translate(422.66 320.6) rotate(-90)" font-size="7.3" text-anchor="end" fill="#333" stroke="#333" stroke-width="0.2" textLength="11.97" lengthAdjust="spacingAndGlyphs">0.5</text>
<line x1="428.62" y1="316.2" x2="428.62" y2="318.8" stroke="#231f20" stroke-width="0.8"/>
<text transform="translate(431.12 320.6) rotate(-90)" font-size="7.3" text-anchor="end" fill="#333" stroke="#333" stroke-width="0.2" textLength="4.79" lengthAdjust="spacingAndGlyphs">1</text>
<line x1="437.08" y1="316.2" x2="437.08" y2="318.8" stroke="#231f20" stroke-width="0.8"/>
<text transform="translate(439.58 320.6) rotate(-90)" font-size="7.3" text-anchor="end" fill="#333" stroke="#333" stroke-width="0.2" textLength="9.58" lengthAdjust="spacingAndGlyphs">10</text>
<line x1="445.54" y1="316.2" x2="445.54" y2="318.8" stroke="#231f20" stroke-width="0.8"/>
<text transform="translate(448.04 320.6) rotate(-90)" font-size="7.3" text-anchor="end" fill="#333" stroke="#333" stroke-width="0.2" textLength="9.58" lengthAdjust="spacingAndGlyphs">25</text>
<line x1="454" y1="316.2" x2="454" y2="318.8" stroke="#231f20" stroke-width="0.8"/>
<text transform="translate(456.5 320.6) rotate(-90)" font-size="7.3" text-anchor="end" fill="#333" stroke="#333" stroke-width="0.2" textLength="9.58" lengthAdjust="spacingAndGlyphs">50</text>
<line x1="462.46" y1="316.2" x2="462.46" y2="318.8" stroke="#231f20" stroke-width="0.8"/>
<text transform="translate(464.96 320.6) rotate(-90)" font-size="7.3" text-anchor="end" fill="#333" stroke="#333" stroke-width="0.2" textLength="14.37" lengthAdjust="spacingAndGlyphs">100</text>
<line x1="368.3" y1="350.5" x2="464.4" y2="350.5" stroke="#231f20" stroke-width="1"/>
<text x="417.4" y="361" font-size="8.06" text-anchor="middle" fill="#333" stroke="#333" stroke-width="0.2" textLength="41.8" lengthAdjust="spacingAndGlyphs">CS585 (nM)</text>
<line x1="369.4" y1="316.2" x2="369.4" y2="313.6" stroke="#2a2a2a" stroke-width="0.7"/>
<line x1="367.2" y1="313.6" x2="371.6" y2="313.6" stroke="#2a2a2a" stroke-width="0.7"/>
<line x1="367.2" y1="316.2" x2="371.6" y2="316.2" stroke="#2a2a2a" stroke-width="0.7"/>
<line x1="377.86" y1="316.2" x2="377.86" y2="313.6" stroke="#2a2a2a" stroke-width="0.7"/>
<line x1="375.66" y1="313.6" x2="380.06" y2="313.6" stroke="#2a2a2a" stroke-width="0.7"/>
<line x1="375.66" y1="316.2" x2="380.06" y2="316.2" stroke="#2a2a2a" stroke-width="0.7"/>
<line x1="386.32" y1="316.2" x2="386.32" y2="313.6" stroke="#2a2a2a" stroke-width="0.7"/>
<line x1="384.12" y1="313.6" x2="388.52" y2="313.6" stroke="#2a2a2a" stroke-width="0.7"/>
<line x1="384.12" y1="316.2" x2="388.52" y2="316.2" stroke="#2a2a2a" stroke-width="0.7"/>
<line x1="394.78" y1="315.42" x2="394.78" y2="312.82" stroke="#2a2a2a" stroke-width="0.7"/>
<line x1="392.58" y1="312.82" x2="396.98" y2="312.82" stroke="#2a2a2a" stroke-width="0.7"/>
<line x1="392.58" y1="315.42" x2="396.98" y2="315.42" stroke="#2a2a2a" stroke-width="0.7"/>
<line x1="403.24" y1="314.9" x2="403.24" y2="312.3" stroke="#2a2a2a" stroke-width="0.7"/>
<line x1="401.04" y1="312.3" x2="405.44" y2="312.3" stroke="#2a2a2a" stroke-width="0.7"/>
<line x1="401.04" y1="314.9" x2="405.44" y2="314.9" stroke="#2a2a2a" stroke-width="0.7"/>
<line x1="411.7" y1="314.38" x2="411.7" y2="310.22" stroke="#2a2a2a" stroke-width="0.7"/>
<line x1="409.5" y1="310.22" x2="413.9" y2="310.22" stroke="#2a2a2a" stroke-width="0.7"/>
<line x1="409.5" y1="314.38" x2="413.9" y2="314.38" stroke="#2a2a2a" stroke-width="0.7"/>
<line x1="420.16" y1="308.92" x2="420.16" y2="303.72" stroke="#2a2a2a" stroke-width="0.7"/>
<line x1="417.96" y1="303.72" x2="422.36" y2="303.72" stroke="#2a2a2a" stroke-width="0.7"/>
<line x1="417.96" y1="308.92" x2="422.36" y2="308.92" stroke="#2a2a2a" stroke-width="0.7"/>
<line x1="428.62" y1="305.02" x2="428.62" y2="298.78" stroke="#2a2a2a" stroke-width="0.7"/>
<line x1="426.42" y1="298.78" x2="430.82" y2="298.78" stroke="#2a2a2a" stroke-width="0.7"/>
<line x1="426.42" y1="305.02" x2="430.82" y2="305.02" stroke="#2a2a2a" stroke-width="0.7"/>
<line x1="437.08" y1="299.3" x2="437.08" y2="286.3" stroke="#2a2a2a" stroke-width="0.7"/>
<line x1="434.88" y1="286.3" x2="439.28" y2="286.3" stroke="#2a2a2a" stroke-width="0.7"/>
<line x1="434.88" y1="299.3" x2="439.28" y2="299.3" stroke="#2a2a2a" stroke-width="0.7"/>
<line x1="445.54" y1="283.7" x2="445.54" y2="268.1" stroke="#2a2a2a" stroke-width="0.7"/>
<line x1="443.34" y1="268.1" x2="447.74" y2="268.1" stroke="#2a2a2a" stroke-width="0.7"/>
<line x1="443.34" y1="283.7" x2="447.74" y2="283.7" stroke="#2a2a2a" stroke-width="0.7"/>
<line x1="454" y1="275.12" x2="454" y2="259.52" stroke="#2a2a2a" stroke-width="0.7"/>
<line x1="451.8" y1="259.52" x2="456.2" y2="259.52" stroke="#2a2a2a" stroke-width="0.7"/>
<line x1="451.8" y1="275.12" x2="456.2" y2="275.12" stroke="#2a2a2a" stroke-width="0.7"/>
<line x1="462.46" y1="265.24" x2="462.46" y2="249.64" stroke="#2a2a2a" stroke-width="0.7"/>
<line x1="460.26" y1="249.64" x2="464.66" y2="249.64" stroke="#2a2a2a" stroke-width="0.7"/>
<line x1="460.26" y1="265.24" x2="464.66" y2="265.24" stroke="#2a2a2a" stroke-width="0.7"/>
<line x1="369.4" y1="315.16" x2="369.4" y2="312.04" stroke="#2f9a55" stroke-width="0.7"/>
<line x1="367.2" y1="312.04" x2="371.6" y2="312.04" stroke="#2f9a55" stroke-width="0.7"/>
<line x1="367.2" y1="315.16" x2="371.6" y2="315.16" stroke="#2f9a55" stroke-width="0.7"/>
<line x1="377.86" y1="315.42" x2="377.86" y2="312.82" stroke="#2f9a55" stroke-width="0.7"/>
<line x1="375.66" y1="312.82" x2="380.06" y2="312.82" stroke="#2f9a55" stroke-width="0.7"/>
<line x1="375.66" y1="315.42" x2="380.06" y2="315.42" stroke="#2f9a55" stroke-width="0.7"/>
<line x1="386.32" y1="315.42" x2="386.32" y2="312.82" stroke="#2f9a55" stroke-width="0.7"/>
<line x1="384.12" y1="312.82" x2="388.52" y2="312.82" stroke="#2f9a55" stroke-width="0.7"/>
<line x1="384.12" y1="315.42" x2="388.52" y2="315.42" stroke="#2f9a55" stroke-width="0.7"/>
<line x1="394.78" y1="314.9" x2="394.78" y2="312.3" stroke="#2f9a55" stroke-width="0.7"/>
<line x1="392.58" y1="312.3" x2="396.98" y2="312.3" stroke="#2f9a55" stroke-width="0.7"/>
<line x1="392.58" y1="314.9" x2="396.98" y2="314.9" stroke="#2f9a55" stroke-width="0.7"/>
<line x1="403.24" y1="314.9" x2="403.24" y2="312.3" stroke="#2f9a55" stroke-width="0.7"/>
<line x1="401.04" y1="312.3" x2="405.44" y2="312.3" stroke="#2f9a55" stroke-width="0.7"/>
<line x1="401.04" y1="314.9" x2="405.44" y2="314.9" stroke="#2f9a55" stroke-width="0.7"/>
<line x1="411.7" y1="314.38" x2="411.7" y2="310.22" stroke="#2f9a55" stroke-width="0.7"/>
<line x1="409.5" y1="310.22" x2="413.9" y2="310.22" stroke="#2f9a55" stroke-width="0.7"/>
<line x1="409.5" y1="314.38" x2="413.9" y2="314.38" stroke="#2f9a55" stroke-width="0.7"/>
<line x1="420.16" y1="309.7" x2="420.16" y2="304.5" stroke="#2f9a55" stroke-width="0.7"/>
<line x1="417.96" y1="304.5" x2="422.36" y2="304.5" stroke="#2f9a55" stroke-width="0.7"/>
<line x1="417.96" y1="309.7" x2="422.36" y2="309.7" stroke="#2f9a55" stroke-width="0.7"/>
<line x1="428.62" y1="305.8" x2="428.62" y2="298" stroke="#2f9a55" stroke-width="0.7"/>
<line x1="426.42" y1="298" x2="430.82" y2="298" stroke="#2f9a55" stroke-width="0.7"/>
<line x1="426.42" y1="305.8" x2="430.82" y2="305.8" stroke="#2f9a55" stroke-width="0.7"/>
<line x1="437.08" y1="299.3" x2="437.08" y2="288.9" stroke="#2f9a55" stroke-width="0.7"/>
<line x1="434.88" y1="288.9" x2="439.28" y2="288.9" stroke="#2f9a55" stroke-width="0.7"/>
<line x1="434.88" y1="299.3" x2="439.28" y2="299.3" stroke="#2f9a55" stroke-width="0.7"/>
<line x1="445.54" y1="277.2" x2="445.54" y2="261.6" stroke="#2f9a55" stroke-width="0.7"/>
<line x1="443.34" y1="261.6" x2="447.74" y2="261.6" stroke="#2f9a55" stroke-width="0.7"/>
<line x1="443.34" y1="277.2" x2="447.74" y2="277.2" stroke="#2f9a55" stroke-width="0.7"/>
<line x1="454" y1="259" x2="454" y2="243.4" stroke="#2f9a55" stroke-width="0.7"/>
<line x1="451.8" y1="243.4" x2="456.2" y2="243.4" stroke="#2f9a55" stroke-width="0.7"/>
<line x1="451.8" y1="259" x2="456.2" y2="259" stroke="#2f9a55" stroke-width="0.7"/>
<line x1="462.46" y1="250.68" x2="462.46" y2="240.28" stroke="#2f9a55" stroke-width="0.7"/>
<line x1="460.26" y1="240.28" x2="464.66" y2="240.28" stroke="#2f9a55" stroke-width="0.7"/>
<line x1="460.26" y1="250.68" x2="464.66" y2="250.68" stroke="#2f9a55" stroke-width="0.7"/>
<line x1="369.4" y1="315.42" x2="369.4" y2="312.82" stroke="#3a5fa8" stroke-width="0.7"/>
<line x1="367.2" y1="312.82" x2="371.6" y2="312.82" stroke="#3a5fa8" stroke-width="0.7"/>
<line x1="367.2" y1="315.42" x2="371.6" y2="315.42" stroke="#3a5fa8" stroke-width="0.7"/>
<line x1="377.86" y1="315.42" x2="377.86" y2="312.82" stroke="#3a5fa8" stroke-width="0.7"/>
<line x1="375.66" y1="312.82" x2="380.06" y2="312.82" stroke="#3a5fa8" stroke-width="0.7"/>
<line x1="375.66" y1="315.42" x2="380.06" y2="315.42" stroke="#3a5fa8" stroke-width="0.7"/>
<line x1="386.32" y1="315.42" x2="386.32" y2="312.82" stroke="#3a5fa8" stroke-width="0.7"/>
<line x1="384.12" y1="312.82" x2="388.52" y2="312.82" stroke="#3a5fa8" stroke-width="0.7"/>
<line x1="384.12" y1="315.42" x2="388.52" y2="315.42" stroke="#3a5fa8" stroke-width="0.7"/>
<line x1="394.78" y1="314.9" x2="394.78" y2="312.3" stroke="#3a5fa8" stroke-width="0.7"/>
<line x1="392.58" y1="312.3" x2="396.98" y2="312.3" stroke="#3a5fa8" stroke-width="0.7"/>
<line x1="392.58" y1="314.9" x2="396.98" y2="314.9" stroke="#3a5fa8" stroke-width="0.7"/>
<line x1="403.24" y1="314.38" x2="403.24" y2="311.78" stroke="#3a5fa8" stroke-width="0.7"/>
<line x1="401.04" y1="311.78" x2="405.44" y2="311.78" stroke="#3a5fa8" stroke-width="0.7"/>
<line x1="401.04" y1="314.38" x2="405.44" y2="314.38" stroke="#3a5fa8" stroke-width="0.7"/>
<line x1="411.7" y1="314.9" x2="411.7" y2="309.7" stroke="#3a5fa8" stroke-width="0.7"/>
<line x1="409.5" y1="309.7" x2="413.9" y2="309.7" stroke="#3a5fa8" stroke-width="0.7"/>
<line x1="409.5" y1="314.9" x2="413.9" y2="314.9" stroke="#3a5fa8" stroke-width="0.7"/>
<line x1="420.16" y1="309.44" x2="420.16" y2="303.2" stroke="#3a5fa8" stroke-width="0.7"/>
<line x1="417.96" y1="303.2" x2="422.36" y2="303.2" stroke="#3a5fa8" stroke-width="0.7"/>
<line x1="417.96" y1="309.44" x2="422.36" y2="309.44" stroke="#3a5fa8" stroke-width="0.7"/>
<line x1="428.62" y1="305.8" x2="428.62" y2="295.4" stroke="#3a5fa8" stroke-width="0.7"/>
<line x1="426.42" y1="295.4" x2="430.82" y2="295.4" stroke="#3a5fa8" stroke-width="0.7"/>
<line x1="426.42" y1="305.8" x2="430.82" y2="305.8" stroke="#3a5fa8" stroke-width="0.7"/>
<line x1="437.08" y1="294.36" x2="437.08" y2="276.16" stroke="#3a5fa8" stroke-width="0.7"/>
<line x1="434.88" y1="276.16" x2="439.28" y2="276.16" stroke="#3a5fa8" stroke-width="0.7"/>
<line x1="434.88" y1="294.36" x2="439.28" y2="294.36" stroke="#3a5fa8" stroke-width="0.7"/>
<line x1="445.54" y1="283.18" x2="445.54" y2="249.38" stroke="#3a5fa8" stroke-width="0.7"/>
<line x1="443.34" y1="249.38" x2="447.74" y2="249.38" stroke="#3a5fa8" stroke-width="0.7"/>
<line x1="443.34" y1="283.18" x2="447.74" y2="283.18" stroke="#3a5fa8" stroke-width="0.7"/>
<line x1="454" y1="264.2" x2="454" y2="230.4" stroke="#3a5fa8" stroke-width="0.7"/>
<line x1="451.8" y1="230.4" x2="456.2" y2="230.4" stroke="#3a5fa8" stroke-width="0.7"/>
<line x1="451.8" y1="264.2" x2="456.2" y2="264.2" stroke="#3a5fa8" stroke-width="0.7"/>
<line x1="462.46" y1="254.58" x2="462.46" y2="225.98" stroke="#3a5fa8" stroke-width="0.7"/>
<line x1="460.26" y1="225.98" x2="464.66" y2="225.98" stroke="#3a5fa8" stroke-width="0.7"/>
<line x1="460.26" y1="254.58" x2="464.66" y2="254.58" stroke="#3a5fa8" stroke-width="0.7"/>
<line x1="369.4" y1="315.94" x2="369.4" y2="314.9" stroke="#e0262d" stroke-width="0.7"/>
<line x1="367.2" y1="314.9" x2="371.6" y2="314.9" stroke="#e0262d" stroke-width="0.7"/>
<line x1="367.2" y1="315.94" x2="371.6" y2="315.94" stroke="#e0262d" stroke-width="0.7"/>
<line x1="377.86" y1="315.94" x2="377.86" y2="314.9" stroke="#e0262d" stroke-width="0.7"/>
<line x1="375.66" y1="314.9" x2="380.06" y2="314.9" stroke="#e0262d" stroke-width="0.7"/>
<line x1="375.66" y1="315.94" x2="380.06" y2="315.94" stroke="#e0262d" stroke-width="0.7"/>
<line x1="386.32" y1="315.94" x2="386.32" y2="314.9" stroke="#e0262d" stroke-width="0.7"/>
<line x1="384.12" y1="314.9" x2="388.52" y2="314.9" stroke="#e0262d" stroke-width="0.7"/>
<line x1="384.12" y1="315.94" x2="388.52" y2="315.94" stroke="#e0262d" stroke-width="0.7"/>
<line x1="394.78" y1="315.94" x2="394.78" y2="314.9" stroke="#e0262d" stroke-width="0.7"/>
<line x1="392.58" y1="314.9" x2="396.98" y2="314.9" stroke="#e0262d" stroke-width="0.7"/>
<line x1="392.58" y1="315.94" x2="396.98" y2="315.94" stroke="#e0262d" stroke-width="0.7"/>
<line x1="403.24" y1="315.94" x2="403.24" y2="314.9" stroke="#e0262d" stroke-width="0.7"/>
<line x1="401.04" y1="314.9" x2="405.44" y2="314.9" stroke="#e0262d" stroke-width="0.7"/>
<line x1="401.04" y1="315.94" x2="405.44" y2="315.94" stroke="#e0262d" stroke-width="0.7"/>
<line x1="411.7" y1="315.94" x2="411.7" y2="314.9" stroke="#e0262d" stroke-width="0.7"/>
<line x1="409.5" y1="314.9" x2="413.9" y2="314.9" stroke="#e0262d" stroke-width="0.7"/>
<line x1="409.5" y1="315.94" x2="413.9" y2="315.94" stroke="#e0262d" stroke-width="0.7"/>
<line x1="420.16" y1="315.42" x2="420.16" y2="314.38" stroke="#e0262d" stroke-width="0.7"/>
<line x1="417.96" y1="314.38" x2="422.36" y2="314.38" stroke="#e0262d" stroke-width="0.7"/>
<line x1="417.96" y1="315.42" x2="422.36" y2="315.42" stroke="#e0262d" stroke-width="0.7"/>
<line x1="428.62" y1="315.42" x2="428.62" y2="314.38" stroke="#e0262d" stroke-width="0.7"/>
<line x1="426.42" y1="314.38" x2="430.82" y2="314.38" stroke="#e0262d" stroke-width="0.7"/>
<line x1="426.42" y1="315.42" x2="430.82" y2="315.42" stroke="#e0262d" stroke-width="0.7"/>
<line x1="437.08" y1="315.42" x2="437.08" y2="314.38" stroke="#e0262d" stroke-width="0.7"/>
<line x1="434.88" y1="314.38" x2="439.28" y2="314.38" stroke="#e0262d" stroke-width="0.7"/>
<line x1="434.88" y1="315.42" x2="439.28" y2="315.42" stroke="#e0262d" stroke-width="0.7"/>
<line x1="445.54" y1="314.64" x2="445.54" y2="313.6" stroke="#e0262d" stroke-width="0.7"/>
<line x1="443.34" y1="313.6" x2="447.74" y2="313.6" stroke="#e0262d" stroke-width="0.7"/>
<line x1="443.34" y1="314.64" x2="447.74" y2="314.64" stroke="#e0262d" stroke-width="0.7"/>
<line x1="454" y1="314.64" x2="454" y2="313.6" stroke="#e0262d" stroke-width="0.7"/>
<line x1="451.8" y1="313.6" x2="456.2" y2="313.6" stroke="#e0262d" stroke-width="0.7"/>
<line x1="451.8" y1="314.64" x2="456.2" y2="314.64" stroke="#e0262d" stroke-width="0.7"/>
<line x1="462.46" y1="314.64" x2="462.46" y2="313.6" stroke="#e0262d" stroke-width="0.7"/>
<line x1="460.26" y1="313.6" x2="464.66" y2="313.6" stroke="#e0262d" stroke-width="0.7"/>
<line x1="460.26" y1="314.64" x2="464.66" y2="314.64" stroke="#e0262d" stroke-width="0.7"/>
<path d="M369.4 314.9 377.86 314.9 386.32 314.9 394.78 314.12 403.24 313.6 411.7 312.3 420.16 306.32 428.62 301.9 437.08 292.8 445.54 275.9 454 267.32 462.46 257.44" stroke="#2a2a2a" stroke-width="1.3" fill="none"/>
<circle cx="369.4" cy="314.9" r="1.4" fill="#2a2a2a"/>
<circle cx="377.86" cy="314.9" r="1.4" fill="#2a2a2a"/>
<circle cx="386.32" cy="314.9" r="1.4" fill="#2a2a2a"/>
<circle cx="394.78" cy="314.12" r="1.4" fill="#2a2a2a"/>
<circle cx="403.24" cy="313.6" r="1.4" fill="#2a2a2a"/>
<circle cx="411.7" cy="312.3" r="1.4" fill="#2a2a2a"/>
<circle cx="420.16" cy="306.32" r="1.4" fill="#2a2a2a"/>
<circle cx="428.62" cy="301.9" r="1.4" fill="#2a2a2a"/>
<circle cx="437.08" cy="292.8" r="1.4" fill="#2a2a2a"/>
<circle cx="445.54" cy="275.9" r="1.4" fill="#2a2a2a"/>
<circle cx="454" cy="267.32" r="1.4" fill="#2a2a2a"/>
<circle cx="462.46" cy="257.44" r="1.4" fill="#2a2a2a"/>
<path d="M369.4 313.6 377.86 314.12 386.32 314.12 394.78 313.6 403.24 313.6 411.7 312.3 420.16 307.1 428.62 301.9 437.08 294.1 445.54 269.4 454 251.2 462.46 245.48" stroke="#2f9a55" stroke-width="1.3" fill="none"/>
<path d="M369.4 312l1.5 2.6h-3z" fill="#2f9a55"/>
<path d="M377.86 312.52l1.5 2.6h-3z" fill="#2f9a55"/>
<path d="M386.32 312.52l1.5 2.6h-3z" fill="#2f9a55"/>
<path d="M394.78 312l1.5 2.6h-3z" fill="#2f9a55"/>
<path d="M403.24 312l1.5 2.6h-3z" fill="#2f9a55"/>
<path d="M411.7 310.7l1.5 2.6h-3z" fill="#2f9a55"/>
<path d="M420.16 305.5l1.5 2.6h-3z" fill="#2f9a55"/>
<path d="M428.62 300.3l1.5 2.6h-3z" fill="#2f9a55"/>
<path d="M437.08 292.5l1.5 2.6h-3z" fill="#2f9a55"/>
<path d="M445.54 267.8l1.5 2.6h-3z" fill="#2f9a55"/>
<path d="M454 249.6l1.5 2.6h-3z" fill="#2f9a55"/>
<path d="M462.46 243.88l1.5 2.6h-3z" fill="#2f9a55"/>
<path d="M369.4 314.12 377.86 314.12 386.32 314.12 394.78 313.6 403.24 313.08 411.7 312.3 420.16 306.32 428.62 300.6 437.08 285.26 445.54 266.28 454 247.3 462.46 240.28" stroke="#3a5fa8" stroke-width="1.3" fill="none"/>
<path d="M369.4 312.52l1.6 1.6l-1.6 1.6l-1.6 -1.6z" fill="#3a5fa8"/>
<path d="M377.86 312.52l1.6 1.6l-1.6 1.6l-1.6 -1.6z" fill="#3a5fa8"/>
<path d="M386.32 312.52l1.6 1.6l-1.6 1.6l-1.6 -1.6z" fill="#3a5fa8"/>
<path d="M394.78 312l1.6 1.6l-1.6 1.6l-1.6 -1.6z" fill="#3a5fa8"/>
<path d="M403.24 311.48l1.6 1.6l-1.6 1.6l-1.6 -1.6z" fill="#3a5fa8"/>
<path d="M411.7 310.7l1.6 1.6l-1.6 1.6l-1.6 -1.6z" fill="#3a5fa8"/>
<path d="M420.16 304.72l1.6 1.6l-1.6 1.6l-1.6 -1.6z" fill="#3a5fa8"/>
<path d="M428.62 299l1.6 1.6l-1.6 1.6l-1.6 -1.6z" fill="#3a5fa8"/>
<path d="M437.08 283.66l1.6 1.6l-1.6 1.6l-1.6 -1.6z" fill="#3a5fa8"/>
<path d="M445.54 264.68l1.6 1.6l-1.6 1.6l-1.6 -1.6z" fill="#3a5fa8"/>
<path d="M454 245.7l1.6 1.6l-1.6 1.6l-1.6 -1.6z" fill="#3a5fa8"/>
<path d="M462.46 238.68l1.6 1.6l-1.6 1.6l-1.6 -1.6z" fill="#3a5fa8"/>
<path d="M369.4 315.42 377.86 315.42 386.32 315.42 394.78 315.42 403.24 315.42 411.7 315.42 420.16 314.9 428.62 314.9 437.08 314.9 445.54 314.12 454 314.12 462.46 314.12" stroke="#e0262d" stroke-width="1.3" fill="none"/>
<rect x="368.1" y="314.12" width="2.6" height="2.6" fill="#e0262d"/>
<rect x="376.56" y="314.12" width="2.6" height="2.6" fill="#e0262d"/>
<rect x="385.02" y="314.12" width="2.6" height="2.6" fill="#e0262d"/>
<rect x="393.48" y="314.12" width="2.6" height="2.6" fill="#e0262d"/>
<rect x="401.94" y="314.12" width="2.6" height="2.6" fill="#e0262d"/>
<rect x="410.4" y="314.12" width="2.6" height="2.6" fill="#e0262d"/>
<rect x="418.86" y="313.6" width="2.6" height="2.6" fill="#e0262d"/>
<rect x="427.32" y="313.6" width="2.6" height="2.6" fill="#e0262d"/>
<rect x="435.78" y="313.6" width="2.6" height="2.6" fill="#e0262d"/>
<rect x="444.24" y="312.82" width="2.6" height="2.6" fill="#e0262d"/>
<rect x="452.7" y="312.82" width="2.6" height="2.6" fill="#e0262d"/>
<rect x="461.16" y="312.82" width="2.6" height="2.6" fill="#e0262d"/>
<text x="437.08" y="313.3" font-size="6.89" text-anchor="middle" fill="#e0262d" stroke="#e0262d" stroke-width="0.2" textLength="2.53" lengthAdjust="spacingAndGlyphs">*</text>
<text x="437.08" y="309.3" font-size="6.89" text-anchor="middle" fill="#e0262d" stroke="#e0262d" stroke-width="0.2" textLength="2.53" lengthAdjust="spacingAndGlyphs">*</text>
<text x="437.08" y="305.3" font-size="6.89" text-anchor="middle" fill="#e0262d" stroke="#e0262d" stroke-width="0.2" textLength="2.53" lengthAdjust="spacingAndGlyphs">*</text>
<text x="445.54" y="313.3" font-size="6.89" text-anchor="middle" fill="#e0262d" stroke="#e0262d" stroke-width="0.2" textLength="2.53" lengthAdjust="spacingAndGlyphs">*</text>
<text x="445.54" y="309.3" font-size="6.89" text-anchor="middle" fill="#e0262d" stroke="#e0262d" stroke-width="0.2" textLength="2.53" lengthAdjust="spacingAndGlyphs">*</text>
<text x="445.54" y="305.3" font-size="6.89" text-anchor="middle" fill="#e0262d" stroke="#e0262d" stroke-width="0.2" textLength="2.53" lengthAdjust="spacingAndGlyphs">*</text>
<text x="445.54" y="301.3" font-size="6.89" text-anchor="middle" fill="#e0262d" stroke="#e0262d" stroke-width="0.2" textLength="2.53" lengthAdjust="spacingAndGlyphs">*</text>
<text x="454" y="313.3" font-size="6.89" text-anchor="middle" fill="#e0262d" stroke="#e0262d" stroke-width="0.2" textLength="2.53" lengthAdjust="spacingAndGlyphs">*</text>
<text x="454" y="309.3" font-size="6.89" text-anchor="middle" fill="#e0262d" stroke="#e0262d" stroke-width="0.2" textLength="2.53" lengthAdjust="spacingAndGlyphs">*</text>
<text x="454" y="305.3" font-size="6.89" text-anchor="middle" fill="#e0262d" stroke="#e0262d" stroke-width="0.2" textLength="2.53" lengthAdjust="spacingAndGlyphs">*</text>
<text x="454" y="301.3" font-size="6.89" text-anchor="middle" fill="#e0262d" stroke="#e0262d" stroke-width="0.2" textLength="2.53" lengthAdjust="spacingAndGlyphs">*</text>
<text x="462.46" y="313.3" font-size="6.89" text-anchor="middle" fill="#e0262d" stroke="#e0262d" stroke-width="0.2" textLength="2.53" lengthAdjust="spacingAndGlyphs">*</text>
<text x="462.46" y="309.3" font-size="6.89" text-anchor="middle" fill="#e0262d" stroke="#e0262d" stroke-width="0.2" textLength="2.53" lengthAdjust="spacingAndGlyphs">*</text>
<text x="462.46" y="305.3" font-size="6.89" text-anchor="middle" fill="#e0262d" stroke="#e0262d" stroke-width="0.2" textLength="2.53" lengthAdjust="spacingAndGlyphs">*</text>
<text x="462.46" y="301.3" font-size="6.89" text-anchor="middle" fill="#e0262d" stroke="#e0262d" stroke-width="0.2" textLength="2.53" lengthAdjust="spacingAndGlyphs">*</text>
<line x1="369.8" y1="213" x2="380.2" y2="213" stroke="#111" stroke-width="1.1"/>
<circle cx="375" cy="213" r="1.4" fill="#111"/>
<text x="382.8" y="215.6" font-size="7.84" fill="#333" stroke="#333" stroke-width="0.2" textLength="24.27" lengthAdjust="spacingAndGlyphs">Vehicle</text>
<line x1="369.8" y1="222" x2="380.2" y2="222" stroke="#e0262d" stroke-width="1.1"/>
<rect x="373.7" y="220.7" width="2.6" height="2.6" fill="#e0262d"/>
<text x="382.8" y="224.6" font-size="7.84" fill="#333" stroke="#333" stroke-width="0.2" textLength="40.32" lengthAdjust="spacingAndGlyphs">Ro 1138452</text>
<line x1="369.8" y1="231.2" x2="380.2" y2="231.2" stroke="#2f9a55" stroke-width="1.1"/>
<path d="M375 229.6l1.5 2.6h-3z" fill="#2f9a55"/>
<text x="382.8" y="233.8" font-size="7.84" fill="#333" stroke="#333" stroke-width="0.2" textLength="63.34" lengthAdjust="spacingAndGlyphs">CJ-42794/TG4-155</text>
<line x1="369.8" y1="240.2" x2="380.2" y2="240.2" stroke="#3a5fa8" stroke-width="1.1"/>
<path d="M375 238.6l1.6 1.6l-1.6 1.6l-1.6 -1.6z" fill="#3a5fa8"/>
<text x="382.8" y="242.8" font-size="7.84" fill="#333" stroke="#333" stroke-width="0.2" textLength="30.03" lengthAdjust="spacingAndGlyphs">MK-0524</text>
<rect x="360.8" y="381.9" width="122.7" height="55.7" fill="#dcdcdc"/>
<line x1="391" y1="380.5" x2="468" y2="380.5" stroke="#111" stroke-width="1"/>
<text x="429.5" y="378.9" font-size="8.69" text-anchor="middle" fill="#333" stroke="#333" stroke-width="0.2" textLength="23.7" lengthAdjust="spacingAndGlyphs">CS585</text>
<text x="355.2" y="390.8" font-size="7.74" text-anchor="end" fill="#333" stroke="#333" stroke-width="0.2" textLength="28.2" lengthAdjust="spacingAndGlyphs">150 kDa</text>
<line x1="358.4" y1="388.2" x2="360.4" y2="388.2" stroke="#333" stroke-width="0.9"/>
<text x="355.2" y="400.4" font-size="7.74" text-anchor="end" fill="#333" stroke="#333" stroke-width="0.2" textLength="24.3" lengthAdjust="spacingAndGlyphs">75 kDa</text>
<line x1="358.4" y1="397.8" x2="360.4" y2="397.8" stroke="#333" stroke-width="0.9"/>
<text x="355.2" y="410.8" font-size="7.74" text-anchor="end" fill="#333" stroke="#333" stroke-width="0.2" textLength="24.3" lengthAdjust="spacingAndGlyphs">50 kDa</text>
<line x1="358.4" y1="408.2" x2="360.4" y2="408.2" stroke="#333" stroke-width="0.9"/>
<text x="355.2" y="421" font-size="7.74" text-anchor="end" fill="#333" stroke="#333" stroke-width="0.2" textLength="24.3" lengthAdjust="spacingAndGlyphs">37 kDa</text>
<line x1="358.4" y1="418.4" x2="360.4" y2="418.4" stroke="#333" stroke-width="0.9"/>
<text x="355.2" y="435" font-size="7.74" text-anchor="end" fill="#333" stroke="#333" stroke-width="0.2" textLength="24.3" lengthAdjust="spacingAndGlyphs">25 kDa</text>
<line x1="358.4" y1="432.4" x2="360.4" y2="432.4" stroke="#333" stroke-width="0.9"/>
<rect x="369.4" y="383.4" width="5.8" height="2.4" rx="1.2" fill="#111" fill-opacity="0.95"/>
<rect x="369.4" y="387.8" width="5.8" height="1.8" rx="0.9" fill="#111" fill-opacity="0.95"/>
<rect x="369.4" y="392.8" width="5.8" height="2" rx="1" fill="#111" fill-opacity="0.95"/>
<rect x="369.4" y="396.7" width="5.8" height="2.4" rx="1.2" fill="#111" fill-opacity="0.95"/>
<rect x="369.4" y="407.9" width="5.8" height="2.6" rx="1.3" fill="#111" fill-opacity="0.95"/>
<rect x="369.4" y="417.4" width="5.8" height="2.8" rx="1.4" fill="#111" fill-opacity="0.95"/>
<rect x="369.4" y="431.7" width="5.8" height="3.4" rx="1.7" fill="#111" fill-opacity="0.95"/>
<text transform="translate(387.7 404.8) rotate(-90)" font-size="6.36" fill="#333" stroke="#333" stroke-width="0.2" textLength="19.68" lengthAdjust="spacingAndGlyphs">Vehicle</text>
<rect x="383.1" y="406.95" width="5.2" height="1.3" rx="0.65" fill="#111" fill-opacity="0.05"/>
<rect x="382.9" y="417.35" width="5.6" height="1.3" rx="0.65" fill="#111" fill-opacity="0.8"/>
<text transform="translate(395.13 404.8) rotate(-90)" font-size="6.36" fill="#333" stroke="#333" stroke-width="0.2" textLength="16.68" lengthAdjust="spacingAndGlyphs">10 pM</text>
<rect x="390.53" y="406.95" width="5.2" height="1.3" rx="0.65" fill="#111" fill-opacity="0.05"/>
<rect x="390.33" y="417.35" width="5.6" height="1.3" rx="0.65" fill="#111" fill-opacity="0.8"/>
<text transform="translate(402.56 404.8) rotate(-90)" font-size="6.36" fill="#333" stroke="#333" stroke-width="0.2" textLength="16.68" lengthAdjust="spacingAndGlyphs">25 pM</text>
<rect x="397.96" y="406.95" width="5.2" height="1.3" rx="0.65" fill="#111" fill-opacity="0.05"/>
<rect x="397.76" y="417.35" width="5.6" height="1.3" rx="0.65" fill="#111" fill-opacity="0.8"/>
<text transform="translate(409.99 404.8) rotate(-90)" font-size="6.36" fill="#333" stroke="#333" stroke-width="0.2" textLength="16.68" lengthAdjust="spacingAndGlyphs">50 pM</text>
<rect x="405.39" y="406.95" width="5.2" height="1.3" rx="0.65" fill="#111" fill-opacity="0.05"/>
<rect x="405.19" y="417.35" width="5.6" height="1.3" rx="0.65" fill="#111" fill-opacity="0.8"/>
<text transform="translate(417.42 404.8) rotate(-90)" font-size="6.36" fill="#333" stroke="#333" stroke-width="0.2" textLength="20.01" lengthAdjust="spacingAndGlyphs">100 pM</text>
<rect x="412.82" y="406.95" width="5.2" height="1.3" rx="0.65" fill="#111" fill-opacity="0.08"/>
<rect x="412.62" y="417.35" width="5.6" height="1.3" rx="0.65" fill="#111" fill-opacity="0.8"/>
<text transform="translate(424.85 404.8) rotate(-90)" font-size="6.36" fill="#333" stroke="#333" stroke-width="0.2" textLength="20.01" lengthAdjust="spacingAndGlyphs">250 pM</text>
<rect x="420.25" y="406.95" width="5.2" height="1.3" rx="0.65" fill="#111" fill-opacity="0.1"/>
<rect x="420.05" y="417.35" width="5.6" height="1.3" rx="0.65" fill="#111" fill-opacity="0.8"/>
<text transform="translate(432.28 404.8) rotate(-90)" font-size="6.36" fill="#333" stroke="#333" stroke-width="0.2" textLength="20.01" lengthAdjust="spacingAndGlyphs">500 pM</text>
<rect x="427.68" y="406.95" width="5.2" height="1.3" rx="0.65" fill="#111" fill-opacity="0.12"/>
<rect x="427.48" y="417.35" width="5.6" height="1.3" rx="0.65" fill="#111" fill-opacity="0.8"/>
<text transform="translate(439.71 404.8) rotate(-90)" font-size="6.36" fill="#333" stroke="#333" stroke-width="0.2" textLength="13.34" lengthAdjust="spacingAndGlyphs">1 nM</text>
<rect x="435.11" y="406.95" width="5.2" height="1.3" rx="0.65" fill="#111" fill-opacity="0.3"/>
<rect x="434.91" y="417.35" width="5.6" height="1.3" rx="0.65" fill="#111" fill-opacity="0.8"/>
<text transform="translate(447.14 404.8) rotate(-90)" font-size="6.36" fill="#333" stroke="#333" stroke-width="0.2" textLength="16.68" lengthAdjust="spacingAndGlyphs">10 nM</text>
<rect x="442.54" y="406.8" width="5.2" height="1.6" rx="0.8" fill="#111" fill-opacity="0.55"/>
<rect x="442.34" y="417.35" width="5.6" height="1.3" rx="0.65" fill="#111" fill-opacity="0.8"/>
<text transform="translate(454.57 404.8) rotate(-90)" font-size="6.36" fill="#333" stroke="#333" stroke-width="0.2" textLength="16.68" lengthAdjust="spacingAndGlyphs">25 nM</text>
<rect x="449.97" y="406.8" width="5.2" height="1.6" rx="0.8" fill="#111" fill-opacity="0.7"/>
<rect x="449.77" y="417.35" width="5.6" height="1.3" rx="0.65" fill="#111" fill-opacity="0.8"/>
<text transform="translate(462 404.8) rotate(-90)" font-size="6.36" fill="#333" stroke="#333" stroke-width="0.2" textLength="16.68" lengthAdjust="spacingAndGlyphs">50 nM</text>
<rect x="457.4" y="406.8" width="5.2" height="1.6" rx="0.8" fill="#111" fill-opacity="0.85"/>
<rect x="457.2" y="417.35" width="5.6" height="1.3" rx="0.65" fill="#111" fill-opacity="0.8"/>
<text transform="translate(469.43 404.8) rotate(-90)" font-size="6.36" fill="#333" stroke="#333" stroke-width="0.2" textLength="20.01" lengthAdjust="spacingAndGlyphs">100 nM</text>
<rect x="464.83" y="406.8" width="5.2" height="1.6" rx="0.8" fill="#111" fill-opacity="0.95"/>
<rect x="464.63" y="417.35" width="5.6" height="1.3" rx="0.65" fill="#111" fill-opacity="0.8"/>
<text x="485" y="402.5" font-size="8.8" fill="#333" stroke="#333" stroke-width="0.2" textLength="24.4" lengthAdjust="spacingAndGlyphs">Ser157</text>
<text x="485" y="410" font-size="8.8" fill="#333" stroke="#333" stroke-width="0.2" textLength="24.4" lengthAdjust="spacingAndGlyphs">pVASP</text>
<text x="485" y="419.8" font-size="8.8" fill="#333" stroke="#333" stroke-width="0.2" textLength="28.3" lengthAdjust="spacingAndGlyphs">GAPDH</text>
<text x="481.2" y="435.8" font-size="8.8" text-anchor="end" fill="#333" stroke="#333" stroke-width="0.2" textLength="25.6" lengthAdjust="spacingAndGlyphs">Vehicle</text>
<rect x="360.8" y="463.7" width="122.7" height="50.7" fill="#dcdcdc"/>
<line x1="391" y1="460.5" x2="468" y2="460.5" stroke="#111" stroke-width="1"/>
<text x="429.5" y="458.9" font-size="8.69" text-anchor="middle" fill="#333" stroke="#333" stroke-width="0.2" textLength="23.7" lengthAdjust="spacingAndGlyphs">CS585</text>
<text x="355.2" y="469.2" font-size="7.74" text-anchor="end" fill="#333" stroke="#333" stroke-width="0.2" textLength="28.2" lengthAdjust="spacingAndGlyphs">150 kDa</text>
<line x1="358.4" y1="466.6" x2="360.4" y2="466.6" stroke="#333" stroke-width="0.9"/>
<text x="355.2" y="477.9" font-size="7.74" text-anchor="end" fill="#333" stroke="#333" stroke-width="0.2" textLength="24.3" lengthAdjust="spacingAndGlyphs">75 kDa</text>
<line x1="358.4" y1="475.3" x2="360.4" y2="475.3" stroke="#333" stroke-width="0.9"/>
<text x="355.2" y="488.5" font-size="7.74" text-anchor="end" fill="#333" stroke="#333" stroke-width="0.2" textLength="24.3" lengthAdjust="spacingAndGlyphs">50 kDa</text>
<line x1="358.4" y1="485.9" x2="360.4" y2="485.9" stroke="#333" stroke-width="0.9"/>
<text x="355.2" y="499" font-size="7.74" text-anchor="end" fill="#333" stroke="#333" stroke-width="0.2" textLength="24.3" lengthAdjust="spacingAndGlyphs">37 kDa</text>
<line x1="358.4" y1="496.4" x2="360.4" y2="496.4" stroke="#333" stroke-width="0.9"/>
<text x="355.2" y="512.5" font-size="7.74" text-anchor="end" fill="#333" stroke="#333" stroke-width="0.2" textLength="24.3" lengthAdjust="spacingAndGlyphs">25 kDa</text>
<line x1="358.4" y1="509.9" x2="360.4" y2="509.9" stroke="#333" stroke-width="0.9"/>
<rect x="373.6" y="464.79" width="3.6" height="2.03" rx="1.01" fill="#111" fill-opacity="0.95"/>
<rect x="373.6" y="467.29" width="3.6" height="2.03" rx="1.01" fill="#111" fill-opacity="0.95"/>
<rect x="373.6" y="473.79" width="3.6" height="2.43" rx="1.22" fill="#111" fill-opacity="0.95"/>
<rect x="373.6" y="475.79" width="3.6" height="2.03" rx="1.01" fill="#111" fill-opacity="0.95"/>
<rect x="373.6" y="486.29" width="3.6" height="2.43" rx="1.22" fill="#111" fill-opacity="0.95"/>
<rect x="373.6" y="494.99" width="3.6" height="2.43" rx="1.22" fill="#111" fill-opacity="0.95"/>
<rect x="373.6" y="509.48" width="3.6" height="4.05" rx="2.03" fill="#111" fill-opacity="0.95"/>
<text transform="translate(387.7 485) rotate(-90)" font-size="6.36" fill="#333" stroke="#333" stroke-width="0.2" textLength="19.68" lengthAdjust="spacingAndGlyphs">Vehicle</text>
<rect x="382.9" y="498.08" width="5.6" height="2" rx="1" fill="#111" fill-opacity="0.95"/>
<text transform="translate(395.2 485) rotate(-90)" font-size="6.36" fill="#333" stroke="#333" stroke-width="0.2" textLength="16.68" lengthAdjust="spacingAndGlyphs">10 pM</text>
<rect x="390.4" y="498.25" width="5.6" height="2" rx="1" fill="#111" fill-opacity="0.95"/>
<text transform="translate(402.7 485) rotate(-90)" font-size="6.36" fill="#333" stroke="#333" stroke-width="0.2" textLength="16.68" lengthAdjust="spacingAndGlyphs">25 pM</text>
<rect x="397.9" y="498.42" width="5.6" height="2" rx="1" fill="#111" fill-opacity="0.95"/>
<text transform="translate(410.2 485) rotate(-90)" font-size="6.36" fill="#333" stroke="#333" stroke-width="0.2" textLength="16.68" lengthAdjust="spacingAndGlyphs">50 pM</text>
<rect x="405.4" y="498.59" width="5.6" height="2" rx="1" fill="#111" fill-opacity="0.95"/>
<text transform="translate(417.7 485) rotate(-90)" font-size="6.36" fill="#333" stroke="#333" stroke-width="0.2" textLength="20.01" lengthAdjust="spacingAndGlyphs">100 pM</text>
<rect x="412.9" y="498.76" width="5.6" height="2" rx="1" fill="#111" fill-opacity="0.95"/>
<text transform="translate(425.2 485) rotate(-90)" font-size="6.36" fill="#333" stroke="#333" stroke-width="0.2" textLength="20.01" lengthAdjust="spacingAndGlyphs">250 pM</text>
<rect x="420.6" y="489.65" width="5.2" height="1.3" rx="0.65" fill="#111" fill-opacity="0.05"/>
<rect x="420.4" y="498.93" width="5.6" height="2" rx="1" fill="#111" fill-opacity="0.95"/>
<text transform="translate(432.7 485) rotate(-90)" font-size="6.36" fill="#333" stroke="#333" stroke-width="0.2" textLength="20.01" lengthAdjust="spacingAndGlyphs">500 pM</text>
<rect x="428.1" y="489.65" width="5.2" height="1.3" rx="0.65" fill="#111" fill-opacity="0.12"/>
<rect x="427.9" y="499.1" width="5.6" height="2" rx="1" fill="#111" fill-opacity="0.95"/>
<text transform="translate(440.2 485) rotate(-90)" font-size="6.36" fill="#333" stroke="#333" stroke-width="0.2" textLength="13.34" lengthAdjust="spacingAndGlyphs">1 nM</text>
<rect x="435.6" y="489.65" width="5.2" height="1.3" rx="0.65" fill="#111" fill-opacity="0.3"/>
<rect x="435.4" y="499.27" width="5.6" height="2" rx="1" fill="#111" fill-opacity="0.95"/>
<text transform="translate(447.7 485) rotate(-90)" font-size="6.36" fill="#333" stroke="#333" stroke-width="0.2" textLength="16.68" lengthAdjust="spacingAndGlyphs">10 nM</text>
<rect x="443.1" y="489.5" width="5.2" height="1.6" rx="0.8" fill="#111" fill-opacity="0.9"/>
<rect x="442.9" y="499.44" width="5.6" height="2" rx="1" fill="#111" fill-opacity="0.95"/>
<text transform="translate(455.2 485) rotate(-90)" font-size="6.36" fill="#333" stroke="#333" stroke-width="0.2" textLength="16.68" lengthAdjust="spacingAndGlyphs">25 nM</text>
<rect x="450.6" y="489.5" width="5.2" height="1.6" rx="0.8" fill="#111" fill-opacity="0.95"/>
<rect x="450.4" y="499.61" width="5.6" height="2" rx="1" fill="#111" fill-opacity="0.95"/>
<text transform="translate(462.7 485) rotate(-90)" font-size="6.36" fill="#333" stroke="#333" stroke-width="0.2" textLength="16.68" lengthAdjust="spacingAndGlyphs">50 nM</text>
<rect x="458.1" y="489.5" width="5.2" height="1.6" rx="0.8" fill="#111" fill-opacity="0.95"/>
<rect x="457.9" y="499.78" width="5.6" height="2" rx="1" fill="#111" fill-opacity="0.95"/>
<text transform="translate(470.2 485) rotate(-90)" font-size="6.36" fill="#333" stroke="#333" stroke-width="0.2" textLength="20.01" lengthAdjust="spacingAndGlyphs">100 nM</text>
<rect x="465.6" y="489.5" width="5.2" height="1.6" rx="0.8" fill="#111" fill-opacity="0.95"/>
<rect x="465.4" y="499.95" width="5.6" height="2" rx="1" fill="#111" fill-opacity="0.95"/>
<text x="485" y="487" font-size="8.8" fill="#333" stroke="#333" stroke-width="0.2" textLength="24.4" lengthAdjust="spacingAndGlyphs">Ser157</text>
<text x="485" y="494.5" font-size="8.8" fill="#333" stroke="#333" stroke-width="0.2" textLength="24.4" lengthAdjust="spacingAndGlyphs">pVASP</text>
<text x="485" y="505.6" font-size="8.8" fill="#333" stroke="#333" stroke-width="0.2" textLength="28.3" lengthAdjust="spacingAndGlyphs">GAPDH</text>
<text x="481.8" y="512.7" font-size="8.8" text-anchor="end" fill="#333" stroke="#333" stroke-width="0.2" textLength="69" lengthAdjust="spacingAndGlyphs">CJ-42794/TG4-155</text>
<rect x="360.8" y="538" width="122.7" height="56.2" fill="#dcdcdc"/>
<line x1="391" y1="537.5" x2="468" y2="537.5" stroke="#111" stroke-width="1"/>
<text x="429.5" y="535.9" font-size="8.69" text-anchor="middle" fill="#333" stroke="#333" stroke-width="0.2" textLength="23.7" lengthAdjust="spacingAndGlyphs">CS585</text>
<text x="355.2" y="545.8" font-size="7.74" text-anchor="end" fill="#333" stroke="#333" stroke-width="0.2" textLength="28.2" lengthAdjust="spacingAndGlyphs">150 kDa</text>
<line x1="358.4" y1="543.2" x2="360.4" y2="543.2" stroke="#333" stroke-width="0.9"/>
<text x="355.2" y="553.5" font-size="7.74" text-anchor="end" fill="#333" stroke="#333" stroke-width="0.2" textLength="24.3" lengthAdjust="spacingAndGlyphs">75 kDa</text>
<line x1="358.4" y1="550.9" x2="360.4" y2="550.9" stroke="#333" stroke-width="0.9"/>
<text x="355.2" y="565" font-size="7.74" text-anchor="end" fill="#333" stroke="#333" stroke-width="0.2" textLength="24.3" lengthAdjust="spacingAndGlyphs">50 kDa</text>
<line x1="358.4" y1="562.4" x2="360.4" y2="562.4" stroke="#333" stroke-width="0.9"/>
<text x="355.2" y="576.2" font-size="7.74" text-anchor="end" fill="#333" stroke="#333" stroke-width="0.2" textLength="24.3" lengthAdjust="spacingAndGlyphs">37 kDa</text>
<line x1="358.4" y1="573.6" x2="360.4" y2="573.6" stroke="#333" stroke-width="0.9"/>
<text x="355.2" y="591.5" font-size="7.74" text-anchor="end" fill="#333" stroke="#333" stroke-width="0.2" textLength="24.3" lengthAdjust="spacingAndGlyphs">25 kDa</text>
<line x1="358.4" y1="588.9" x2="360.4" y2="588.9" stroke="#333" stroke-width="0.9"/>
<rect x="367.5" y="540.55" width="3.8" height="1.89" rx="0.94" fill="#111" fill-opacity="0.95"/>
<rect x="367.5" y="543.05" width="3.8" height="1.89" rx="0.94" fill="#111" fill-opacity="0.95"/>
<rect x="367.5" y="547.42" width="3.8" height="2.16" rx="1.08" fill="#111" fill-opacity="0.95"/>
<rect x="367.5" y="550.92" width="3.8" height="2.16" rx="1.08" fill="#111" fill-opacity="0.95"/>
<rect x="367.5" y="563.28" width="3.8" height="2.43" rx="1.22" fill="#111" fill-opacity="0.95"/>
<rect x="367.5" y="573.42" width="3.8" height="2.16" rx="1.08" fill="#111" fill-opacity="0.95"/>
<rect x="367.5" y="588.01" width="3.8" height="2.97" rx="1.49" fill="#111" fill-opacity="0.95"/>
<text transform="translate(382 560.8) rotate(-90)" font-size="6.36" fill="#333" stroke="#333" stroke-width="0.2" textLength="19.68" lengthAdjust="spacingAndGlyphs">Vehicle</text>
<rect x="377.2" y="574.9" width="5.6" height="1.8" rx="0.9" fill="#111" fill-opacity="0.95"/>
<text transform="translate(389.5 560.8) rotate(-90)" font-size="6.36" fill="#333" stroke="#333" stroke-width="0.2" textLength="16.68" lengthAdjust="spacingAndGlyphs">10 pM</text>
<rect x="384.7" y="574.9" width="5.6" height="1.8" rx="0.9" fill="#111" fill-opacity="0.95"/>
<text transform="translate(397 560.8) rotate(-90)" font-size="6.36" fill="#333" stroke="#333" stroke-width="0.2" textLength="16.68" lengthAdjust="spacingAndGlyphs">25 pM</text>
<rect x="392.4" y="565.05" width="5.2" height="1.3" rx="0.65" fill="#111" fill-opacity="0.15"/>
<rect x="392.2" y="574.9" width="5.6" height="1.8" rx="0.9" fill="#111" fill-opacity="0.95"/>
<text transform="translate(404.5 560.8) rotate(-90)" font-size="6.36" fill="#333" stroke="#333" stroke-width="0.2" textLength="16.68" lengthAdjust="spacingAndGlyphs">50 pM</text>
<rect x="399.9" y="565.05" width="5.2" height="1.3" rx="0.65" fill="#111" fill-opacity="0.15"/>
<rect x="399.7" y="574.9" width="5.6" height="1.8" rx="0.9" fill="#111" fill-opacity="0.95"/>
<text transform="translate(412 560.8) rotate(-90)" font-size="6.36" fill="#333" stroke="#333" stroke-width="0.2" textLength="20.01" lengthAdjust="spacingAndGlyphs">100 pM</text>
<rect x="407.4" y="565.05" width="5.2" height="1.3" rx="0.65" fill="#111" fill-opacity="0.2"/>
<rect x="407.2" y="574.9" width="5.6" height="1.8" rx="0.9" fill="#111" fill-opacity="0.95"/>
<text transform="translate(419.5 560.8) rotate(-90)" font-size="6.36" fill="#333" stroke="#333" stroke-width="0.2" textLength="20.01" lengthAdjust="spacingAndGlyphs">250 pM</text>
<rect x="414.9" y="565.05" width="5.2" height="1.3" rx="0.65" fill="#111" fill-opacity="0.25"/>
<rect x="414.7" y="574.9" width="5.6" height="1.8" rx="0.9" fill="#111" fill-opacity="0.95"/>
<text transform="translate(427 560.8) rotate(-90)" font-size="6.36" fill="#333" stroke="#333" stroke-width="0.2" textLength="20.01" lengthAdjust="spacingAndGlyphs">500 pM</text>
<rect x="422.4" y="564.9" width="5.2" height="1.6" rx="0.8" fill="#111" fill-opacity="0.85"/>
<rect x="422.2" y="574.9" width="5.6" height="1.8" rx="0.9" fill="#111" fill-opacity="0.95"/>
<text transform="translate(434.5 560.8) rotate(-90)" font-size="6.36" fill="#333" stroke="#333" stroke-width="0.2" textLength="13.34" lengthAdjust="spacingAndGlyphs">1 nM</text>
<rect x="429.9" y="564.9" width="5.2" height="1.6" rx="0.8" fill="#111" fill-opacity="0.9"/>
<rect x="429.7" y="574.9" width="5.6" height="1.8" rx="0.9" fill="#111" fill-opacity="0.95"/>
<text transform="translate(442 560.8) rotate(-90)" font-size="6.36" fill="#333" stroke="#333" stroke-width="0.2" textLength="16.68" lengthAdjust="spacingAndGlyphs">10 nM</text>
<rect x="437.4" y="564.9" width="5.2" height="1.6" rx="0.8" fill="#111" fill-opacity="0.9"/>
<rect x="437.2" y="574.9" width="5.6" height="1.8" rx="0.9" fill="#111" fill-opacity="0.95"/>
<text transform="translate(449.5 560.8) rotate(-90)" font-size="6.36" fill="#333" stroke="#333" stroke-width="0.2" textLength="16.68" lengthAdjust="spacingAndGlyphs">25 nM</text>
<rect x="444.9" y="564.9" width="5.2" height="1.6" rx="0.8" fill="#111" fill-opacity="0.9"/>
<rect x="444.7" y="574.9" width="5.6" height="1.8" rx="0.9" fill="#111" fill-opacity="0.95"/>
<text transform="translate(457 560.8) rotate(-90)" font-size="6.36" fill="#333" stroke="#333" stroke-width="0.2" textLength="16.68" lengthAdjust="spacingAndGlyphs">50 nM</text>
<rect x="452.4" y="564.9" width="5.2" height="1.6" rx="0.8" fill="#111" fill-opacity="0.9"/>
<rect x="452.2" y="574.9" width="5.6" height="1.8" rx="0.9" fill="#111" fill-opacity="0.95"/>
<text transform="translate(464.5 560.8) rotate(-90)" font-size="6.36" fill="#333" stroke="#333" stroke-width="0.2" textLength="20.01" lengthAdjust="spacingAndGlyphs">100 nM</text>
<rect x="459.9" y="564.9" width="5.2" height="1.6" rx="0.8" fill="#111" fill-opacity="0.95"/>
<rect x="459.7" y="574.9" width="5.6" height="1.8" rx="0.9" fill="#111" fill-opacity="0.95"/>
<text x="485" y="563.5" font-size="8.8" fill="#333" stroke="#333" stroke-width="0.2" textLength="24.4" lengthAdjust="spacingAndGlyphs">Ser157</text>
<text x="485" y="570.2" font-size="8.8" fill="#333" stroke="#333" stroke-width="0.2" textLength="24.4" lengthAdjust="spacingAndGlyphs">pVASP</text>
<text x="485" y="581.7" font-size="8.8" fill="#333" stroke="#333" stroke-width="0.2" textLength="28.3" lengthAdjust="spacingAndGlyphs">GAPDH</text>
<text x="481.2" y="592.3" font-size="8.8" text-anchor="end" fill="#333" stroke="#333" stroke-width="0.2" textLength="32.4" lengthAdjust="spacingAndGlyphs">MK-0524</text>
<rect x="360.8" y="618.3" width="122.7" height="50" fill="#dcdcdc"/>
<line x1="391" y1="617.5" x2="468" y2="617.5" stroke="#111" stroke-width="1"/>
<text x="429.5" y="615.9" font-size="8.69" text-anchor="middle" fill="#333" stroke="#333" stroke-width="0.2" textLength="23.7" lengthAdjust="spacingAndGlyphs">CS585</text>
<text x="355.2" y="627" font-size="7.74" text-anchor="end" fill="#333" stroke="#333" stroke-width="0.2" textLength="28.2" lengthAdjust="spacingAndGlyphs">150 kDa</text>
<line x1="358.4" y1="624.4" x2="360.4" y2="624.4" stroke="#333" stroke-width="0.9"/>
<text x="355.2" y="635.6" font-size="7.74" text-anchor="end" fill="#333" stroke="#333" stroke-width="0.2" textLength="24.3" lengthAdjust="spacingAndGlyphs">75 kDa</text>
<line x1="358.4" y1="633" x2="360.4" y2="633" stroke="#333" stroke-width="0.9"/>
<text x="355.2" y="643.8" font-size="7.74" text-anchor="end" fill="#333" stroke="#333" stroke-width="0.2" textLength="24.3" lengthAdjust="spacingAndGlyphs">50 kDa</text>
<line x1="358.4" y1="641.2" x2="360.4" y2="641.2" stroke="#333" stroke-width="0.9"/>
<text x="355.2" y="653.5" font-size="7.74" text-anchor="end" fill="#333" stroke="#333" stroke-width="0.2" textLength="24.3" lengthAdjust="spacingAndGlyphs">37 kDa</text>
<line x1="358.4" y1="650.9" x2="360.4" y2="650.9" stroke="#333" stroke-width="0.9"/>
<text x="355.2" y="665.4" font-size="7.74" text-anchor="end" fill="#333" stroke="#333" stroke-width="0.2" textLength="24.3" lengthAdjust="spacingAndGlyphs">25 kDa</text>
<line x1="358.4" y1="662.8" x2="360.4" y2="662.8" stroke="#333" stroke-width="0.9"/>
<rect x="372.3" y="621.05" width="3.9" height="1.89" rx="0.94" fill="#111" fill-opacity="0.95"/>
<rect x="372.3" y="623.55" width="3.9" height="1.89" rx="0.94" fill="#111" fill-opacity="0.95"/>
<rect x="372.3" y="631.28" width="3.9" height="2.43" rx="1.22" fill="#111" fill-opacity="0.95"/>
<rect x="372.3" y="640.42" width="3.9" height="2.16" rx="1.08" fill="#111" fill-opacity="0.95"/>
<rect x="372.3" y="649.92" width="3.9" height="2.16" rx="1.08" fill="#111" fill-opacity="0.95"/>
<rect x="372.3" y="662.01" width="3.9" height="2.97" rx="1.49" fill="#111" fill-opacity="0.95"/>
<text transform="translate(386.4 639.4) rotate(-90)" font-size="6.36" fill="#333" stroke="#333" stroke-width="0.2" textLength="19.68" lengthAdjust="spacingAndGlyphs">Vehicle</text>
<rect x="381.6" y="651.2" width="5.6" height="1.6" rx="0.8" fill="#111" fill-opacity="0.95"/>
<text transform="translate(393.92 639.4) rotate(-90)" font-size="6.36" fill="#333" stroke="#333" stroke-width="0.2" textLength="16.68" lengthAdjust="spacingAndGlyphs">10 pM</text>
<rect x="389.12" y="651.2" width="5.6" height="1.6" rx="0.8" fill="#111" fill-opacity="0.95"/>
<text transform="translate(401.44 639.4) rotate(-90)" font-size="6.36" fill="#333" stroke="#333" stroke-width="0.2" textLength="16.68" lengthAdjust="spacingAndGlyphs">25 pM</text>
<rect x="396.64" y="651.2" width="5.6" height="1.6" rx="0.8" fill="#111" fill-opacity="0.95"/>
<text transform="translate(408.96 639.4) rotate(-90)" font-size="6.36" fill="#333" stroke="#333" stroke-width="0.2" textLength="16.68" lengthAdjust="spacingAndGlyphs">50 pM</text>
<rect x="404.16" y="651.2" width="5.6" height="1.6" rx="0.8" fill="#111" fill-opacity="0.95"/>
<text transform="translate(416.48 639.4) rotate(-90)" font-size="6.36" fill="#333" stroke="#333" stroke-width="0.2" textLength="20.01" lengthAdjust="spacingAndGlyphs">100 pM</text>
<rect x="411.68" y="651.2" width="5.6" height="1.6" rx="0.8" fill="#111" fill-opacity="0.95"/>
<text transform="translate(424 639.4) rotate(-90)" font-size="6.36" fill="#333" stroke="#333" stroke-width="0.2" textLength="20.01" lengthAdjust="spacingAndGlyphs">250 pM</text>
<rect x="419.2" y="651.2" width="5.6" height="1.6" rx="0.8" fill="#111" fill-opacity="0.95"/>
<text transform="translate(431.52 639.4) rotate(-90)" font-size="6.36" fill="#333" stroke="#333" stroke-width="0.2" textLength="20.01" lengthAdjust="spacingAndGlyphs">500 pM</text>
<rect x="426.72" y="651.2" width="5.6" height="1.6" rx="0.8" fill="#111" fill-opacity="0.95"/>
<text transform="translate(439.04 639.4) rotate(-90)" font-size="6.36" fill="#333" stroke="#333" stroke-width="0.2" textLength="13.34" lengthAdjust="spacingAndGlyphs">1 nM</text>
<rect x="434.24" y="651.2" width="5.6" height="1.6" rx="0.8" fill="#111" fill-opacity="0.95"/>
<text transform="translate(446.56 639.4) rotate(-90)" font-size="6.36" fill="#333" stroke="#333" stroke-width="0.2" textLength="16.68" lengthAdjust="spacingAndGlyphs">10 nM</text>
<rect x="441.76" y="651.2" width="5.6" height="1.6" rx="0.8" fill="#111" fill-opacity="0.95"/>
<text transform="translate(454.08 639.4) rotate(-90)" font-size="6.36" fill="#333" stroke="#333" stroke-width="0.2" textLength="16.68" lengthAdjust="spacingAndGlyphs">25 nM</text>
<rect x="449.28" y="651.2" width="5.6" height="1.6" rx="0.8" fill="#111" fill-opacity="0.95"/>
<text transform="translate(461.6 639.4) rotate(-90)" font-size="6.36" fill="#333" stroke="#333" stroke-width="0.2" textLength="16.68" lengthAdjust="spacingAndGlyphs">50 nM</text>
<rect x="456.8" y="651.2" width="5.6" height="1.6" rx="0.8" fill="#111" fill-opacity="0.95"/>
<text transform="translate(469.12 639.4) rotate(-90)" font-size="6.36" fill="#333" stroke="#333" stroke-width="0.2" textLength="20.01" lengthAdjust="spacingAndGlyphs">100 nM</text>
<rect x="464.32" y="651.2" width="5.6" height="1.6" rx="0.8" fill="#111" fill-opacity="0.95"/>
<text x="485" y="639" font-size="8.8" fill="#333" stroke="#333" stroke-width="0.2" textLength="24.4" lengthAdjust="spacingAndGlyphs">Ser157</text>
<text x="485" y="645.5" font-size="8.8" fill="#333" stroke="#333" stroke-width="0.2" textLength="24.4" lengthAdjust="spacingAndGlyphs">pVASP</text>
<text x="485" y="656.2" font-size="8.8" fill="#333" stroke="#333" stroke-width="0.2" textLength="28.3" lengthAdjust="spacingAndGlyphs">GAPDH</text>
<text x="480" y="666.3" font-size="8.8" text-anchor="end" fill="#333" stroke="#333" stroke-width="0.2" textLength="42.3" lengthAdjust="spacingAndGlyphs">Ro 1138452</text>
<text x="7.2" y="552.2" font-size="11.6" font-weight="bold" fill="#000">E</text>
<text x="77.9" y="578.4" font-size="8.48" text-anchor="end" fill="#333" stroke="#333" stroke-width="0.2" textLength="26.24" lengthAdjust="spacingAndGlyphs">Vehicle</text>
<line x1="89.5" y1="575.6" x2="92.7" y2="575.6" stroke="#333" stroke-width="0.8"/>
<line x1="91.1" y1="574" x2="91.1" y2="577.2" stroke="#333" stroke-width="0.8"/>
<line x1="101.2" y1="575.6" x2="104.6" y2="575.6" stroke="#555" stroke-width="0.9"/>
<line x1="112.9" y1="575.6" x2="116.3" y2="575.6" stroke="#555" stroke-width="0.9"/>
<line x1="120.6" y1="575.6" x2="124" y2="575.6" stroke="#555" stroke-width="0.9"/>
<line x1="131.5" y1="575.6" x2="134.9" y2="575.6" stroke="#555" stroke-width="0.9"/>
<line x1="138.5" y1="575.6" x2="141.9" y2="575.6" stroke="#555" stroke-width="0.9"/>
<line x1="149.2" y1="575.6" x2="152.6" y2="575.6" stroke="#555" stroke-width="0.9"/>
<line x1="157.5" y1="575.6" x2="160.7" y2="575.6" stroke="#333" stroke-width="0.8"/>
<line x1="159.1" y1="574" x2="159.1" y2="577.2" stroke="#333" stroke-width="0.8"/>
<line x1="167.5" y1="575.6" x2="170.9" y2="575.6" stroke="#555" stroke-width="0.9"/>
<line x1="177.4" y1="575.6" x2="180.8" y2="575.6" stroke="#555" stroke-width="0.9"/>
<line x1="186.6" y1="575.6" x2="190" y2="575.6" stroke="#555" stroke-width="0.9"/>
<line x1="195.8" y1="575.6" x2="199.2" y2="575.6" stroke="#555" stroke-width="0.9"/>
<line x1="205.1" y1="575.6" x2="208.5" y2="575.6" stroke="#555" stroke-width="0.9"/>
<line x1="214.3" y1="575.6" x2="217.7" y2="575.6" stroke="#555" stroke-width="0.9"/>
<text x="77.9" y="586.1" font-size="8.48" text-anchor="end" fill="#333" stroke="#333" stroke-width="0.2" textLength="32.45" lengthAdjust="spacingAndGlyphs">Forskolin</text>
<line x1="89.4" y1="583.3" x2="92.8" y2="583.3" stroke="#555" stroke-width="0.9"/>
<line x1="101.3" y1="583.3" x2="104.5" y2="583.3" stroke="#333" stroke-width="0.8"/>
<line x1="102.9" y1="581.7" x2="102.9" y2="584.9" stroke="#333" stroke-width="0.8"/>
<line x1="112.9" y1="583.3" x2="116.3" y2="583.3" stroke="#555" stroke-width="0.9"/>
<line x1="120.6" y1="583.3" x2="124" y2="583.3" stroke="#555" stroke-width="0.9"/>
<line x1="131.5" y1="583.3" x2="134.9" y2="583.3" stroke="#555" stroke-width="0.9"/>
<line x1="138.5" y1="583.3" x2="141.9" y2="583.3" stroke="#555" stroke-width="0.9"/>
<line x1="149.2" y1="583.3" x2="152.6" y2="583.3" stroke="#555" stroke-width="0.9"/>
<line x1="157.4" y1="583.3" x2="160.8" y2="583.3" stroke="#555" stroke-width="0.9"/>
<line x1="167.6" y1="583.3" x2="170.8" y2="583.3" stroke="#333" stroke-width="0.8"/>
<line x1="169.2" y1="581.7" x2="169.2" y2="584.9" stroke="#333" stroke-width="0.8"/>
<line x1="177.4" y1="583.3" x2="180.8" y2="583.3" stroke="#555" stroke-width="0.9"/>
<line x1="186.6" y1="583.3" x2="190" y2="583.3" stroke="#555" stroke-width="0.9"/>
<line x1="195.8" y1="583.3" x2="199.2" y2="583.3" stroke="#555" stroke-width="0.9"/>
<line x1="205.1" y1="583.3" x2="208.5" y2="583.3" stroke="#555" stroke-width="0.9"/>
<line x1="214.3" y1="583.3" x2="217.7" y2="583.3" stroke="#555" stroke-width="0.9"/>
<text x="77.9" y="593.8" font-size="8.48" text-anchor="end" fill="#333" stroke="#333" stroke-width="0.2" textLength="60.18" lengthAdjust="spacingAndGlyphs">12-HETrE 10 μM</text>
<line x1="89.4" y1="591" x2="92.8" y2="591" stroke="#555" stroke-width="0.9"/>
<line x1="101.2" y1="591" x2="104.6" y2="591" stroke="#555" stroke-width="0.9"/>
<line x1="113" y1="591" x2="116.2" y2="591" stroke="#333" stroke-width="0.8"/>
<line x1="114.6" y1="589.4" x2="114.6" y2="592.6" stroke="#333" stroke-width="0.8"/>
<line x1="120.6" y1="591" x2="124" y2="591" stroke="#555" stroke-width="0.9"/>
<line x1="131.5" y1="591" x2="134.9" y2="591" stroke="#555" stroke-width="0.9"/>
<line x1="138.5" y1="591" x2="141.9" y2="591" stroke="#555" stroke-width="0.9"/>
<line x1="149.2" y1="591" x2="152.6" y2="591" stroke="#555" stroke-width="0.9"/>
<line x1="157.4" y1="591" x2="160.8" y2="591" stroke="#555" stroke-width="0.9"/>
<line x1="167.5" y1="591" x2="170.9" y2="591" stroke="#555" stroke-width="0.9"/>
<line x1="177.5" y1="591" x2="180.7" y2="591" stroke="#333" stroke-width="0.8"/>
<line x1="179.1" y1="589.4" x2="179.1" y2="592.6" stroke="#333" stroke-width="0.8"/>
<line x1="186.6" y1="591" x2="190" y2="591" stroke="#555" stroke-width="0.9"/>
<line x1="195.8" y1="591" x2="199.2" y2="591" stroke="#555" stroke-width="0.9"/>
<line x1="205.1" y1="591" x2="208.5" y2="591" stroke="#555" stroke-width="0.9"/>
<line x1="214.3" y1="591" x2="217.7" y2="591" stroke="#555" stroke-width="0.9"/>
<text x="77.9" y="601.4" font-size="8.48" text-anchor="end" fill="#333" stroke="#333" stroke-width="0.2" textLength="60.18" lengthAdjust="spacingAndGlyphs">12-HETrE 25 μM</text>
<line x1="89.4" y1="598.6" x2="92.8" y2="598.6" stroke="#555" stroke-width="0.9"/>
<line x1="101.2" y1="598.6" x2="104.6" y2="598.6" stroke="#555" stroke-width="0.9"/>
<line x1="112.9" y1="598.6" x2="116.3" y2="598.6" stroke="#555" stroke-width="0.9"/>
<line x1="120.7" y1="598.6" x2="123.9" y2="598.6" stroke="#333" stroke-width="0.8"/>
<line x1="122.3" y1="597" x2="122.3" y2="600.2" stroke="#333" stroke-width="0.8"/>
<line x1="131.5" y1="598.6" x2="134.9" y2="598.6" stroke="#555" stroke-width="0.9"/>
<line x1="138.5" y1="598.6" x2="141.9" y2="598.6" stroke="#555" stroke-width="0.9"/>
<line x1="149.2" y1="598.6" x2="152.6" y2="598.6" stroke="#555" stroke-width="0.9"/>
<line x1="157.4" y1="598.6" x2="160.8" y2="598.6" stroke="#555" stroke-width="0.9"/>
<line x1="167.5" y1="598.6" x2="170.9" y2="598.6" stroke="#555" stroke-width="0.9"/>
<line x1="177.4" y1="598.6" x2="180.8" y2="598.6" stroke="#555" stroke-width="0.9"/>
<line x1="186.7" y1="598.6" x2="189.9" y2="598.6" stroke="#333" stroke-width="0.8"/>
<line x1="188.3" y1="597" x2="188.3" y2="600.2" stroke="#333" stroke-width="0.8"/>
<line x1="195.8" y1="598.6" x2="199.2" y2="598.6" stroke="#555" stroke-width="0.9"/>
<line x1="205.1" y1="598.6" x2="208.5" y2="598.6" stroke="#555" stroke-width="0.9"/>
<line x1="214.3" y1="598.6" x2="217.7" y2="598.6" stroke="#555" stroke-width="0.9"/>
<text x="77.9" y="610.3" font-size="8.48" text-anchor="end" fill="#333" stroke="#333" stroke-width="0.2" textLength="44.63" lengthAdjust="spacingAndGlyphs">CS585 1 μM</text>
<line x1="89.4" y1="607.5" x2="92.8" y2="607.5" stroke="#555" stroke-width="0.9"/>
<line x1="101.2" y1="607.5" x2="104.6" y2="607.5" stroke="#555" stroke-width="0.9"/>
<line x1="112.9" y1="607.5" x2="116.3" y2="607.5" stroke="#555" stroke-width="0.9"/>
<line x1="120.6" y1="607.5" x2="124" y2="607.5" stroke="#555" stroke-width="0.9"/>
<line x1="131.6" y1="607.5" x2="134.8" y2="607.5" stroke="#333" stroke-width="0.8"/>
<line x1="133.2" y1="605.9" x2="133.2" y2="609.1" stroke="#333" stroke-width="0.8"/>
<line x1="138.5" y1="607.5" x2="141.9" y2="607.5" stroke="#555" stroke-width="0.9"/>
<line x1="149.2" y1="607.5" x2="152.6" y2="607.5" stroke="#555" stroke-width="0.9"/>
<line x1="157.4" y1="607.5" x2="160.8" y2="607.5" stroke="#555" stroke-width="0.9"/>
<line x1="167.5" y1="607.5" x2="170.9" y2="607.5" stroke="#555" stroke-width="0.9"/>
<line x1="177.4" y1="607.5" x2="180.8" y2="607.5" stroke="#555" stroke-width="0.9"/>
<line x1="186.6" y1="607.5" x2="190" y2="607.5" stroke="#555" stroke-width="0.9"/>
<line x1="195.9" y1="607.5" x2="199.1" y2="607.5" stroke="#333" stroke-width="0.8"/>
<line x1="197.5" y1="605.9" x2="197.5" y2="609.1" stroke="#333" stroke-width="0.8"/>
<line x1="205.1" y1="607.5" x2="208.5" y2="607.5" stroke="#555" stroke-width="0.9"/>
<line x1="214.3" y1="607.5" x2="217.7" y2="607.5" stroke="#555" stroke-width="0.9"/>
<text x="77.9" y="618.8" font-size="8.48" text-anchor="end" fill="#333" stroke="#333" stroke-width="0.2" textLength="44.63" lengthAdjust="spacingAndGlyphs">CS585 5 μM</text>
<line x1="89.4" y1="616" x2="92.8" y2="616" stroke="#555" stroke-width="0.9"/>
<line x1="101.2" y1="616" x2="104.6" y2="616" stroke="#555" stroke-width="0.9"/>
<line x1="112.9" y1="616" x2="116.3" y2="616" stroke="#555" stroke-width="0.9"/>
<line x1="120.6" y1="616" x2="124" y2="616" stroke="#555" stroke-width="0.9"/>
<line x1="131.5" y1="616" x2="134.9" y2="616" stroke="#555" stroke-width="0.9"/>
<line x1="138.6" y1="616" x2="141.8" y2="616" stroke="#333" stroke-width="0.8"/>
<line x1="140.2" y1="614.4" x2="140.2" y2="617.6" stroke="#333" stroke-width="0.8"/>
<line x1="149.2" y1="616" x2="152.6" y2="616" stroke="#555" stroke-width="0.9"/>
<line x1="157.4" y1="616" x2="160.8" y2="616" stroke="#555" stroke-width="0.9"/>
<line x1="167.5" y1="616" x2="170.9" y2="616" stroke="#555" stroke-width="0.9"/>
<line x1="177.4" y1="616" x2="180.8" y2="616" stroke="#555" stroke-width="0.9"/>
<line x1="186.6" y1="616" x2="190" y2="616" stroke="#555" stroke-width="0.9"/>
<line x1="195.8" y1="616" x2="199.2" y2="616" stroke="#555" stroke-width="0.9"/>
<line x1="205.2" y1="616" x2="208.4" y2="616" stroke="#333" stroke-width="0.8"/>
<line x1="206.8" y1="614.4" x2="206.8" y2="617.6" stroke="#333" stroke-width="0.8"/>
<line x1="214.3" y1="616" x2="217.7" y2="616" stroke="#555" stroke-width="0.9"/>
<text x="77.9" y="627.7" font-size="8.48" text-anchor="end" fill="#333" stroke="#333" stroke-width="0.2" textLength="49.08" lengthAdjust="spacingAndGlyphs">CS585 10 μM</text>
<line x1="89.4" y1="624.9" x2="92.8" y2="624.9" stroke="#555" stroke-width="0.9"/>
<line x1="101.2" y1="624.9" x2="104.6" y2="624.9" stroke="#555" stroke-width="0.9"/>
<line x1="112.9" y1="624.9" x2="116.3" y2="624.9" stroke="#555" stroke-width="0.9"/>
<line x1="120.6" y1="624.9" x2="124" y2="624.9" stroke="#555" stroke-width="0.9"/>
<line x1="131.5" y1="624.9" x2="134.9" y2="624.9" stroke="#555" stroke-width="0.9"/>
<line x1="138.5" y1="624.9" x2="141.9" y2="624.9" stroke="#555" stroke-width="0.9"/>
<line x1="149.3" y1="624.9" x2="152.5" y2="624.9" stroke="#333" stroke-width="0.8"/>
<line x1="150.9" y1="623.3" x2="150.9" y2="626.5" stroke="#333" stroke-width="0.8"/>
<line x1="157.4" y1="624.9" x2="160.8" y2="624.9" stroke="#555" stroke-width="0.9"/>
<line x1="167.5" y1="624.9" x2="170.9" y2="624.9" stroke="#555" stroke-width="0.9"/>
<line x1="177.4" y1="624.9" x2="180.8" y2="624.9" stroke="#555" stroke-width="0.9"/>
<line x1="186.6" y1="624.9" x2="190" y2="624.9" stroke="#555" stroke-width="0.9"/>
<line x1="195.8" y1="624.9" x2="199.2" y2="624.9" stroke="#555" stroke-width="0.9"/>
<line x1="205.1" y1="624.9" x2="208.5" y2="624.9" stroke="#555" stroke-width="0.9"/>
<line x1="214.4" y1="624.9" x2="217.6" y2="624.9" stroke="#333" stroke-width="0.8"/>
<line x1="216" y1="623.3" x2="216" y2="626.5" stroke="#333" stroke-width="0.8"/>
<line x1="90.1" y1="569.5" x2="151.9" y2="569.5" stroke="#231f20" stroke-width="1"/>
<line x1="156.3" y1="569.5" x2="217.8" y2="569.5" stroke="#231f20" stroke-width="1"/>
<text x="121" y="567.4" font-size="7.84" text-anchor="middle" fill="#333" stroke="#333" stroke-width="0.2" textLength="11.5" lengthAdjust="spacingAndGlyphs">WT</text>
<text x="181.5" y="567.4" font-size="7.84" fill="#333" stroke="#333" stroke-width="0.2" textLength="6.99" lengthAdjust="spacingAndGlyphs">IP</text>
<text x="188" y="564.6" font-size="4.66" fill="#333" stroke="#333" stroke-width="0.2" textLength="6.36" lengthAdjust="spacingAndGlyphs">−/−</text>
<rect x="71.8" y="633.9" width="151.2" height="38.7" fill="#e2e0e2"/>
<text x="65.5" y="640.1" font-size="8.06" text-anchor="end" fill="#333" stroke="#333" stroke-width="0.2" textLength="25.2" lengthAdjust="spacingAndGlyphs">75 kDa</text>
<line x1="68.9" y1="637.5" x2="70.9" y2="637.5" stroke="#333" stroke-width="0.9"/>
<text x="65.5" y="649.6" font-size="8.06" text-anchor="end" fill="#333" stroke="#333" stroke-width="0.2" textLength="25.2" lengthAdjust="spacingAndGlyphs">50 kDa</text>
<line x1="68.9" y1="647" x2="70.9" y2="647" stroke="#333" stroke-width="0.9"/>
<text x="65.5" y="656.4" font-size="8.06" text-anchor="end" fill="#333" stroke="#333" stroke-width="0.2" textLength="25.2" lengthAdjust="spacingAndGlyphs">37 kDa</text>
<line x1="68.9" y1="653.8" x2="70.9" y2="653.8" stroke="#333" stroke-width="0.9"/>
<text x="65.5" y="668.2" font-size="8.06" text-anchor="end" fill="#333" stroke="#333" stroke-width="0.2" textLength="25.2" lengthAdjust="spacingAndGlyphs">25 kDa</text>
<line x1="68.9" y1="665.6" x2="70.9" y2="665.6" stroke="#333" stroke-width="0.9"/>
<rect x="80.45" y="634" width="7.5" height="5" rx="2.5" fill="#111" fill-opacity="1"/>
<line x1="76" y1="636.5" x2="81" y2="636.5" stroke="#222" stroke-width="1"/>
<rect x="80.2" y="644.9" width="7" height="3" rx="1.5" fill="#111" fill-opacity="1"/>
<rect x="80" y="652.5" width="6.6" height="3" rx="1.5" fill="#111" fill-opacity="1"/>
<ellipse cx="83.1" cy="665.7" rx="4.2" ry="4.8" fill="#111"/>
<rect x="87.85" y="655" width="6.5" height="1.2" rx="0.6" fill="#111" fill-opacity="0.75"/>
<rect x="100.15" y="645.95" width="5.5" height="1.3" rx="0.65" fill="#111" fill-opacity="0.8"/>
<rect x="99.65" y="655" width="6.5" height="1.2" rx="0.6" fill="#111" fill-opacity="0.75"/>
<rect x="111.85" y="645.95" width="5.5" height="1.3" rx="0.65" fill="#111" fill-opacity="0.15"/>
<rect x="111.35" y="655" width="6.5" height="1.2" rx="0.6" fill="#111" fill-opacity="0.75"/>
<rect x="119.55" y="645.95" width="5.5" height="1.3" rx="0.65" fill="#111" fill-opacity="0.15"/>
<rect x="119.05" y="655" width="6.5" height="1.2" rx="0.6" fill="#111" fill-opacity="0.75"/>
<rect x="129.95" y="655" width="6.5" height="1.2" rx="0.6" fill="#111" fill-opacity="0.75"/>
<rect x="137.45" y="645.95" width="5.5" height="1.3" rx="0.65" fill="#111" fill-opacity="0.85"/>
<rect x="136.95" y="655" width="6.5" height="1.2" rx="0.6" fill="#111" fill-opacity="0.75"/>
<rect x="148.15" y="645.95" width="5.5" height="1.3" rx="0.65" fill="#111" fill-opacity="0.8"/>
<rect x="147.65" y="655" width="6.5" height="1.2" rx="0.6" fill="#111" fill-opacity="0.75"/>
<rect x="155.85" y="655" width="6.5" height="1.2" rx="0.6" fill="#111" fill-opacity="0.75"/>
<rect x="166.45" y="645.95" width="5.5" height="1.3" rx="0.65" fill="#111" fill-opacity="0.1"/>
<rect x="165.95" y="655" width="6.5" height="1.2" rx="0.6" fill="#111" fill-opacity="0.75"/>
<rect x="176.35" y="645.95" width="5.5" height="1.3" rx="0.65" fill="#111" fill-opacity="0.55"/>
<rect x="175.85" y="655" width="6.5" height="1.2" rx="0.6" fill="#111" fill-opacity="0.75"/>
<rect x="185.05" y="655" width="6.5" height="1.2" rx="0.6" fill="#111" fill-opacity="0.75"/>
<rect x="194.75" y="645.95" width="5.5" height="1.3" rx="0.65" fill="#111" fill-opacity="0.05"/>
<rect x="194.25" y="655" width="6.5" height="1.2" rx="0.6" fill="#111" fill-opacity="0.75"/>
<rect x="203.55" y="655" width="6.5" height="1.2" rx="0.6" fill="#111" fill-opacity="0.75"/>
<rect x="212.75" y="655" width="6.5" height="1.2" rx="0.6" fill="#111" fill-opacity="0.75"/>
<text x="226.2" y="649.3" font-size="8.06" fill="#333" stroke="#333" stroke-width="0.2" textLength="48.5" lengthAdjust="spacingAndGlyphs">Ser157 pVASP</text>
<text x="226.2" y="660" font-size="8.06" fill="#333" stroke="#333" stroke-width="0.2" textLength="27.03" lengthAdjust="spacingAndGlyphs">GAPDH</text>
</svg>
</body></html>
